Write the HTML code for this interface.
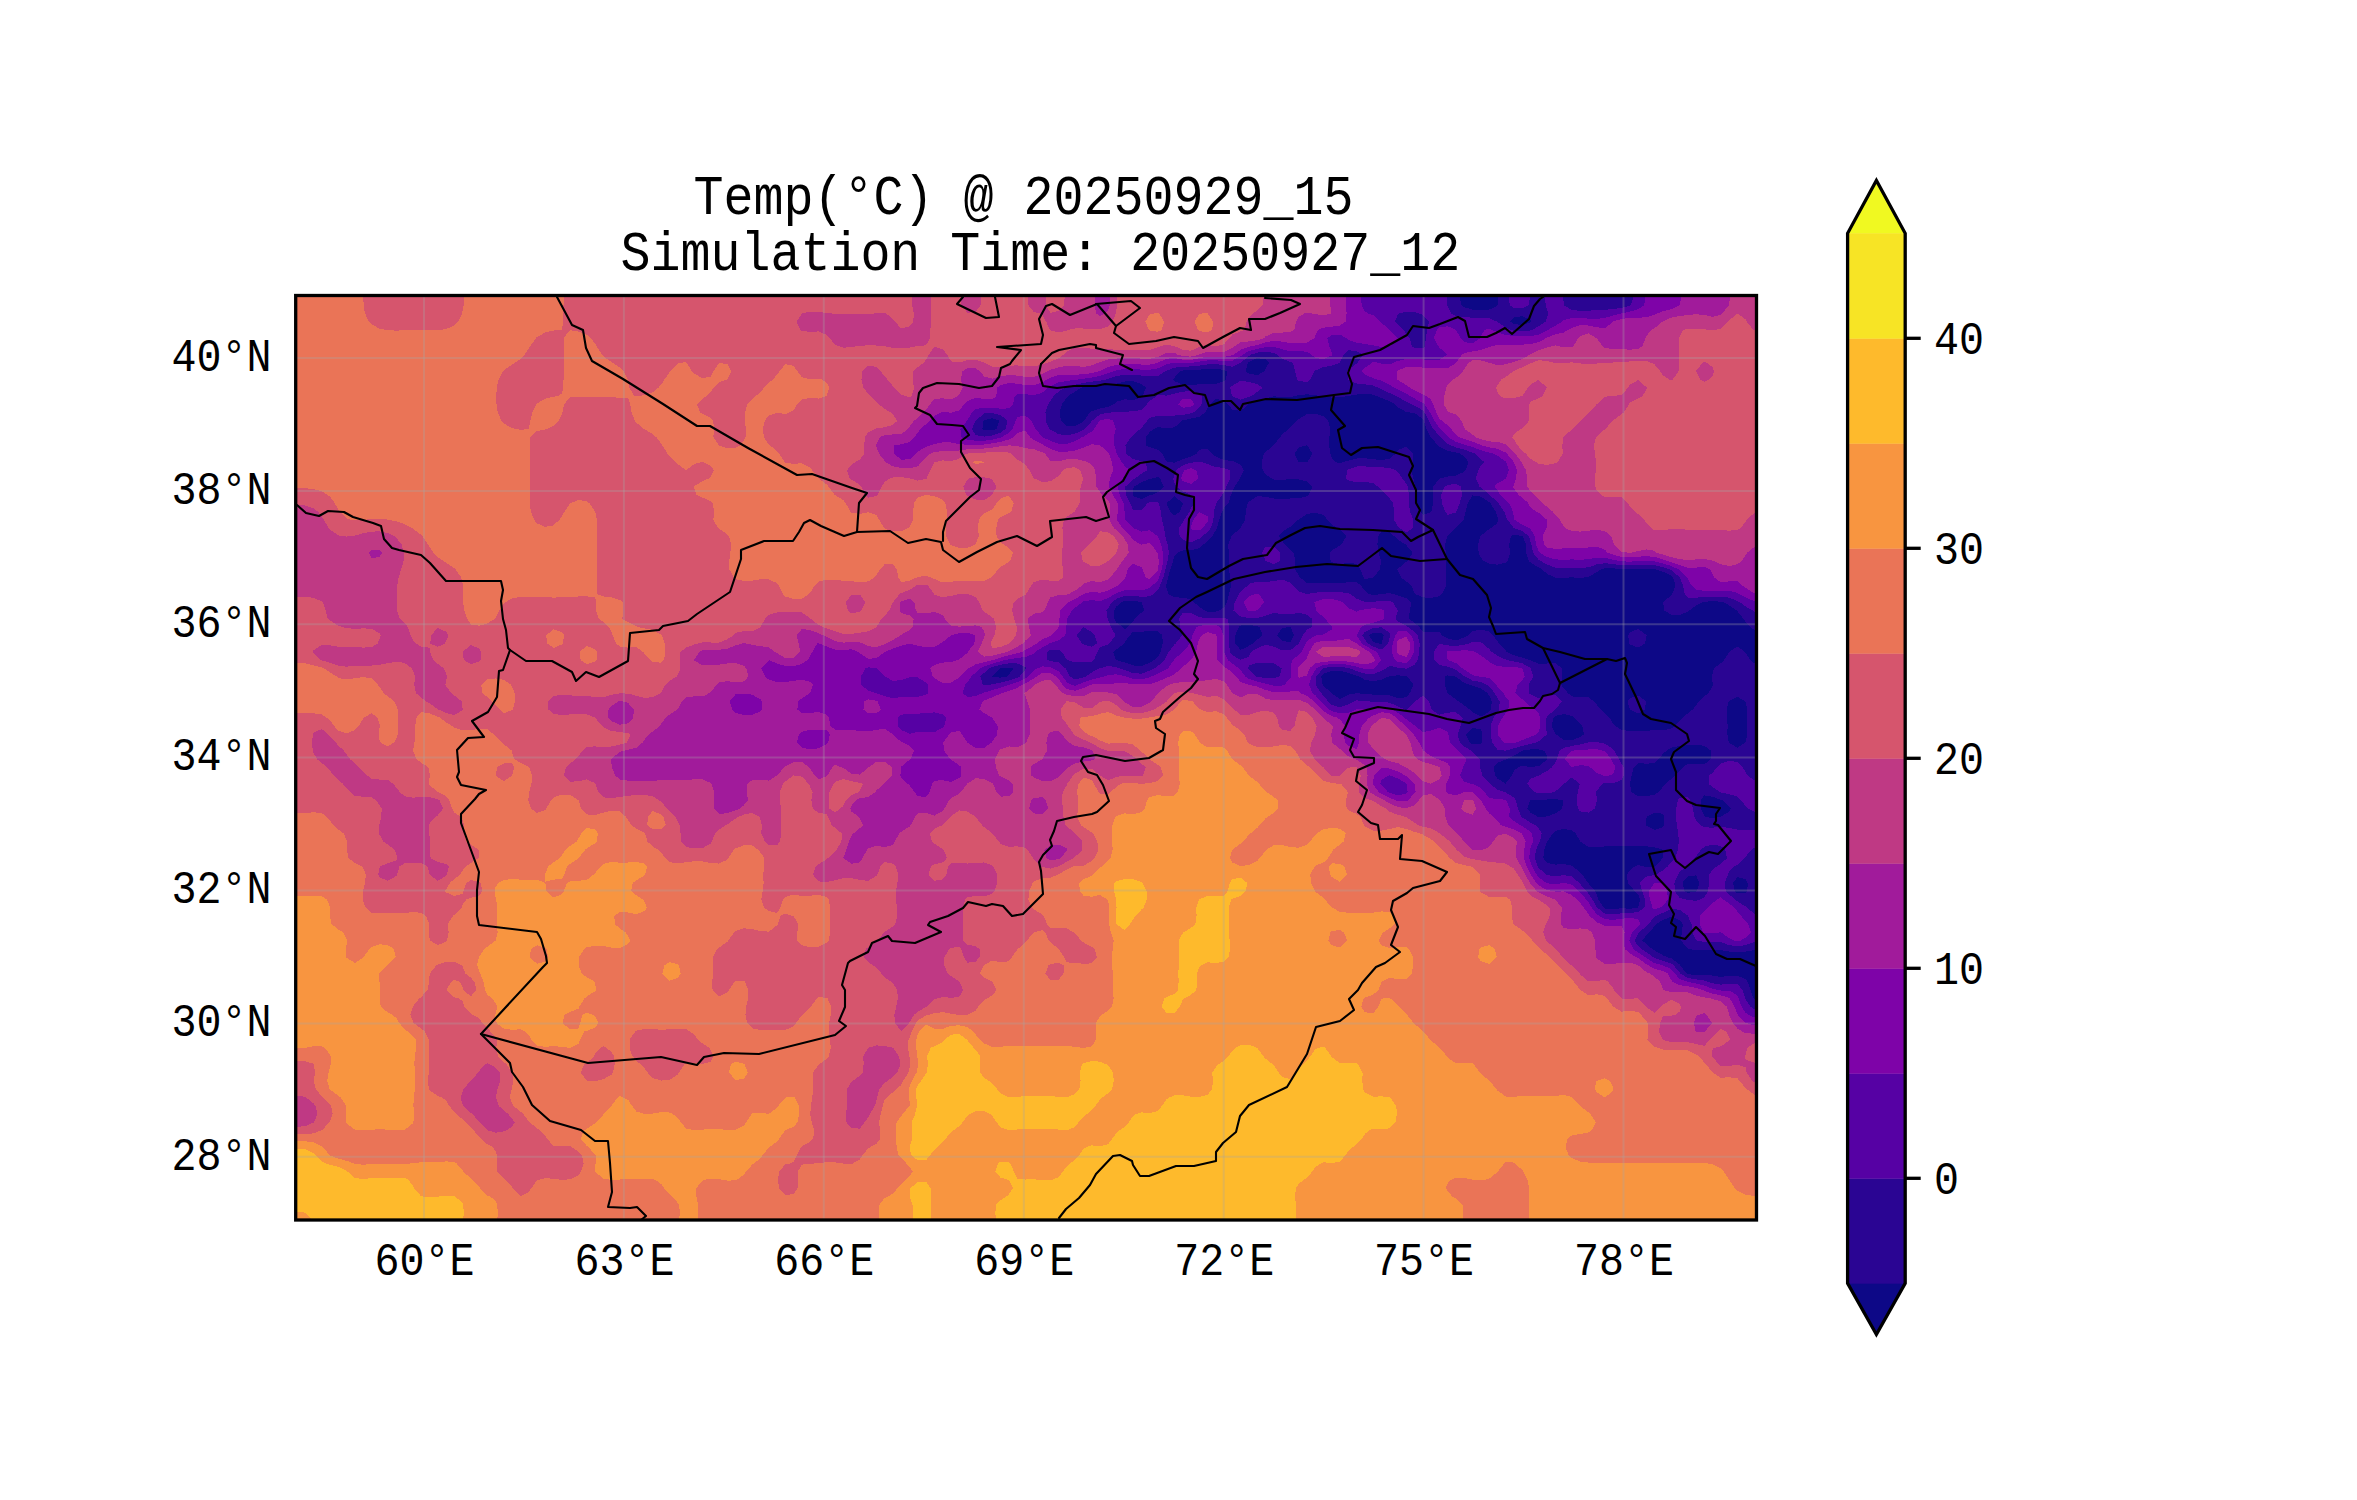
<!DOCTYPE html><html><head><meta charset="utf-8"><style>html,body{margin:0;padding:0;background:#fff;overflow:hidden}svg{display:block}text{font-family:"Liberation Mono",monospace;fill:#000}</style></head><body>
<svg xmlns="http://www.w3.org/2000/svg" width="2357" height="1500" viewBox="0 0 2357 1500">
<rect width="2357" height="1500" fill="#fff"/>
<defs><clipPath id="mc"><rect x="295.7" y="295.5" width="1460.8" height="924.5"/></clipPath></defs>
<g clip-path="url(#mc)" shape-rendering="crispEdges">
<rect x="280" y="280" width="1500" height="960" fill="#0d0887"/>
<path fill="#2a0593" fill-rule="evenodd" d="M288.7 288.7L297.0 288.7L305.2 288.7L313.5 288.7L321.8 288.7L330.1 288.7L338.3 288.7L346.6 288.7L354.9 288.7L363.2 288.7L371.5 288.7L379.7 288.7L388.0 288.7L396.3 288.7L404.6 288.7L412.9 288.7L421.1 288.7L429.4 288.7L437.7 288.7L446.0 288.7L454.2 288.7L462.5 288.7L470.8 288.7L479.1 288.7L487.4 288.7L495.6 288.7L503.9 288.7L512.2 288.7L520.5 288.7L528.8 288.7L537.0 288.7L545.3 288.7L553.6 288.7L561.9 288.7L570.1 288.7L578.4 288.7L586.7 288.7L595.0 288.7L603.3 288.7L611.5 288.7L619.8 288.7L628.1 288.7L636.4 288.7L644.7 288.7L652.9 288.7L661.2 288.7L669.5 288.7L677.8 288.7L686.0 288.7L694.3 288.7L702.6 288.7L710.9 288.7L719.2 288.7L727.4 288.7L735.7 288.7L744.0 288.7L752.3 288.7L760.5 288.7L768.8 288.7L777.1 288.7L785.4 288.7L793.7 288.7L801.9 288.7L810.2 288.7L818.5 288.7L826.8 288.7L835.1 288.7L843.3 288.7L851.6 288.7L859.9 288.7L868.2 288.7L876.4 288.7L884.7 288.7L893.0 288.7L901.3 288.7L909.6 288.7L917.8 288.7L926.1 288.7L934.4 288.7L942.7 288.7L951.0 288.7L959.2 288.7L967.5 288.7L975.8 288.7L984.1 288.7L992.3 288.7L1000.6 288.7L1008.9 288.7L1017.2 288.7L1025.5 288.7L1033.7 288.7L1042.0 288.7L1050.3 288.7L1058.6 288.7L1066.9 288.7L1075.1 288.7L1083.4 288.7L1091.7 288.7L1100.0 288.7L1108.2 288.7L1116.5 288.7L1124.8 288.7L1133.1 288.7L1141.4 288.7L1149.6 288.7L1157.9 288.7L1166.2 288.7L1174.5 288.7L1182.8 288.7L1191.0 288.7L1199.3 288.7L1207.6 288.7L1215.9 288.7L1224.1 288.7L1232.4 288.7L1240.7 288.7L1249.0 288.7L1257.3 288.7L1265.5 288.7L1273.8 288.7L1282.1 288.7L1290.4 288.7L1298.7 288.7L1306.9 288.7L1315.2 288.7L1323.5 288.7L1331.8 288.7L1340.0 288.7L1348.3 288.7L1356.6 288.7L1364.9 288.7L1373.2 288.7L1381.4 288.7L1389.7 288.7L1398.0 288.7L1406.3 288.7L1414.5 288.7L1422.8 288.7L1431.1 288.7L1439.4 288.7L1447.7 288.7L1455.9 288.7L1461.4 288.7L1459.6 296.9L1461.3 305.2L1464.2 307.2L1472.5 309.6L1480.8 310.1L1489.1 309.7L1497.3 305.7L1497.6 305.2L1498.2 296.9L1497.6 288.7L1505.6 288.7L1513.9 288.7L1522.2 288.7L1530.4 288.7L1538.7 288.7L1547.0 288.7L1555.3 288.7L1563.6 288.7L1571.8 288.7L1580.1 288.7L1588.4 288.7L1596.7 288.7L1605.0 288.7L1613.2 288.7L1621.5 288.7L1629.8 288.7L1638.1 288.7L1646.3 288.7L1654.6 288.7L1662.9 288.7L1671.2 288.7L1679.5 288.7L1687.7 288.7L1696.0 288.7L1704.3 288.7L1712.6 288.7L1720.9 288.7L1729.1 288.7L1737.4 288.7L1745.7 288.7L1754.0 288.7L1762.2 288.7L1770.5 288.7L1770.5 296.9L1770.5 305.2L1770.5 313.4L1770.5 321.7L1770.5 329.9L1770.5 338.2L1770.5 346.4L1770.5 354.7L1770.5 362.9L1770.5 371.2L1770.5 379.5L1770.5 387.7L1770.5 396.0L1770.5 404.2L1770.5 412.5L1770.5 420.7L1770.5 429.0L1770.5 437.2L1770.5 445.5L1770.5 453.7L1770.5 462.0L1770.5 470.2L1770.5 478.5L1770.5 486.7L1770.5 495.0L1770.5 503.2L1770.5 511.5L1770.5 519.7L1770.5 528.0L1770.5 536.3L1770.5 544.5L1770.5 552.8L1770.5 561.0L1770.5 569.3L1770.5 577.5L1770.5 585.8L1770.5 594.0L1770.5 602.3L1770.5 610.5L1770.5 618.8L1770.5 627.0L1770.5 629.8L1762.2 630.8L1754.0 629.8L1750.4 627.0L1745.7 621.9L1743.4 618.8L1737.4 611.2L1736.8 610.5L1729.1 605.3L1723.4 602.3L1720.9 601.7L1712.6 601.1L1704.3 601.8L1702.2 602.3L1696.0 605.7L1689.1 610.5L1687.7 611.9L1679.5 614.9L1671.2 614.6L1664.4 610.5L1663.2 602.3L1671.2 595.1L1672.1 594.0L1675.6 585.8L1673.1 577.5L1671.2 575.8L1662.9 571.7L1655.5 569.3L1654.6 569.1L1646.3 568.7L1638.1 569.0L1629.8 569.2L1621.5 569.0L1613.2 568.4L1605.0 568.2L1601.1 569.3L1596.7 572.1L1588.4 577.0L1584.2 577.5L1580.1 578.3L1573.8 577.5L1571.8 577.4L1569.3 577.5L1563.6 578.1L1555.3 577.9L1554.8 577.5L1547.0 573.8L1542.0 569.3L1538.7 567.5L1530.4 562.4L1528.7 561.0L1526.0 552.8L1526.0 544.5L1522.6 536.3L1522.2 535.9L1513.9 534.8L1510.9 536.3L1509.1 544.5L1510.1 552.8L1507.8 561.0L1505.6 562.7L1497.3 564.6L1489.1 563.7L1483.8 561.0L1480.8 557.5L1478.6 552.8L1478.1 544.5L1480.3 536.3L1480.8 535.7L1489.1 529.1L1491.6 528.0L1497.3 523.1L1498.4 519.7L1497.3 516.4L1495.8 511.5L1490.3 503.2L1489.1 502.0L1480.8 496.7L1472.5 495.4L1467.8 503.2L1465.7 511.5L1464.2 517.7L1463.5 519.7L1455.9 527.7L1455.4 528.0L1447.7 535.3L1447.0 536.3L1445.3 544.5L1445.6 552.8L1445.8 561.0L1445.8 569.3L1446.2 577.5L1446.0 585.8L1442.1 594.0L1439.4 596.2L1431.1 597.9L1422.8 597.4L1415.3 594.0L1414.5 593.0L1411.5 585.8L1406.3 581.5L1401.1 577.5L1398.0 570.5L1397.4 569.3L1398.0 568.7L1406.3 561.8L1407.6 561.0L1412.6 552.8L1406.3 545.2L1405.6 544.5L1398.0 539.6L1394.3 536.3L1389.7 531.8L1381.4 531.3L1378.3 536.3L1377.4 544.5L1378.8 552.8L1380.9 561.0L1380.1 569.3L1373.2 577.5L1372.8 577.5L1364.9 579.1L1363.6 577.5L1360.3 569.3L1356.6 563.9L1348.3 562.6L1340.0 564.3L1331.8 562.2L1330.7 561.0L1329.5 552.8L1331.8 550.4L1340.0 545.5L1341.5 544.5L1346.3 536.3L1340.0 530.0L1336.8 528.0L1331.8 524.7L1327.5 519.7L1323.5 515.0L1315.2 512.6L1306.9 514.0L1298.7 519.4L1298.3 519.7L1290.4 526.9L1287.9 528.0L1282.1 531.9L1278.7 536.3L1282.1 540.5L1284.9 544.5L1290.4 550.0L1293.6 552.8L1295.3 561.0L1295.2 569.3L1298.7 575.6L1300.0 577.5L1306.9 582.9L1315.2 583.4L1323.5 582.6L1331.8 583.2L1340.0 583.2L1348.3 582.3L1356.6 581.9L1361.1 585.8L1364.9 590.6L1368.7 594.0L1373.2 595.1L1381.4 594.0L1381.4 594.0L1389.7 593.1L1392.7 594.0L1398.0 595.4L1406.3 598.2L1411.4 602.3L1409.8 610.5L1409.0 618.8L1414.5 622.9L1419.3 627.0L1422.8 631.8L1431.1 632.2L1439.4 632.0L1442.0 635.3L1447.7 638.4L1455.9 640.4L1464.2 637.6L1468.4 635.3L1472.5 631.1L1480.8 629.5L1489.1 631.5L1493.0 635.3L1497.3 641.2L1498.9 643.5L1505.6 650.5L1506.7 651.8L1513.9 655.2L1522.2 657.6L1529.9 660.0L1530.4 660.2L1538.7 663.7L1547.0 663.5L1555.3 663.1L1562.1 668.3L1562.2 676.5L1560.9 684.8L1563.6 687.9L1568.0 693.1L1571.8 696.4L1580.1 697.1L1588.4 697.1L1593.5 701.3L1596.7 704.7L1600.6 709.6L1605.0 713.5L1609.5 717.8L1613.2 723.9L1615.3 726.1L1621.5 729.8L1629.8 731.1L1638.1 731.5L1646.3 730.8L1654.6 730.2L1662.9 730.3L1671.2 728.7L1674.4 726.1L1679.5 720.6L1682.2 717.8L1687.7 713.4L1692.7 709.6L1696.0 705.4L1698.7 701.3L1704.3 696.3L1708.7 693.1L1712.6 685.4L1712.8 684.8L1712.6 682.7L1712.0 676.5L1712.6 673.4L1713.9 668.3L1720.9 663.1L1724.2 660.0L1729.1 652.1L1729.4 651.8L1737.4 646.5L1744.7 651.8L1745.7 653.0L1750.3 660.0L1754.0 663.1L1762.2 664.0L1770.5 663.1L1770.5 668.3L1770.5 676.5L1770.5 684.8L1770.5 693.1L1770.5 701.3L1770.5 709.6L1770.5 717.8L1770.5 726.1L1770.5 734.3L1770.5 742.6L1770.5 750.8L1770.5 759.1L1770.5 767.3L1770.5 775.6L1770.5 783.8L1770.5 792.1L1770.5 800.3L1770.5 808.6L1770.5 816.8L1770.5 825.1L1770.5 833.3L1770.5 841.6L1770.5 849.9L1770.5 858.1L1770.5 866.4L1770.5 874.6L1770.5 882.9L1770.5 891.1L1770.5 899.4L1770.5 907.6L1770.5 915.9L1770.5 924.1L1770.5 932.4L1770.5 940.6L1770.5 948.9L1770.5 950.2L1762.2 949.7L1754.0 950.2L1745.7 951.6L1737.4 952.2L1729.1 951.6L1720.9 950.1L1712.6 949.6L1704.3 950.1L1696.0 950.2L1688.8 948.9L1687.7 948.5L1681.0 940.6L1681.7 932.4L1682.9 924.1L1679.5 920.0L1671.2 916.8L1662.9 919.9L1656.5 924.1L1654.6 926.3L1648.9 932.4L1646.3 935.2L1642.4 940.6L1646.3 944.1L1652.1 948.9L1654.6 950.5L1662.9 955.3L1666.9 957.1L1671.2 958.2L1679.5 964.3L1680.0 965.4L1687.0 973.6L1687.7 974.1L1696.0 975.2L1704.3 974.8L1712.6 975.6L1720.9 976.9L1729.1 976.0L1737.4 975.7L1745.7 979.3L1747.7 981.9L1750.4 990.1L1753.6 998.4L1754.0 998.8L1762.2 1000.7L1770.5 998.8L1770.5 1006.7L1770.5 1014.9L1770.5 1023.2L1770.5 1031.4L1770.5 1039.7L1770.5 1047.9L1770.5 1056.2L1770.5 1064.4L1770.5 1072.7L1770.5 1080.9L1770.5 1089.2L1770.5 1097.4L1770.5 1105.7L1770.5 1113.9L1770.5 1122.2L1770.5 1130.4L1770.5 1138.7L1770.5 1146.9L1770.5 1155.2L1770.5 1163.5L1770.5 1171.7L1770.5 1180.0L1770.5 1188.2L1770.5 1196.5L1770.5 1204.7L1770.5 1213.0L1770.5 1221.2L1770.5 1229.5L1770.5 1237.7L1762.2 1237.7L1754.0 1237.7L1745.7 1237.7L1737.4 1237.7L1729.1 1237.7L1720.9 1237.7L1712.6 1237.7L1704.3 1237.7L1696.0 1237.7L1687.7 1237.7L1679.5 1237.7L1671.2 1237.7L1662.9 1237.7L1654.6 1237.7L1646.3 1237.7L1638.1 1237.7L1629.8 1237.7L1621.5 1237.7L1613.2 1237.7L1605.0 1237.7L1596.7 1237.7L1588.4 1237.7L1580.1 1237.7L1571.8 1237.7L1563.6 1237.7L1555.3 1237.7L1547.0 1237.7L1538.7 1237.7L1530.4 1237.7L1522.2 1237.7L1513.9 1237.7L1505.6 1237.7L1497.3 1237.7L1489.1 1237.7L1480.8 1237.7L1472.5 1237.7L1464.2 1237.7L1455.9 1237.7L1447.7 1237.7L1439.4 1237.7L1431.1 1237.7L1422.8 1237.7L1414.5 1237.7L1406.3 1237.7L1398.0 1237.7L1389.7 1237.7L1381.4 1237.7L1373.2 1237.7L1364.9 1237.7L1356.6 1237.7L1348.3 1237.7L1340.0 1237.7L1331.8 1237.7L1323.5 1237.7L1315.2 1237.7L1306.9 1237.7L1298.7 1237.7L1290.4 1237.7L1282.1 1237.7L1273.8 1237.7L1265.5 1237.7L1257.3 1237.7L1249.0 1237.7L1240.7 1237.7L1232.4 1237.7L1224.1 1237.7L1215.9 1237.7L1207.6 1237.7L1199.3 1237.7L1191.0 1237.7L1182.8 1237.7L1174.5 1237.7L1166.2 1237.7L1157.9 1237.7L1149.6 1237.7L1141.4 1237.7L1133.1 1237.7L1124.8 1237.7L1116.5 1237.7L1108.2 1237.7L1100.0 1237.7L1091.7 1237.7L1083.4 1237.7L1075.1 1237.7L1066.9 1237.7L1058.6 1237.7L1050.3 1237.7L1042.0 1237.7L1033.7 1237.7L1025.5 1237.7L1017.2 1237.7L1008.9 1237.7L1000.6 1237.7L992.3 1237.7L984.1 1237.7L975.8 1237.7L967.5 1237.7L959.2 1237.7L951.0 1237.7L942.7 1237.7L934.4 1237.7L926.1 1237.7L917.8 1237.7L909.6 1237.7L901.3 1237.7L893.0 1237.7L884.7 1237.7L876.4 1237.7L868.2 1237.7L859.9 1237.7L851.6 1237.7L843.3 1237.7L835.1 1237.7L826.8 1237.7L818.5 1237.7L810.2 1237.7L801.9 1237.7L793.7 1237.7L785.4 1237.7L777.1 1237.7L768.8 1237.7L760.5 1237.7L752.3 1237.7L744.0 1237.7L735.7 1237.7L727.4 1237.7L719.2 1237.7L710.9 1237.7L702.6 1237.7L694.3 1237.7L686.0 1237.7L677.8 1237.7L669.5 1237.7L661.2 1237.7L652.9 1237.7L644.7 1237.7L636.4 1237.7L628.1 1237.7L619.8 1237.7L611.5 1237.7L603.3 1237.7L595.0 1237.7L586.7 1237.7L578.4 1237.7L570.1 1237.7L561.9 1237.7L553.6 1237.7L545.3 1237.7L537.0 1237.7L528.8 1237.7L520.5 1237.7L512.2 1237.7L503.9 1237.7L495.6 1237.7L487.4 1237.7L479.1 1237.7L470.8 1237.7L462.5 1237.7L454.2 1237.7L446.0 1237.7L437.7 1237.7L429.4 1237.7L421.1 1237.7L412.9 1237.7L404.6 1237.7L396.3 1237.7L388.0 1237.7L379.7 1237.7L371.5 1237.7L363.2 1237.7L354.9 1237.7L346.6 1237.7L338.3 1237.7L330.1 1237.7L321.8 1237.7L313.5 1237.7L305.2 1237.7L297.0 1237.7L288.7 1237.7L288.7 1229.5L288.7 1221.2L288.7 1213.0L288.7 1204.7L288.7 1196.5L288.7 1188.2L288.7 1180.0L288.7 1171.7L288.7 1163.5L288.7 1155.2L288.7 1146.9L288.7 1138.7L288.7 1130.4L288.7 1122.2L288.7 1113.9L288.7 1105.7L288.7 1097.4L288.7 1089.2L288.7 1080.9L288.7 1072.7L288.7 1064.4L288.7 1056.2L288.7 1047.9L288.7 1039.7L288.7 1031.4L288.7 1023.2L288.7 1014.9L288.7 1006.7L288.7 998.4L288.7 990.1L288.7 981.9L288.7 973.6L288.7 965.4L288.7 957.1L288.7 948.9L288.7 940.6L288.7 932.4L288.7 924.1L288.7 915.9L288.7 907.6L288.7 899.4L288.7 891.1L288.7 882.9L288.7 874.6L288.7 866.4L288.7 858.1L288.7 849.9L288.7 841.6L288.7 833.3L288.7 825.1L288.7 816.8L288.7 808.6L288.7 800.3L288.7 792.1L288.7 783.8L288.7 775.6L288.7 767.3L288.7 759.1L288.7 750.8L288.7 742.6L288.7 734.3L288.7 726.1L288.7 717.8L288.7 709.6L288.7 701.3L288.7 693.1L288.7 684.8L288.7 676.5L288.7 668.3L288.7 660.0L288.7 651.8L288.7 643.5L288.7 635.3L288.7 627.0L288.7 618.8L288.7 610.5L288.7 602.3L288.7 594.0L288.7 585.8L288.7 577.5L288.7 569.3L288.7 561.0L288.7 552.8L288.7 544.5L288.7 536.3L288.7 528.0L288.7 519.7L288.7 511.5L288.7 503.2L288.7 495.0L288.7 486.7L288.7 478.5L288.7 470.2L288.7 462.0L288.7 453.7L288.7 445.5L288.7 437.2L288.7 429.0L288.7 420.7L288.7 412.5L288.7 404.2L288.7 396.0L288.7 387.7L288.7 379.5L288.7 371.2L288.7 362.9L288.7 354.7L288.7 346.4L288.7 338.2L288.7 329.9L288.7 321.7L288.7 313.4L288.7 305.2L288.7 296.9ZM984.1 420.1L983.3 420.7L982.4 429.0L984.1 430.0L992.3 430.5L996.4 429.0L999.4 420.7L992.3 418.3ZM1000.6 668.3L1000.6 668.3L992.3 675.9L991.5 676.5L992.3 677.0L1000.6 677.6L1007.0 676.5L1008.9 674.5L1013.4 668.3L1008.9 667.5ZM1083.4 387.0L1080.8 387.7L1075.1 391.6L1068.1 396.0L1066.9 397.5L1062.0 404.2L1059.6 412.5L1061.1 420.7L1066.9 425.9L1075.1 426.1L1083.4 421.6L1084.2 420.7L1089.8 412.5L1091.7 411.1L1100.0 408.6L1108.2 406.8L1114.1 404.2L1116.5 401.8L1124.8 399.2L1133.1 400.4L1141.4 397.2L1142.5 396.0L1146.1 387.7L1141.4 383.9L1133.1 381.3L1124.8 381.5L1116.5 383.7L1108.2 385.3L1100.0 385.6L1091.7 385.9ZM1182.8 370.5L1179.8 371.2L1174.5 377.6L1172.8 379.5L1174.5 381.1L1182.8 384.9L1191.0 385.2L1199.3 384.3L1207.6 383.8L1215.9 384.1L1224.1 381.0L1225.9 379.5L1227.3 371.2L1224.1 370.0L1215.9 368.7L1207.6 369.1L1199.3 369.6L1191.0 369.8ZM1249.0 362.1L1248.0 362.9L1245.4 371.2L1249.0 373.6L1257.3 375.2L1264.3 371.2L1265.5 368.9L1268.9 362.9L1265.5 359.5L1257.3 358.0ZM1298.7 395.2L1295.3 396.0L1290.4 397.3L1282.1 397.2L1273.8 396.2L1265.5 398.3L1257.3 400.6L1249.0 404.1L1248.8 404.2L1240.7 410.9L1232.4 409.6L1227.7 404.2L1224.1 401.0L1215.9 398.7L1209.8 404.2L1207.6 407.7L1205.1 412.5L1199.3 416.7L1191.0 418.5L1182.8 420.4L1181.8 420.7L1174.5 427.4L1166.2 428.3L1157.9 426.9L1153.6 429.0L1149.6 432.2L1145.9 437.2L1145.6 445.5L1149.6 446.9L1157.9 449.7L1162.3 453.7L1166.2 461.2L1168.5 462.0L1174.5 462.7L1175.8 462.0L1182.8 459.3L1191.0 456.4L1196.4 453.7L1199.3 449.7L1207.6 448.6L1212.2 453.7L1215.9 456.6L1224.1 460.1L1232.4 460.9L1235.7 462.0L1240.7 465.1L1243.8 470.2L1240.7 476.9L1240.2 478.5L1234.5 486.7L1232.4 491.1L1231.0 495.0L1228.3 503.2L1224.1 507.9L1222.0 511.5L1219.2 519.7L1216.9 528.0L1215.9 529.9L1212.3 536.3L1207.6 541.3L1203.5 544.5L1199.3 548.1L1191.0 550.3L1182.8 550.4L1177.8 552.8L1174.5 555.8L1173.0 561.0L1170.4 569.3L1168.0 577.5L1166.2 585.0L1166.0 585.8L1166.2 587.5L1168.5 594.0L1174.5 597.4L1182.8 597.6L1191.0 599.5L1193.8 602.3L1199.3 606.7L1204.6 610.5L1207.6 611.6L1215.9 611.6L1219.5 610.5L1224.1 607.3L1226.9 602.3L1229.1 594.0L1231.1 585.8L1230.1 577.5L1229.1 569.3L1229.1 561.0L1228.7 552.8L1228.3 544.5L1231.5 536.3L1232.4 535.4L1240.3 528.0L1240.7 527.4L1245.4 519.7L1245.6 511.5L1247.7 503.2L1249.0 501.8L1257.3 496.0L1265.5 496.8L1273.8 498.5L1282.1 498.6L1290.4 498.5L1298.7 498.4L1306.9 496.3L1308.5 495.0L1312.4 486.7L1306.9 481.5L1298.7 479.3L1290.4 479.1L1282.1 479.8L1273.8 479.5L1271.8 478.5L1265.5 474.4L1262.7 470.2L1261.5 462.0L1264.0 453.7L1265.5 452.0L1273.4 445.5L1273.8 445.1L1280.0 437.2L1282.1 434.6L1288.5 429.0L1290.4 427.6L1297.3 420.7L1298.7 419.2L1306.9 414.1L1315.2 413.7L1323.5 416.3L1328.3 420.7L1330.2 429.0L1329.4 437.2L1329.1 445.5L1330.3 453.7L1331.8 457.8L1335.7 462.0L1340.0 463.4L1343.7 462.0L1348.3 460.6L1356.6 458.5L1364.9 458.2L1373.2 459.2L1381.4 460.0L1389.7 458.7L1395.6 453.7L1398.0 450.0L1406.3 446.5L1413.3 453.7L1412.7 462.0L1411.1 470.2L1413.4 478.5L1414.5 482.9L1415.8 486.7L1416.1 495.0L1416.5 503.2L1420.3 511.5L1422.8 514.9L1431.1 512.3L1431.5 511.5L1433.1 503.2L1432.7 495.0L1433.0 486.7L1439.4 478.9L1440.3 478.5L1447.7 476.5L1455.9 475.5L1464.2 471.8L1465.5 470.2L1468.7 462.0L1464.2 456.7L1460.3 453.7L1455.9 452.5L1447.7 450.8L1439.4 446.5L1438.2 445.5L1431.1 437.6L1430.8 437.2L1426.3 429.0L1423.7 420.7L1422.8 419.1L1414.5 412.9L1410.4 412.5L1406.3 412.0L1398.0 407.4L1395.2 404.2L1389.7 401.3L1381.4 398.0L1376.7 396.0L1373.2 394.7L1364.9 393.6L1356.6 394.6L1348.7 396.0L1348.3 396.1L1340.0 397.3L1331.8 397.6L1323.5 396.9L1319.1 396.0L1315.2 395.2L1306.9 394.3ZM1513.9 317.6L1510.2 321.7L1513.9 323.8L1522.2 325.2L1530.4 322.2L1531.2 321.7L1530.4 319.7L1522.2 316.1ZM1290.4 627.0L1289.9 627.0L1282.1 628.0L1277.0 635.3L1282.1 641.1L1290.4 642.0L1294.2 635.3L1290.5 627.0ZM1323.5 673.9L1321.3 676.5L1322.7 684.8L1323.5 685.9L1331.5 693.1L1331.8 693.5L1340.0 699.0L1348.3 694.7L1356.6 693.2L1364.9 693.9L1373.2 694.6L1381.4 694.6L1389.7 695.3L1398.0 698.3L1406.3 697.2L1409.8 693.1L1413.7 684.8L1407.5 676.5L1406.3 676.2L1398.0 675.3L1389.7 676.1L1388.5 676.5L1381.4 679.8L1373.2 681.1L1364.9 679.9L1359.5 676.5L1356.6 675.7L1348.3 672.9L1340.0 670.9L1331.8 670.6ZM1373.2 632.7L1368.8 635.3L1373.2 642.0L1378.7 643.5L1381.4 643.9L1381.8 643.5L1383.7 635.3L1381.4 633.2ZM1447.7 675.4L1445.3 676.5L1444.6 684.8L1447.4 693.1L1447.7 693.4L1455.9 699.2L1458.3 701.3L1464.2 705.3L1469.8 709.6L1472.5 712.3L1480.8 716.6L1489.1 712.0L1490.6 709.6L1491.9 701.3L1489.1 695.6L1487.4 693.1L1480.8 688.4L1472.5 685.7L1470.3 684.8L1464.2 682.8L1455.9 676.7L1455.3 676.5ZM1522.2 750.7L1521.7 750.8L1513.9 755.9L1506.3 759.1L1505.6 759.6L1497.3 762.8L1493.6 767.3L1495.1 775.6L1497.3 778.4L1505.6 783.6L1511.8 775.6L1513.9 771.0L1517.9 767.3L1522.2 765.9L1530.4 767.0L1538.7 766.2L1547.0 759.6L1547.4 759.1L1547.0 755.9L1544.7 750.8L1538.7 749.4L1530.4 749.5ZM1555.3 716.0L1553.3 717.8L1551.6 726.1L1555.3 733.4L1556.1 734.3L1563.6 739.9L1571.8 740.5L1580.1 736.8L1584.0 734.3L1582.3 726.1L1580.1 723.6L1574.0 717.8L1571.8 715.9L1563.6 714.0ZM1671.2 747.7L1666.4 750.8L1662.9 753.9L1658.5 759.1L1654.6 763.0L1646.3 763.7L1638.1 763.0L1633.7 767.3L1631.6 775.6L1630.0 783.8L1631.5 792.1L1638.1 796.3L1646.3 796.4L1654.6 794.6L1658.4 792.1L1662.9 787.0L1665.5 783.8L1671.2 779.1L1675.4 775.6L1679.5 771.0L1682.8 767.3L1687.7 763.8L1696.0 764.4L1704.3 764.5L1710.5 759.1L1711.2 750.8L1704.3 745.8L1696.0 744.5L1687.7 745.1L1679.5 746.0ZM1729.1 700.9L1728.8 701.3L1726.7 709.6L1727.3 717.8L1727.6 726.1L1727.3 734.3L1728.8 742.6L1729.1 743.0L1737.4 747.7L1745.3 742.6L1745.7 741.7L1747.4 734.3L1747.1 726.1L1747.1 717.8L1747.4 709.6L1745.7 702.1L1745.3 701.3L1737.4 696.7ZM1124.8 600.7L1121.1 602.3L1116.5 606.5L1114.0 610.5L1114.5 618.8L1116.5 622.5L1122.9 627.0L1124.8 629.6L1127.7 627.0L1133.1 621.4L1134.3 618.8L1141.4 612.7L1144.4 610.5L1141.6 602.3L1141.4 602.2L1133.1 600.6ZM1157.9 476.9L1152.0 478.5L1149.6 478.9L1141.4 482.4L1133.7 486.7L1133.1 490.0L1132.6 495.0L1133.1 496.0L1141.4 499.2L1149.6 495.4L1151.6 495.0L1157.9 492.2L1163.6 486.7L1160.3 478.5ZM1174.5 496.3L1166.4 503.2L1170.0 511.5L1174.5 515.4L1179.9 511.5L1182.8 504.1L1182.9 503.2L1182.8 503.0ZM1240.7 625.5L1238.9 627.0L1235.2 635.3L1235.2 643.5L1240.7 649.9L1249.0 645.8L1252.6 643.5L1257.3 639.5L1262.6 635.3L1259.6 627.0L1257.3 626.3L1249.0 624.8ZM1306.9 445.2L1305.6 445.5L1298.7 447.4L1294.4 453.7L1298.6 462.0L1298.7 462.0L1306.9 462.5L1307.6 462.0L1312.5 453.7L1307.4 445.5ZM1472.5 728.0L1465.8 734.3L1469.7 742.6L1472.5 744.2L1480.8 743.7L1481.7 742.6L1482.5 734.3L1480.8 729.3ZM1530.4 800.2L1530.2 800.3L1527.3 808.6L1530.4 812.5L1537.9 816.8L1538.7 817.2L1542.8 816.8L1547.0 816.4L1555.3 813.5L1562.3 808.6L1562.9 800.3L1555.3 799.1L1547.0 799.5L1538.7 799.9ZM1654.6 812.6L1646.6 816.8L1646.3 819.2L1645.9 825.1L1646.3 825.6L1654.6 829.9L1662.9 827.2L1664.1 825.1L1664.5 816.8L1662.9 813.7ZM1687.7 876.3L1682.4 882.9L1684.6 891.1L1687.7 892.8L1696.0 891.8L1696.9 891.1L1699.5 882.9L1696.0 875.4ZM1704.3 795.3L1700.6 800.3L1700.7 808.6L1704.3 816.1L1706.1 816.8L1712.6 818.2L1720.4 816.8L1720.9 816.7L1729.1 811.6L1731.0 808.6L1729.1 806.4L1722.8 800.3L1720.9 799.7L1712.6 796.8ZM1737.4 876.9L1733.1 882.9L1734.7 891.1L1737.4 893.5L1745.7 892.9L1747.4 891.1L1747.6 882.9L1745.7 879.3ZM1133.1 631.7L1129.8 635.3L1124.8 642.3L1124.2 643.5L1116.5 649.4L1113.2 651.8L1116.0 660.0L1116.5 660.2L1124.8 662.4L1133.1 665.4L1141.4 666.3L1149.6 662.7L1154.1 660.0L1157.9 656.7L1160.7 651.8L1162.7 643.5L1162.4 635.3L1157.9 631.1L1149.6 631.0L1141.4 631.7ZM1555.3 830.8L1552.7 833.3L1547.3 841.6L1547.0 842.2L1544.1 849.9L1543.3 858.1L1547.0 862.8L1555.3 864.6L1563.6 864.0L1571.8 865.7L1572.5 866.4L1580.1 872.2L1582.2 874.6L1588.1 882.9L1588.4 883.3L1595.1 891.1L1596.7 894.6L1598.4 899.4L1603.6 907.6L1605.0 908.6L1613.2 909.2L1621.5 908.2L1629.8 908.8L1637.9 907.6L1638.1 907.5L1640.3 899.4L1638.1 894.1L1634.7 891.1L1629.8 884.9L1627.6 882.9L1627.3 874.6L1629.8 870.1L1634.7 866.4L1638.1 864.8L1643.4 866.4L1646.3 866.9L1654.6 866.6L1655.0 866.4L1662.8 858.1L1662.9 853.8L1663.0 849.9L1662.9 849.7L1654.6 847.3L1646.3 846.3L1638.1 845.6L1629.8 845.8L1621.5 846.5L1613.2 846.4L1605.0 846.4L1596.7 847.3L1588.4 847.1L1580.4 841.6L1580.1 841.2L1575.6 833.3L1571.8 830.3L1563.6 829.0ZM1628.1 635.3L1629.8 632.6L1638.1 628.9L1646.3 634.8L1646.6 635.3L1646.3 637.2L1645.0 643.5L1638.1 647.6L1629.8 644.3L1629.2 643.5ZM1627.5 701.3L1629.8 698.1L1638.1 695.5L1646.3 701.3L1644.6 709.6L1638.1 713.4L1629.8 709.6L1629.8 709.5Z"/>
<path fill="#5601a4" fill-rule="evenodd" d="M288.7 288.7L297.0 288.7L305.2 288.7L313.5 288.7L321.8 288.7L330.1 288.7L338.3 288.7L346.6 288.7L354.9 288.7L363.2 288.7L371.5 288.7L379.7 288.7L388.0 288.7L396.3 288.7L404.6 288.7L412.9 288.7L421.1 288.7L429.4 288.7L437.7 288.7L446.0 288.7L454.2 288.7L462.5 288.7L470.8 288.7L479.1 288.7L487.4 288.7L495.6 288.7L503.9 288.7L512.2 288.7L520.5 288.7L528.8 288.7L537.0 288.7L545.3 288.7L553.6 288.7L561.9 288.7L570.1 288.7L578.4 288.7L586.7 288.7L595.0 288.7L603.3 288.7L611.5 288.7L619.8 288.7L628.1 288.7L636.4 288.7L644.7 288.7L652.9 288.7L661.2 288.7L669.5 288.7L677.8 288.7L686.0 288.7L694.3 288.7L702.6 288.7L710.9 288.7L719.2 288.7L727.4 288.7L735.7 288.7L744.0 288.7L752.3 288.7L760.5 288.7L768.8 288.7L777.1 288.7L785.4 288.7L793.7 288.7L801.9 288.7L810.2 288.7L818.5 288.7L826.8 288.7L835.1 288.7L843.3 288.7L851.6 288.7L859.9 288.7L868.2 288.7L876.4 288.7L884.7 288.7L893.0 288.7L901.3 288.7L909.6 288.7L917.8 288.7L926.1 288.7L934.4 288.7L942.7 288.7L951.0 288.7L959.2 288.7L967.5 288.7L975.8 288.7L984.1 288.7L992.3 288.7L1000.6 288.7L1008.9 288.7L1017.2 288.7L1025.5 288.7L1033.7 288.7L1042.0 288.7L1050.3 288.7L1058.6 288.7L1066.9 288.7L1075.1 288.7L1083.4 288.7L1091.7 288.7L1100.0 288.7L1108.2 288.7L1116.5 288.7L1124.8 288.7L1133.1 288.7L1141.4 288.7L1149.6 288.7L1157.9 288.7L1166.2 288.7L1174.5 288.7L1182.8 288.7L1191.0 288.7L1199.3 288.7L1207.6 288.7L1215.9 288.7L1224.1 288.7L1232.4 288.7L1240.7 288.7L1249.0 288.7L1257.3 288.7L1265.5 288.7L1273.8 288.7L1282.1 288.7L1290.4 288.7L1298.7 288.7L1306.9 288.7L1315.2 288.7L1323.5 288.7L1331.8 288.7L1340.0 288.7L1348.3 288.7L1356.6 288.7L1364.9 288.7L1373.2 288.7L1381.4 288.7L1389.7 288.7L1398.0 288.7L1406.3 288.7L1414.5 288.7L1422.8 288.7L1431.1 288.7L1439.4 288.7L1447.2 288.7L1446.9 296.9L1447.2 305.2L1447.7 306.7L1451.0 313.4L1455.9 315.7L1464.2 317.3L1472.5 317.6L1480.8 317.6L1489.1 318.3L1497.2 321.7L1497.3 321.7L1505.6 327.5L1510.7 329.9L1513.9 330.8L1522.2 331.5L1530.4 330.5L1532.2 329.9L1538.7 326.1L1545.8 321.7L1547.0 317.7L1548.5 313.4L1547.0 309.6L1545.7 305.2L1545.1 296.9L1545.7 288.7L1547.0 288.7L1555.3 288.7L1563.6 288.7L1564.1 288.7L1563.6 292.7L1563.0 296.9L1563.6 301.4L1564.0 305.2L1571.8 310.1L1580.1 310.8L1588.4 310.6L1596.7 310.3L1605.0 309.8L1613.2 309.0L1621.5 307.9L1629.8 305.6L1630.7 305.2L1633.7 296.9L1630.5 288.7L1638.1 288.7L1646.3 288.7L1654.6 288.7L1662.9 288.7L1671.2 288.7L1679.5 288.7L1687.7 288.7L1696.0 288.7L1704.3 288.7L1712.6 288.7L1720.9 288.7L1729.1 288.7L1737.4 288.7L1745.7 288.7L1754.0 288.7L1762.2 288.7L1770.5 288.7L1770.5 296.9L1770.5 305.2L1770.5 313.4L1770.5 321.7L1770.5 329.9L1770.5 338.2L1770.5 346.4L1770.5 354.7L1770.5 362.9L1770.5 371.2L1770.5 379.5L1770.5 387.7L1770.5 396.0L1770.5 404.2L1770.5 412.5L1770.5 420.7L1770.5 429.0L1770.5 437.2L1770.5 445.5L1770.5 453.7L1770.5 462.0L1770.5 470.2L1770.5 478.5L1770.5 486.7L1770.5 495.0L1770.5 503.2L1770.5 511.5L1770.5 519.7L1770.5 528.0L1770.5 536.3L1770.5 544.5L1770.5 552.8L1770.5 561.0L1770.5 569.3L1770.5 577.5L1770.5 585.8L1770.5 594.0L1770.5 602.3L1770.5 610.5L1770.5 611.6L1762.2 613.4L1754.0 611.6L1752.9 610.5L1745.7 606.6L1739.9 602.3L1737.4 600.9L1729.1 597.6L1720.9 596.5L1712.6 596.5L1704.3 597.0L1696.0 597.7L1687.7 597.6L1684.7 594.0L1683.1 585.8L1679.9 577.5L1679.5 577.1L1671.2 570.0L1669.8 569.3L1662.9 567.0L1654.6 565.3L1646.3 564.8L1638.1 565.1L1629.8 565.4L1621.5 565.2L1613.2 564.1L1605.0 563.2L1596.7 564.4L1588.4 567.3L1580.1 568.1L1571.8 567.6L1563.6 568.0L1555.3 567.7L1547.0 564.5L1540.9 561.0L1538.7 559.8L1533.0 552.8L1531.3 544.5L1530.4 541.2L1528.8 536.3L1522.2 530.8L1513.9 528.0L1513.9 528.0L1507.3 519.7L1505.6 515.1L1504.1 511.5L1498.4 503.2L1497.3 502.1L1489.9 495.0L1489.1 494.1L1480.8 487.4L1479.6 486.7L1475.7 478.5L1478.3 470.2L1480.8 465.6L1484.5 462.0L1480.8 459.5L1475.7 453.7L1472.5 452.6L1464.2 449.7L1455.9 447.4L1451.0 445.5L1447.7 443.7L1440.5 437.2L1439.4 436.1L1433.4 429.0L1431.1 425.4L1428.9 420.7L1424.5 412.5L1422.8 410.3L1414.5 405.5L1411.3 404.2L1406.3 401.9L1398.0 397.0L1396.1 396.0L1389.7 393.1L1381.4 389.2L1378.3 387.7L1373.2 385.6L1364.9 384.3L1356.6 383.5L1348.3 379.6L1348.1 379.5L1347.2 371.2L1348.3 369.7L1356.6 363.6L1357.3 362.9L1363.2 354.7L1356.6 351.0L1348.3 350.3L1343.7 354.7L1340.0 362.2L1339.4 362.9L1331.8 365.7L1323.5 367.0L1315.2 370.6L1314.5 371.2L1310.4 379.5L1306.9 382.0L1298.7 380.8L1297.2 379.5L1295.2 371.2L1293.0 362.9L1290.4 361.9L1282.1 358.9L1277.5 354.7L1273.8 353.0L1265.5 351.7L1257.3 352.6L1250.9 354.7L1249.0 355.8L1240.7 362.9L1240.5 362.9L1232.4 366.8L1224.1 365.1L1215.9 364.2L1207.6 364.4L1199.3 365.6L1191.0 366.4L1182.8 366.8L1174.5 367.7L1166.2 370.9L1165.4 371.2L1157.9 375.9L1149.6 376.4L1141.4 375.5L1133.1 374.6L1124.8 374.5L1116.5 376.1L1108.2 378.8L1105.7 379.5L1100.0 380.7L1091.7 381.7L1083.4 382.9L1075.1 384.7L1066.9 387.0L1064.8 387.7L1058.6 391.7L1053.6 396.0L1050.3 401.3L1048.2 404.2L1045.5 412.5L1045.5 420.7L1049.7 429.0L1050.3 429.5L1058.6 434.2L1066.9 435.5L1075.1 433.7L1083.4 429.8L1084.5 429.0L1091.7 421.3L1092.2 420.7L1100.0 414.5L1108.2 412.6L1111.0 412.5L1116.5 412.0L1124.8 411.6L1133.1 411.4L1141.4 409.9L1146.8 404.2L1149.6 401.1L1156.7 396.0L1157.9 395.0L1166.2 395.6L1174.5 393.7L1182.8 391.6L1191.0 391.3L1199.3 393.5L1202.2 396.0L1201.6 404.2L1199.3 407.5L1193.4 412.5L1191.0 413.4L1182.8 414.9L1174.5 415.5L1166.2 415.6L1157.9 415.7L1149.6 417.8L1147.2 420.7L1141.4 427.9L1140.2 429.0L1133.1 435.1L1130.8 437.2L1125.5 445.5L1125.7 453.7L1133.1 459.1L1141.4 461.2L1145.4 462.0L1147.5 470.2L1141.4 473.7L1134.9 478.5L1133.1 479.6L1125.2 486.7L1125.9 495.0L1130.1 503.2L1133.1 509.9L1141.4 510.1L1147.7 503.2L1149.6 502.1L1157.9 502.3L1158.7 503.2L1160.9 511.5L1161.9 519.7L1164.0 528.0L1165.4 536.3L1166.2 539.7L1167.8 544.5L1168.9 552.8L1167.6 561.0L1166.2 565.8L1165.5 569.3L1163.3 577.5L1159.9 585.8L1157.9 590.1L1153.4 594.0L1149.6 596.4L1141.4 596.7L1133.1 596.0L1124.8 595.9L1116.5 598.8L1111.7 602.3L1108.2 608.6L1106.5 610.5L1107.6 618.8L1108.2 620.0L1111.1 627.0L1115.5 635.3L1109.4 643.5L1108.2 644.4L1100.0 647.3L1097.6 651.8L1093.9 660.0L1091.7 661.5L1083.4 662.3L1075.1 662.3L1066.9 660.0L1066.9 660.0L1061.9 651.8L1058.6 649.6L1050.3 650.0L1047.1 651.8L1047.2 660.0L1050.3 661.0L1058.6 662.5L1065.4 668.3L1066.9 670.9L1070.0 676.5L1075.1 679.5L1083.4 677.5L1086.1 676.5L1091.7 672.4L1099.9 668.3L1100.0 668.2L1108.2 666.0L1116.5 667.2L1119.5 668.3L1124.8 670.0L1133.1 673.1L1141.4 673.7L1149.6 670.7L1154.3 668.3L1157.9 666.0L1164.4 660.0L1166.2 656.6L1168.9 651.8L1174.5 644.2L1175.6 643.5L1182.1 635.3L1180.4 627.0L1179.1 618.8L1182.8 612.5L1191.0 613.1L1199.3 617.0L1207.6 618.5L1215.9 618.0L1224.1 617.9L1227.4 618.8L1229.5 627.0L1229.1 635.3L1228.8 643.5L1230.0 651.8L1232.4 655.4L1240.7 659.7L1249.0 656.6L1251.2 651.8L1257.3 648.1L1265.5 644.8L1273.8 646.6L1282.1 650.3L1290.4 650.2L1298.7 643.6L1298.7 643.5L1302.7 635.3L1306.9 629.7L1312.0 627.0L1311.9 618.8L1306.9 614.7L1298.7 612.7L1290.4 614.5L1282.1 614.2L1273.8 612.8L1265.5 615.8L1257.3 618.1L1249.0 618.0L1240.7 616.5L1233.4 610.5L1234.7 602.3L1239.1 594.0L1240.7 591.6L1247.5 585.8L1249.0 583.9L1257.3 581.5L1265.5 581.9L1273.8 581.2L1282.1 579.6L1290.4 582.6L1293.5 585.8L1298.7 591.3L1306.8 594.0L1306.9 594.1L1307.1 594.0L1315.2 592.7L1323.5 591.5L1331.8 591.7L1340.0 592.2L1348.3 593.0L1350.4 594.0L1356.6 598.7L1364.9 602.0L1373.2 601.8L1381.4 600.8L1389.7 601.0L1393.1 602.3L1397.8 610.5L1395.6 618.8L1398.0 621.6L1406.3 625.6L1408.0 627.0L1414.5 631.9L1417.5 635.3L1419.7 643.5L1419.3 651.8L1417.6 660.0L1414.5 664.8L1407.5 668.3L1406.3 668.6L1403.4 668.3L1398.0 667.8L1389.7 665.6L1386.3 668.3L1381.4 670.9L1373.2 674.1L1364.9 673.6L1356.6 671.0L1349.5 668.3L1348.3 668.0L1340.0 666.8L1331.8 666.7L1323.5 668.1L1323.1 668.3L1316.3 676.5L1315.7 684.8L1321.2 693.1L1323.5 695.6L1328.0 701.3L1331.8 704.8L1340.0 707.5L1348.3 704.2L1354.4 701.3L1356.6 700.4L1364.9 700.9L1368.4 701.3L1373.2 701.8L1381.4 701.6L1389.7 702.7L1398.0 706.5L1405.6 709.6L1406.3 709.9L1407.2 709.6L1414.5 702.2L1415.4 701.3L1422.8 695.8L1429.0 701.3L1431.1 707.9L1431.7 709.6L1439.4 714.8L1447.7 712.6L1455.9 712.2L1462.8 717.8L1460.6 726.1L1457.6 734.3L1459.9 742.6L1464.2 746.5L1471.4 750.8L1472.5 752.0L1479.5 759.1L1479.8 767.3L1480.8 770.3L1482.5 775.6L1489.1 782.7L1489.9 783.8L1497.3 789.6L1504.7 792.1L1505.6 792.3L1513.9 797.6L1515.8 800.3L1517.9 808.6L1521.4 816.8L1522.2 817.4L1530.4 822.6L1535.6 825.1L1538.7 828.1L1541.7 833.3L1539.9 841.6L1538.7 843.8L1536.0 849.9L1534.8 858.1L1537.7 866.4L1538.7 868.1L1546.5 874.6L1547.0 875.0L1555.3 876.2L1563.6 875.1L1571.8 876.3L1579.1 882.9L1580.1 883.9L1586.3 891.1L1588.4 893.4L1592.4 899.4L1596.7 907.2L1597.0 907.6L1605.0 913.7L1613.2 914.4L1621.5 913.3L1629.8 912.9L1638.1 912.2L1644.5 907.6L1644.8 899.4L1642.2 891.1L1639.8 882.9L1646.3 876.7L1654.6 875.1L1655.8 874.6L1662.9 870.4L1667.7 866.4L1671.2 862.3L1675.3 858.1L1677.8 849.9L1678.8 841.6L1678.3 833.3L1676.8 825.1L1676.1 816.8L1676.3 808.6L1677.9 800.3L1679.5 797.9L1687.7 797.1L1690.2 800.3L1692.9 808.6L1694.4 816.8L1696.0 820.2L1700.4 825.1L1704.3 827.4L1712.6 827.6L1720.9 826.8L1729.1 827.9L1737.4 829.7L1745.7 830.0L1754.0 829.6L1762.2 829.6L1770.5 829.6L1770.5 833.3L1770.5 841.6L1770.5 847.7L1762.2 846.7L1754.0 847.7L1751.2 849.9L1745.7 856.7L1744.5 858.1L1737.4 864.7L1734.5 866.4L1729.1 871.8L1728.0 874.6L1724.6 882.9L1725.9 891.1L1729.1 894.3L1735.0 899.4L1737.4 901.3L1745.7 906.5L1747.3 907.6L1754.0 913.7L1762.2 915.3L1770.5 913.6L1770.5 915.9L1770.5 924.1L1770.5 932.4L1770.5 940.6L1770.5 942.4L1762.2 941.5L1754.0 942.3L1745.7 945.1L1737.4 946.4L1729.1 945.1L1720.9 942.2L1712.6 941.5L1704.3 942.1L1697.4 940.6L1696.0 940.0L1692.1 932.4L1691.5 924.1L1687.9 915.9L1687.7 915.6L1679.5 909.7L1671.2 909.1L1662.9 912.8L1656.4 915.9L1654.6 917.0L1648.3 924.1L1646.3 926.2L1639.0 932.4L1638.1 933.5L1634.7 940.6L1638.1 946.1L1641.1 948.9L1646.3 952.2L1653.2 957.1L1654.6 958.0L1662.9 960.8L1671.2 963.4L1673.6 965.4L1679.5 972.4L1680.5 973.6L1687.7 978.0L1696.0 979.3L1704.3 980.5L1708.3 981.9L1712.6 983.3L1720.9 984.7L1729.1 983.7L1737.4 983.9L1742.6 990.1L1745.3 998.4L1745.7 999.4L1750.6 1006.7L1754.0 1009.2L1762.2 1010.1L1770.5 1009.1L1770.5 1014.9L1770.5 1023.2L1770.5 1031.4L1770.5 1039.7L1770.5 1047.9L1770.5 1056.2L1770.5 1064.4L1770.5 1072.7L1770.5 1080.9L1770.5 1089.2L1770.5 1097.4L1770.5 1105.7L1770.5 1113.9L1770.5 1122.2L1770.5 1130.4L1770.5 1138.7L1770.5 1146.9L1770.5 1155.2L1770.5 1163.5L1770.5 1171.7L1770.5 1180.0L1770.5 1188.2L1770.5 1196.5L1770.5 1204.7L1770.5 1213.0L1770.5 1221.2L1770.5 1229.5L1770.5 1237.7L1762.2 1237.7L1754.0 1237.7L1745.7 1237.7L1737.4 1237.7L1729.1 1237.7L1720.9 1237.7L1712.6 1237.7L1704.3 1237.7L1696.0 1237.7L1687.7 1237.7L1679.5 1237.7L1671.2 1237.7L1662.9 1237.7L1654.6 1237.7L1646.3 1237.7L1638.1 1237.7L1629.8 1237.7L1621.5 1237.7L1613.2 1237.7L1605.0 1237.7L1596.7 1237.7L1588.4 1237.7L1580.1 1237.7L1571.8 1237.7L1563.6 1237.7L1555.3 1237.7L1547.0 1237.7L1538.7 1237.7L1530.4 1237.7L1522.2 1237.7L1513.9 1237.7L1505.6 1237.7L1497.3 1237.7L1489.1 1237.7L1480.8 1237.7L1472.5 1237.7L1464.2 1237.7L1455.9 1237.7L1447.7 1237.7L1439.4 1237.7L1431.1 1237.7L1422.8 1237.7L1414.5 1237.7L1406.3 1237.7L1398.0 1237.7L1389.7 1237.7L1381.4 1237.7L1373.2 1237.7L1364.9 1237.7L1356.6 1237.7L1348.3 1237.7L1340.0 1237.7L1331.8 1237.7L1323.5 1237.7L1315.2 1237.7L1306.9 1237.7L1298.7 1237.7L1290.4 1237.7L1282.1 1237.7L1273.8 1237.7L1265.5 1237.7L1257.3 1237.7L1249.0 1237.7L1240.7 1237.7L1232.4 1237.7L1224.1 1237.7L1215.9 1237.7L1207.6 1237.7L1199.3 1237.7L1191.0 1237.7L1182.8 1237.7L1174.5 1237.7L1166.2 1237.7L1157.9 1237.7L1149.6 1237.7L1141.4 1237.7L1133.1 1237.7L1124.8 1237.7L1116.5 1237.7L1108.2 1237.7L1100.0 1237.7L1091.7 1237.7L1083.4 1237.7L1075.1 1237.7L1066.9 1237.7L1058.6 1237.7L1050.3 1237.7L1042.0 1237.7L1033.7 1237.7L1025.5 1237.7L1017.2 1237.7L1008.9 1237.7L1000.6 1237.7L992.3 1237.7L984.1 1237.7L975.8 1237.7L967.5 1237.7L959.2 1237.7L951.0 1237.7L942.7 1237.7L934.4 1237.7L926.1 1237.7L917.8 1237.7L909.6 1237.7L901.3 1237.7L893.0 1237.7L884.7 1237.7L876.4 1237.7L868.2 1237.7L859.9 1237.7L851.6 1237.7L843.3 1237.7L835.1 1237.7L826.8 1237.7L818.5 1237.7L810.2 1237.7L801.9 1237.7L793.7 1237.7L785.4 1237.7L777.1 1237.7L768.8 1237.7L760.5 1237.7L752.3 1237.7L744.0 1237.7L735.7 1237.7L727.4 1237.7L719.2 1237.7L710.9 1237.7L702.6 1237.7L694.3 1237.7L686.0 1237.7L677.8 1237.7L669.5 1237.7L661.2 1237.7L652.9 1237.7L644.7 1237.7L636.4 1237.7L628.1 1237.7L619.8 1237.7L611.5 1237.7L603.3 1237.7L595.0 1237.7L586.7 1237.7L578.4 1237.7L570.1 1237.7L561.9 1237.7L553.6 1237.7L545.3 1237.7L537.0 1237.7L528.8 1237.7L520.5 1237.7L512.2 1237.7L503.9 1237.7L495.6 1237.7L487.4 1237.7L479.1 1237.7L470.8 1237.7L462.5 1237.7L454.2 1237.7L446.0 1237.7L437.7 1237.7L429.4 1237.7L421.1 1237.7L412.9 1237.7L404.6 1237.7L396.3 1237.7L388.0 1237.7L379.7 1237.7L371.5 1237.7L363.2 1237.7L354.9 1237.7L346.6 1237.7L338.3 1237.7L330.1 1237.7L321.8 1237.7L313.5 1237.7L305.2 1237.7L297.0 1237.7L288.7 1237.7L288.7 1229.5L288.7 1221.2L288.7 1213.0L288.7 1204.7L288.7 1196.5L288.7 1188.2L288.7 1180.0L288.7 1171.7L288.7 1163.5L288.7 1155.2L288.7 1146.9L288.7 1138.7L288.7 1130.4L288.7 1122.2L288.7 1113.9L288.7 1105.7L288.7 1097.4L288.7 1089.2L288.7 1080.9L288.7 1072.7L288.7 1064.4L288.7 1056.2L288.7 1047.9L288.7 1039.7L288.7 1031.4L288.7 1023.2L288.7 1014.9L288.7 1006.7L288.7 998.4L288.7 990.1L288.7 981.9L288.7 973.6L288.7 965.4L288.7 957.1L288.7 948.9L288.7 940.6L288.7 932.4L288.7 924.1L288.7 915.9L288.7 907.6L288.7 899.4L288.7 891.1L288.7 882.9L288.7 874.6L288.7 866.4L288.7 858.1L288.7 849.9L288.7 841.6L288.7 833.3L288.7 825.1L288.7 816.8L288.7 808.6L288.7 800.3L288.7 792.1L288.7 783.8L288.7 775.6L288.7 767.3L288.7 759.1L288.7 750.8L288.7 742.6L288.7 734.3L288.7 726.1L288.7 717.8L288.7 709.6L288.7 701.3L288.7 693.1L288.7 684.8L288.7 676.5L288.7 668.3L288.7 660.0L288.7 651.8L288.7 643.5L288.7 635.3L288.7 627.0L288.7 618.8L288.7 610.5L288.7 602.3L288.7 594.0L288.7 585.8L288.7 577.5L288.7 569.3L288.7 561.0L288.7 552.8L288.7 544.5L288.7 536.3L288.7 528.0L288.7 519.7L288.7 511.5L288.7 503.2L288.7 495.0L288.7 486.7L288.7 478.5L288.7 470.2L288.7 462.0L288.7 453.7L288.7 445.5L288.7 437.2L288.7 429.0L288.7 420.7L288.7 412.5L288.7 404.2L288.7 396.0L288.7 387.7L288.7 379.5L288.7 371.2L288.7 362.9L288.7 354.7L288.7 346.4L288.7 338.2L288.7 329.9L288.7 321.7L288.7 313.4L288.7 305.2L288.7 296.9ZM975.8 420.5L975.7 420.7L971.9 429.0L975.8 435.1L984.1 436.6L992.3 435.5L1000.6 432.6L1005.4 429.0L1007.7 420.7L1000.6 415.1L992.3 413.0L984.1 413.5ZM1406.3 311.9L1399.3 313.4L1398.0 314.2L1394.7 321.7L1398.0 324.5L1403.3 329.9L1406.3 333.7L1409.5 338.2L1412.1 346.4L1414.5 348.2L1422.8 348.4L1424.8 346.4L1425.8 338.2L1427.3 329.9L1428.9 321.7L1422.8 314.8L1419.0 313.4L1414.5 312.1ZM1083.4 627.2L1076.5 635.3L1082.2 643.5L1083.4 644.4L1091.7 646.8L1097.1 643.5L1094.8 635.3L1091.7 631.9ZM1249.0 665.3L1248.3 668.3L1249.0 669.3L1256.2 676.5L1257.3 676.9L1265.5 677.9L1273.8 678.0L1279.5 676.5L1281.7 668.3L1273.8 663.4L1265.5 662.5L1257.3 662.7ZM1364.9 632.0L1362.2 635.3L1364.9 639.5L1367.8 643.5L1373.2 646.6L1381.4 649.6L1388.3 643.5L1389.7 636.9L1390.0 635.3L1389.7 632.9L1381.4 627.2L1373.2 628.1ZM1704.3 846.8L1700.8 849.9L1696.0 856.5L1694.7 858.1L1687.7 864.9L1685.9 866.4L1679.5 872.3L1678.0 874.6L1674.4 882.9L1674.8 891.1L1679.5 897.8L1686.1 899.4L1687.7 899.9L1696.0 900.9L1700.7 899.4L1704.3 897.5L1707.9 891.1L1709.1 882.9L1709.4 874.6L1712.6 869.7L1716.8 866.4L1720.9 863.8L1727.1 858.1L1725.2 849.9L1720.9 846.0L1712.6 844.7ZM992.3 667.1L989.2 668.3L984.1 672.9L980.3 676.5L982.9 684.8L984.1 685.1L987.6 684.8L992.3 684.4L1000.6 682.5L1008.9 680.5L1017.2 677.8L1019.7 676.5L1025.5 669.3L1026.4 668.3L1025.5 667.1L1017.2 663.4L1008.9 663.3L1000.6 664.7ZM1510.0 288.7L1513.9 288.7L1522.2 288.7L1528.2 288.7L1530.2 296.9L1528.4 305.2L1522.2 308.3L1513.9 307.9L1509.9 305.2L1508.4 296.9ZM1230.1 387.7L1232.4 385.7L1240.7 380.6L1249.0 381.9L1257.3 384.1L1262.6 387.7L1257.3 391.9L1251.5 396.0L1249.0 397.0L1240.7 399.6L1232.4 396.3L1232.1 396.0ZM1197.0 462.0L1199.3 461.5L1201.7 462.0L1207.6 464.2L1215.9 467.0L1224.1 468.0L1230.1 470.2L1230.5 478.5L1226.4 486.7L1224.1 492.2L1222.0 495.0L1216.3 503.2L1215.9 504.2L1213.9 511.5L1213.4 519.7L1210.8 528.0L1207.6 532.1L1202.2 536.3L1199.3 538.7L1191.0 542.4L1182.8 539.7L1179.6 536.3L1178.8 528.0L1182.8 522.8L1184.3 519.7L1189.6 511.5L1191.0 507.8L1194.4 503.2L1191.0 495.3L1190.9 495.0L1182.8 491.2L1176.0 486.7L1174.5 483.0L1173.1 478.5L1174.5 475.3L1176.2 470.2L1182.8 465.3L1191.0 462.7ZM1347.1 470.2L1348.3 469.5L1356.6 466.5L1364.9 466.4L1373.2 467.1L1381.4 467.4L1389.7 467.8L1395.6 470.2L1398.0 472.2L1402.4 478.5L1406.3 483.7L1407.8 486.7L1408.9 495.0L1408.8 503.2L1410.1 511.5L1413.1 519.7L1413.1 528.0L1406.3 532.4L1399.7 528.0L1398.0 526.4L1394.0 519.7L1394.0 511.5L1393.0 503.2L1389.7 498.5L1386.5 495.0L1381.4 490.0L1377.9 486.7L1373.2 483.2L1364.9 481.8L1356.6 482.4L1348.3 480.3L1346.0 478.5ZM1444.6 486.7L1447.7 484.8L1455.9 484.1L1461.1 486.7L1462.0 495.0L1459.7 503.2L1456.5 511.5L1455.9 512.5L1447.7 514.9L1445.0 511.5L1442.0 503.2L1441.0 495.0ZM1262.0 552.8L1265.5 546.5L1273.8 546.7L1280.4 552.8L1280.1 561.0L1273.8 564.0L1265.9 561.0L1265.5 560.7ZM1468.8 643.5L1472.5 642.0L1480.8 642.2L1482.9 643.5L1489.1 649.0L1491.6 651.8L1497.3 655.6L1505.6 659.5L1507.2 660.0L1513.9 661.5L1522.2 663.3L1530.4 668.0L1530.8 668.3L1533.3 676.5L1530.4 681.7L1528.6 684.8L1528.8 693.1L1530.4 694.4L1538.7 698.3L1547.0 695.4L1555.3 695.2L1562.1 701.3L1555.3 709.4L1555.1 709.6L1547.0 716.3L1546.5 717.8L1545.9 726.1L1547.0 734.3L1538.7 741.4L1535.4 742.6L1530.4 743.8L1522.2 745.9L1513.9 748.3L1505.6 750.7L1497.3 749.5L1492.3 742.6L1490.6 734.3L1490.5 726.1L1493.6 717.8L1497.3 712.4L1499.2 709.6L1499.7 701.3L1497.3 697.8L1494.7 693.1L1489.1 686.1L1487.1 684.8L1480.8 682.1L1472.5 680.5L1464.8 676.5L1464.2 676.1L1455.9 669.8L1452.0 668.3L1447.7 666.7L1439.4 665.1L1434.4 660.0L1433.6 651.8L1439.4 643.8L1447.7 645.4L1455.9 646.1L1464.2 644.7ZM1587.4 742.6L1588.4 742.0L1596.7 741.6L1599.6 742.6L1605.0 743.6L1613.2 749.1L1614.3 750.8L1619.0 759.1L1621.5 763.8L1623.7 767.3L1623.8 775.6L1621.5 780.0L1613.2 783.2L1605.0 783.1L1602.3 783.8L1596.7 790.9L1596.2 792.1L1596.7 797.7L1596.9 800.3L1596.7 801.5L1594.6 808.6L1588.4 812.6L1580.1 811.3L1577.8 808.6L1576.7 800.3L1577.8 792.1L1579.8 783.8L1571.8 777.3L1564.1 783.8L1563.6 784.2L1555.3 791.5L1553.7 792.1L1547.0 793.5L1538.7 793.2L1535.1 792.1L1530.4 787.7L1527.2 783.8L1530.4 778.9L1538.2 775.6L1538.7 775.5L1547.0 771.1L1551.8 767.3L1555.3 762.5L1556.8 759.1L1559.4 750.8L1563.6 747.8L1571.8 746.0L1580.1 744.4ZM1717.4 767.3L1720.9 763.7L1729.1 760.6L1737.4 762.3L1742.8 767.3L1745.7 772.3L1747.8 775.6L1754.0 780.3L1762.2 781.0L1770.5 780.3L1770.5 783.8L1770.5 792.1L1770.5 800.3L1770.5 808.6L1770.5 811.6L1762.2 812.2L1754.0 811.6L1748.6 808.6L1745.7 806.2L1741.1 800.3L1737.4 796.7L1729.1 794.1L1720.9 792.5L1719.9 792.1L1712.6 787.2L1708.5 783.8L1709.3 775.6L1712.6 772.5Z"/>
<path fill="#7e03a8" fill-rule="evenodd" d="M288.7 288.7L297.0 288.7L305.2 288.7L313.5 288.7L321.8 288.7L330.1 288.7L338.3 288.7L346.6 288.7L354.9 288.7L363.2 288.7L371.5 288.7L379.7 288.7L388.0 288.7L396.3 288.7L404.6 288.7L412.9 288.7L421.1 288.7L429.4 288.7L437.7 288.7L446.0 288.7L454.2 288.7L462.5 288.7L470.8 288.7L479.1 288.7L487.4 288.7L495.6 288.7L503.9 288.7L512.2 288.7L520.5 288.7L528.8 288.7L537.0 288.7L545.3 288.7L553.6 288.7L561.9 288.7L570.1 288.7L578.4 288.7L586.7 288.7L595.0 288.7L603.3 288.7L611.5 288.7L619.8 288.7L628.1 288.7L636.4 288.7L644.7 288.7L652.9 288.7L661.2 288.7L669.5 288.7L677.8 288.7L686.0 288.7L694.3 288.7L702.6 288.7L710.9 288.7L719.2 288.7L727.4 288.7L735.7 288.7L744.0 288.7L752.3 288.7L760.5 288.7L768.8 288.7L777.1 288.7L785.4 288.7L793.7 288.7L801.9 288.7L810.2 288.7L818.5 288.7L826.8 288.7L835.1 288.7L843.3 288.7L851.6 288.7L859.9 288.7L868.2 288.7L876.4 288.7L884.7 288.7L893.0 288.7L901.3 288.7L909.6 288.7L917.8 288.7L926.1 288.7L934.4 288.7L942.7 288.7L951.0 288.7L959.2 288.7L967.5 288.7L975.8 288.7L984.1 288.7L992.3 288.7L1000.6 288.7L1008.9 288.7L1017.2 288.7L1025.5 288.7L1033.7 288.7L1042.0 288.7L1050.3 288.7L1058.6 288.7L1066.9 288.7L1075.1 288.7L1083.4 288.7L1091.7 288.7L1100.0 288.7L1108.2 288.7L1116.5 288.7L1124.8 288.7L1133.1 288.7L1141.4 288.7L1149.6 288.7L1157.9 288.7L1166.2 288.7L1174.5 288.7L1182.8 288.7L1191.0 288.7L1199.3 288.7L1207.6 288.7L1215.9 288.7L1224.1 288.7L1232.4 288.7L1240.7 288.7L1249.0 288.7L1257.3 288.7L1265.5 288.7L1273.8 288.7L1282.1 288.7L1290.4 288.7L1298.7 288.7L1306.9 288.7L1315.2 288.7L1323.5 288.7L1331.8 288.7L1340.0 288.7L1348.3 288.7L1356.6 288.7L1361.7 288.7L1361.3 296.9L1361.6 305.2L1364.9 311.3L1368.2 313.4L1373.2 315.2L1380.6 321.7L1381.4 322.5L1389.2 329.9L1389.7 330.4L1398.0 338.0L1398.2 338.2L1398.0 338.6L1389.7 346.4L1389.6 346.4L1381.4 347.2L1378.9 346.4L1373.2 345.3L1364.9 343.9L1356.6 342.8L1348.3 339.7L1346.1 338.2L1340.0 334.6L1331.8 335.1L1327.3 338.2L1329.4 346.4L1331.8 352.7L1332.4 354.7L1331.8 355.4L1323.5 359.2L1315.2 357.9L1311.4 354.7L1306.9 351.8L1298.7 350.9L1290.4 351.4L1282.1 349.3L1273.8 346.7L1265.5 347.2L1257.3 348.9L1249.0 351.1L1242.5 354.7L1240.7 356.2L1232.4 360.6L1224.1 360.8L1215.9 360.4L1207.6 360.4L1199.3 361.7L1192.0 362.9L1191.0 363.1L1182.8 363.1L1179.9 362.9L1174.5 362.5L1172.2 362.9L1166.2 364.5L1157.9 368.3L1149.6 369.8L1141.4 369.6L1133.1 369.0L1124.8 369.0L1116.5 370.2L1113.7 371.2L1108.2 373.2L1100.0 375.9L1091.7 377.5L1083.4 378.7L1078.1 379.5L1075.1 379.9L1066.9 380.9L1058.6 382.4L1050.3 386.5L1048.3 387.7L1042.0 392.9L1033.7 395.1L1025.5 394.2L1017.2 394.5L1014.8 396.0L1012.9 404.2L1008.9 408.4L1000.6 408.7L992.3 407.9L984.1 407.5L975.8 409.2L971.9 412.5L967.5 420.1L967.0 420.7L960.3 429.0L961.5 437.2L967.5 439.6L975.8 440.8L984.1 440.7L992.3 439.7L1000.6 437.7L1001.9 437.2L1008.9 432.6L1012.4 429.0L1015.8 420.7L1017.2 416.9L1025.5 415.7L1031.2 420.7L1033.7 424.8L1035.7 429.0L1042.0 436.7L1042.6 437.2L1050.3 440.8L1058.6 443.6L1066.9 443.7L1075.1 441.3L1082.0 437.2L1083.4 436.6L1091.7 431.4L1094.0 429.0L1099.5 420.7L1100.0 420.3L1108.2 418.7L1113.1 420.7L1115.8 429.0L1113.7 437.2L1114.4 445.5L1116.5 452.5L1116.8 453.7L1121.7 462.0L1124.8 466.2L1129.7 470.2L1124.8 475.3L1122.7 478.5L1117.6 486.7L1119.7 495.0L1123.5 503.2L1124.6 511.5L1124.8 516.3L1125.2 519.7L1133.1 527.8L1133.4 528.0L1141.4 531.7L1149.6 530.3L1157.9 536.3L1157.9 536.3L1161.1 544.5L1163.0 552.8L1163.1 561.0L1161.8 569.3L1159.2 577.5L1157.9 580.2L1152.2 585.8L1149.6 588.2L1141.4 590.5L1133.1 590.4L1124.8 590.2L1116.5 592.9L1114.7 594.0L1108.2 598.2L1100.0 601.1L1091.7 600.0L1083.4 601.5L1082.1 602.3L1075.1 607.8L1071.6 610.5L1067.3 618.8L1066.9 621.6L1066.3 627.0L1065.3 635.3L1058.6 640.4L1050.3 643.0L1049.4 643.5L1042.0 647.6L1035.4 651.8L1033.7 653.7L1025.5 657.0L1017.2 658.0L1008.9 659.2L1005.6 660.0L1000.6 661.2L992.3 663.7L984.1 666.5L980.0 668.3L975.8 672.3L971.3 676.5L967.5 682.2L965.0 684.8L962.8 693.1L967.5 697.2L975.8 696.0L982.6 693.1L984.1 692.6L992.3 690.1L1000.6 687.7L1008.5 684.8L1008.9 684.7L1017.2 682.2L1025.5 678.3L1028.0 676.5L1033.7 670.3L1037.9 668.3L1042.0 666.3L1050.3 667.3L1052.7 668.3L1058.6 671.2L1062.7 676.5L1066.9 682.4L1072.0 684.8L1075.1 685.7L1077.3 684.8L1083.4 682.4L1091.7 679.6L1100.0 677.6L1103.8 676.5L1108.2 674.9L1116.5 674.3L1124.8 676.1L1125.9 676.5L1133.1 678.8L1141.4 679.3L1149.6 677.4L1151.5 676.5L1157.9 673.6L1166.2 669.5L1168.0 668.3L1173.9 660.0L1174.5 659.0L1182.8 652.0L1183.0 651.8L1190.1 643.5L1191.0 640.8L1192.4 635.3L1196.7 627.0L1199.3 625.9L1207.6 624.7L1215.9 624.8L1220.2 627.0L1223.6 635.3L1223.6 643.5L1223.8 651.8L1224.1 652.7L1227.8 660.0L1232.4 663.6L1238.9 668.3L1240.7 670.2L1245.5 676.5L1249.0 678.9L1257.3 681.5L1265.5 683.6L1270.7 684.8L1273.8 685.7L1282.1 685.5L1284.4 684.8L1290.4 678.1L1290.8 676.5L1290.8 668.3L1292.0 660.0L1298.7 655.1L1301.5 651.8L1305.6 643.5L1306.9 641.2L1315.2 635.6L1318.8 635.3L1323.5 634.3L1331.8 629.5L1332.6 627.0L1331.8 626.4L1325.1 618.8L1323.5 617.4L1316.3 610.5L1315.2 605.5L1314.3 602.3L1315.2 601.8L1323.5 599.0L1331.8 599.0L1340.0 601.0L1342.5 602.3L1348.3 608.0L1353.9 610.5L1356.6 611.6L1359.2 610.5L1364.9 609.3L1373.2 608.2L1381.4 609.2L1384.0 610.5L1383.8 618.8L1381.4 620.2L1373.2 622.8L1364.9 624.9L1361.0 627.0L1356.6 635.3L1356.6 635.3L1356.6 635.3L1362.0 643.5L1364.9 645.5L1373.2 650.0L1376.9 651.8L1381.3 660.0L1374.5 668.3L1373.2 668.9L1364.9 669.1L1362.3 668.3L1356.6 666.7L1348.3 664.8L1340.0 663.9L1331.8 664.0L1323.5 665.0L1316.6 668.3L1315.2 670.1L1311.5 676.5L1309.0 684.8L1312.6 693.1L1315.2 695.1L1320.9 701.3L1323.5 704.0L1329.5 709.6L1331.8 711.1L1340.0 713.3L1348.3 713.0L1356.2 709.6L1356.6 709.4L1364.9 709.0L1373.2 708.2L1381.4 706.8L1389.7 707.9L1392.7 709.6L1398.0 712.9L1404.7 717.8L1406.3 719.3L1414.5 725.4L1415.4 726.1L1422.8 732.1L1431.1 730.6L1439.4 727.7L1447.7 731.8L1448.4 734.3L1450.1 742.6L1455.9 748.5L1458.6 750.8L1464.2 756.7L1466.5 759.1L1464.2 764.9L1463.1 767.3L1460.1 775.6L1464.2 781.5L1470.9 783.8L1472.5 784.0L1480.8 788.0L1484.8 792.1L1489.1 798.2L1497.3 798.9L1505.6 799.8L1506.3 800.3L1509.8 808.6L1509.3 816.8L1513.9 821.0L1519.9 825.1L1522.2 826.1L1530.4 831.6L1532.2 833.3L1533.0 841.6L1530.4 848.4L1530.0 849.9L1529.2 858.1L1530.4 862.2L1531.9 866.4L1536.7 874.6L1538.7 877.4L1546.2 882.9L1547.0 883.3L1555.3 884.3L1563.6 882.9L1571.8 884.6L1578.5 891.1L1580.1 892.6L1586.3 899.4L1588.4 901.9L1591.6 907.6L1596.7 914.2L1599.1 915.9L1605.0 919.2L1613.2 919.8L1621.5 918.8L1629.8 917.9L1638.1 919.0L1640.8 924.1L1638.1 926.5L1632.2 932.4L1629.8 939.3L1629.4 940.6L1629.8 941.7L1633.2 948.9L1638.1 952.5L1645.0 957.1L1646.3 958.1L1654.6 963.2L1662.9 965.3L1663.2 965.4L1671.2 969.3L1674.9 973.6L1679.5 978.8L1687.7 981.8L1688.3 981.9L1696.0 983.5L1704.3 985.7L1712.6 988.7L1719.1 990.1L1720.9 990.5L1729.1 990.5L1737.4 995.3L1738.7 998.4L1741.6 1006.7L1745.7 1012.8L1748.8 1014.9L1754.0 1017.4L1762.2 1018.0L1770.5 1017.4L1770.5 1023.2L1770.5 1031.4L1770.5 1039.7L1770.5 1047.9L1770.5 1056.2L1770.5 1064.4L1770.5 1072.7L1770.5 1080.9L1770.5 1089.2L1770.5 1097.4L1770.5 1105.7L1770.5 1113.9L1770.5 1122.2L1770.5 1130.4L1770.5 1138.7L1770.5 1146.9L1770.5 1155.2L1770.5 1163.5L1770.5 1171.7L1770.5 1180.0L1770.5 1188.2L1770.5 1196.5L1770.5 1204.7L1770.5 1213.0L1770.5 1221.2L1770.5 1229.5L1770.5 1237.7L1762.2 1237.7L1754.0 1237.7L1745.7 1237.7L1737.4 1237.7L1729.1 1237.7L1720.9 1237.7L1712.6 1237.7L1704.3 1237.7L1696.0 1237.7L1687.7 1237.7L1679.5 1237.7L1671.2 1237.7L1662.9 1237.7L1654.6 1237.7L1646.3 1237.7L1638.1 1237.7L1629.8 1237.7L1621.5 1237.7L1613.2 1237.7L1605.0 1237.7L1596.7 1237.7L1588.4 1237.7L1580.1 1237.7L1571.8 1237.7L1563.6 1237.7L1555.3 1237.7L1547.0 1237.7L1538.7 1237.7L1530.4 1237.7L1522.2 1237.7L1513.9 1237.7L1505.6 1237.7L1497.3 1237.7L1489.1 1237.7L1480.8 1237.7L1472.5 1237.7L1464.2 1237.7L1455.9 1237.7L1447.7 1237.7L1439.4 1237.7L1431.1 1237.7L1422.8 1237.7L1414.5 1237.7L1406.3 1237.7L1398.0 1237.7L1389.7 1237.7L1381.4 1237.7L1373.2 1237.7L1364.9 1237.7L1356.6 1237.7L1348.3 1237.7L1340.0 1237.7L1331.8 1237.7L1323.5 1237.7L1315.2 1237.7L1306.9 1237.7L1298.7 1237.7L1290.4 1237.7L1282.1 1237.7L1273.8 1237.7L1265.5 1237.7L1257.3 1237.7L1249.0 1237.7L1240.7 1237.7L1232.4 1237.7L1224.1 1237.7L1215.9 1237.7L1207.6 1237.7L1199.3 1237.7L1191.0 1237.7L1182.8 1237.7L1174.5 1237.7L1166.2 1237.7L1157.9 1237.7L1149.6 1237.7L1141.4 1237.7L1133.1 1237.7L1124.8 1237.7L1116.5 1237.7L1108.2 1237.7L1100.0 1237.7L1091.7 1237.7L1083.4 1237.7L1075.1 1237.7L1066.9 1237.7L1058.6 1237.7L1050.3 1237.7L1042.0 1237.7L1033.7 1237.7L1025.5 1237.7L1017.2 1237.7L1008.9 1237.7L1000.6 1237.7L992.3 1237.7L984.1 1237.7L975.8 1237.7L967.5 1237.7L959.2 1237.7L951.0 1237.7L942.7 1237.7L934.4 1237.7L926.1 1237.7L917.8 1237.7L909.6 1237.7L901.3 1237.7L893.0 1237.7L884.7 1237.7L876.4 1237.7L868.2 1237.7L859.9 1237.7L851.6 1237.7L843.3 1237.7L835.1 1237.7L826.8 1237.7L818.5 1237.7L810.2 1237.7L801.9 1237.7L793.7 1237.7L785.4 1237.7L777.1 1237.7L768.8 1237.7L760.5 1237.7L752.3 1237.7L744.0 1237.7L735.7 1237.7L727.4 1237.7L719.2 1237.7L710.9 1237.7L702.6 1237.7L694.3 1237.7L686.0 1237.7L677.8 1237.7L669.5 1237.7L661.2 1237.7L652.9 1237.7L644.7 1237.7L636.4 1237.7L628.1 1237.7L619.8 1237.7L611.5 1237.7L603.3 1237.7L595.0 1237.7L586.7 1237.7L578.4 1237.7L570.1 1237.7L561.9 1237.7L553.6 1237.7L545.3 1237.7L537.0 1237.7L528.8 1237.7L520.5 1237.7L512.2 1237.7L503.9 1237.7L495.6 1237.7L487.4 1237.7L479.1 1237.7L470.8 1237.7L462.5 1237.7L454.2 1237.7L446.0 1237.7L437.7 1237.7L429.4 1237.7L421.1 1237.7L412.9 1237.7L404.6 1237.7L396.3 1237.7L388.0 1237.7L379.7 1237.7L371.5 1237.7L363.2 1237.7L354.9 1237.7L346.6 1237.7L338.3 1237.7L330.1 1237.7L321.8 1237.7L313.5 1237.7L305.2 1237.7L297.0 1237.7L288.7 1237.7L288.7 1229.5L288.7 1221.2L288.7 1213.0L288.7 1204.7L288.7 1196.5L288.7 1188.2L288.7 1180.0L288.7 1171.7L288.7 1163.5L288.7 1155.2L288.7 1146.9L288.7 1138.7L288.7 1130.4L288.7 1122.2L288.7 1113.9L288.7 1105.7L288.7 1097.4L288.7 1089.2L288.7 1080.9L288.7 1072.7L288.7 1064.4L288.7 1056.2L288.7 1047.9L288.7 1039.7L288.7 1031.4L288.7 1023.2L288.7 1014.9L288.7 1006.7L288.7 998.4L288.7 990.1L288.7 981.9L288.7 973.6L288.7 965.4L288.7 957.1L288.7 948.9L288.7 940.6L288.7 932.4L288.7 924.1L288.7 915.9L288.7 907.6L288.7 899.4L288.7 891.1L288.7 882.9L288.7 874.6L288.7 866.4L288.7 858.1L288.7 849.9L288.7 841.6L288.7 833.3L288.7 825.1L288.7 816.8L288.7 808.6L288.7 800.3L288.7 792.1L288.7 783.8L288.7 775.6L288.7 767.3L288.7 759.1L288.7 750.8L288.7 742.6L288.7 734.3L288.7 726.1L288.7 717.8L288.7 709.6L288.7 701.3L288.7 693.1L288.7 684.8L288.7 676.5L288.7 668.3L288.7 660.0L288.7 651.8L288.7 643.5L288.7 635.3L288.7 627.0L288.7 618.8L288.7 610.5L288.7 602.3L288.7 594.0L288.7 585.8L288.7 577.5L288.7 569.3L288.7 561.0L288.7 552.8L288.7 544.5L288.7 536.3L288.7 528.0L288.7 519.7L288.7 511.5L288.7 503.2L288.7 495.0L288.7 486.7L288.7 478.5L288.7 470.2L288.7 462.0L288.7 453.7L288.7 445.5L288.7 437.2L288.7 429.0L288.7 420.7L288.7 412.5L288.7 404.2L288.7 396.0L288.7 387.7L288.7 379.5L288.7 371.2L288.7 362.9L288.7 354.7L288.7 346.4L288.7 338.2L288.7 329.9L288.7 321.7L288.7 313.4L288.7 305.2L288.7 296.9ZM868.2 667.4L865.5 668.3L860.8 676.5L861.3 684.8L868.2 690.7L875.4 693.1L876.4 693.3L884.7 696.2L893.0 698.4L901.3 697.0L909.6 696.6L917.8 696.9L926.1 694.8L928.4 693.1L928.2 684.8L926.1 682.8L917.8 677.4L909.6 677.4L901.3 680.0L893.0 681.0L885.0 676.5L884.7 676.3L877.1 668.3L876.4 668.0ZM1389.7 775.3L1388.3 775.6L1381.4 780.2L1380.3 783.8L1381.4 785.3L1388.1 792.1L1389.7 792.9L1398.0 795.4L1406.3 793.5L1407.6 792.1L1406.5 783.8L1406.3 783.6L1398.0 778.5L1390.5 775.6ZM901.3 714.8L897.5 717.8L897.9 726.1L901.3 730.0L909.6 733.8L917.8 731.9L926.1 731.6L934.4 732.3L942.7 727.5L944.1 726.1L946.3 717.8L942.7 714.4L934.4 712.4L926.1 713.1L917.8 713.7L909.6 713.6ZM1644.0 288.7L1646.3 288.7L1654.6 288.7L1662.9 288.7L1671.2 288.7L1679.5 288.7L1687.7 288.7L1696.0 288.7L1704.3 288.7L1712.6 288.7L1720.9 288.7L1729.1 288.7L1737.4 288.7L1745.7 288.7L1754.0 288.7L1762.2 288.7L1770.5 288.7L1770.5 296.9L1770.5 305.2L1770.5 313.4L1770.5 321.7L1770.5 329.9L1770.5 338.2L1770.5 346.4L1770.5 354.7L1770.5 362.9L1770.5 371.2L1770.5 379.5L1770.5 387.7L1770.5 396.0L1770.5 404.2L1770.5 412.5L1770.5 420.7L1770.5 429.0L1770.5 437.2L1770.5 445.5L1770.5 453.7L1770.5 462.0L1770.5 470.2L1770.5 478.5L1770.5 486.7L1770.5 495.0L1770.5 503.2L1770.5 511.5L1770.5 519.7L1770.5 528.0L1770.5 536.3L1770.5 544.5L1770.5 552.8L1770.5 561.0L1770.5 569.3L1770.5 577.5L1770.5 585.8L1770.5 594.0L1770.5 600.9L1762.2 601.5L1754.0 600.9L1745.7 597.6L1739.2 594.0L1737.4 592.8L1729.1 590.8L1720.9 590.8L1712.6 591.1L1704.3 591.0L1696.0 589.5L1691.8 585.8L1687.7 578.6L1687.3 577.5L1679.5 570.2L1678.3 569.3L1671.2 566.0L1662.9 563.5L1654.6 561.5L1648.8 561.0L1646.3 560.8L1641.9 561.0L1638.1 561.2L1629.8 561.6L1621.5 561.4L1619.4 561.0L1613.2 559.7L1605.0 557.7L1596.7 557.5L1588.4 559.2L1580.1 559.8L1571.8 559.4L1563.6 559.8L1555.3 559.4L1547.0 557.0L1539.8 552.8L1538.7 551.7L1536.1 544.5L1534.7 536.3L1530.4 528.6L1529.4 528.0L1522.2 524.9L1514.4 519.7L1513.9 517.6L1512.8 511.5L1509.3 503.2L1505.6 500.6L1500.3 495.0L1497.3 489.9L1494.4 486.7L1497.3 483.4L1505.6 478.8L1505.8 478.5L1509.0 470.2L1506.1 462.0L1505.6 461.4L1497.3 455.6L1493.7 453.7L1489.1 452.5L1480.8 450.2L1472.5 447.1L1467.3 445.5L1464.2 444.5L1455.9 441.9L1448.4 437.2L1447.7 436.5L1440.5 429.0L1439.4 428.0L1434.4 420.7L1431.1 414.5L1430.1 412.5L1424.3 404.2L1422.8 402.9L1414.5 398.5L1409.9 396.0L1406.3 393.7L1398.0 389.4L1394.1 387.7L1389.7 384.9L1381.4 380.5L1377.1 379.5L1373.2 378.0L1364.9 374.9L1361.4 371.2L1364.9 367.8L1371.8 362.9L1373.2 361.7L1378.6 362.9L1381.4 363.6L1389.7 364.4L1393.0 362.9L1398.0 360.9L1406.3 359.1L1414.5 358.8L1422.8 359.4L1431.1 360.2L1439.4 359.7L1447.3 354.7L1439.4 347.6L1438.5 346.4L1433.8 338.2L1436.9 329.9L1439.4 327.1L1447.7 326.3L1455.9 329.8L1456.1 329.9L1460.5 338.2L1464.2 342.2L1472.5 343.3L1480.3 338.2L1480.8 336.2L1484.6 329.9L1489.1 328.7L1492.0 329.9L1497.3 332.1L1505.6 335.1L1513.9 335.9L1522.2 336.2L1530.4 336.3L1538.7 334.5L1547.0 330.4L1548.0 329.9L1555.3 325.8L1561.9 321.7L1563.6 320.3L1571.8 318.0L1580.1 318.0L1588.4 318.6L1596.7 319.0L1605.0 317.9L1613.2 315.4L1621.4 313.4L1621.5 313.4L1629.8 311.7L1638.1 309.1L1644.1 305.2L1645.5 296.9ZM1177.9 404.2L1182.8 399.1L1191.0 398.6L1194.0 404.2L1191.0 406.9L1182.8 407.7ZM1184.7 470.2L1191.0 468.3L1196.3 470.2L1198.3 478.5L1191.0 483.9L1182.8 481.1L1181.0 478.5L1182.8 472.8ZM1193.4 519.7L1199.3 512.2L1207.6 516.2L1208.3 519.7L1207.6 521.8L1202.7 528.0L1199.3 530.5L1191.0 529.3L1190.5 528.0L1191.0 526.5ZM1255.5 594.0L1257.3 593.5L1259.1 594.0L1264.3 602.3L1257.3 610.3L1256.0 610.5L1249.0 611.0L1247.7 610.5L1243.5 602.3L1249.0 596.4ZM1395.2 635.3L1398.0 631.5L1406.3 631.1L1411.3 635.3L1414.5 643.5L1414.6 643.5L1414.5 643.8L1413.9 651.8L1410.1 660.0L1406.3 663.1L1398.0 661.9L1394.8 660.0L1391.6 651.8L1392.8 643.5ZM1446.5 651.8L1447.7 651.4L1455.9 650.9L1464.2 650.3L1472.5 650.8L1474.6 651.8L1480.8 655.3L1487.0 660.0L1489.1 662.0L1497.3 666.2L1505.6 666.8L1513.9 666.6L1522.2 668.3L1522.2 668.3L1524.8 676.5L1522.2 680.2L1517.7 684.8L1515.1 693.1L1522.2 699.1L1524.7 701.3L1530.4 706.3L1535.3 709.6L1538.7 713.1L1540.3 717.8L1540.4 726.1L1538.7 731.4L1536.2 734.3L1530.4 737.0L1522.2 740.1L1515.9 742.6L1513.9 743.1L1505.6 743.5L1503.7 742.6L1497.6 734.3L1497.6 726.1L1502.5 717.8L1505.6 712.8L1508.3 709.6L1509.5 701.3L1505.6 696.8L1503.4 693.1L1497.3 686.5L1496.0 684.8L1489.1 677.9L1480.8 676.9L1478.7 676.5L1472.5 675.1L1464.2 669.6L1462.5 668.3L1455.9 663.0L1447.7 660.1L1447.6 660.0ZM1571.6 750.8L1571.8 750.7L1580.1 749.9L1588.4 749.5L1596.7 749.1L1603.6 750.8L1605.0 751.3L1611.2 759.1L1613.2 763.0L1615.5 767.3L1613.2 774.0L1608.3 775.6L1605.0 775.9L1603.6 775.6L1596.7 772.9L1590.1 767.3L1588.4 765.7L1580.1 765.3L1571.8 766.9L1564.3 759.1ZM1654.6 882.9L1662.9 882.4L1663.4 882.9L1666.9 891.1L1668.1 899.4L1662.9 906.1L1660.0 907.6L1654.6 909.5L1652.5 907.6L1649.9 899.4L1648.7 891.1L1654.6 882.9ZM1717.1 899.4L1720.9 897.0L1723.2 899.4L1729.1 903.6L1734.3 907.6L1737.4 911.5L1741.0 915.9L1745.7 921.4L1748.3 924.1L1751.0 932.4L1745.7 937.6L1740.5 940.6L1737.4 941.3L1734.4 940.6L1729.1 938.0L1720.9 932.4L1712.6 932.8L1704.3 933.1L1703.3 932.4L1699.5 924.1L1699.5 915.9L1704.3 911.1L1708.4 907.6L1712.6 903.1Z"/>
<path fill="#a11b9b" fill-rule="evenodd" d="M288.7 288.7L297.0 288.7L305.2 288.7L313.5 288.7L321.8 288.7L330.1 288.7L338.3 288.7L346.6 288.7L354.9 288.7L363.2 288.7L371.5 288.7L379.7 288.7L388.0 288.7L396.3 288.7L404.6 288.7L412.9 288.7L421.1 288.7L429.4 288.7L437.7 288.7L446.0 288.7L454.2 288.7L462.5 288.7L470.8 288.7L479.1 288.7L487.4 288.7L495.6 288.7L503.9 288.7L512.2 288.7L520.5 288.7L528.8 288.7L537.0 288.7L545.3 288.7L553.6 288.7L561.9 288.7L570.1 288.7L578.4 288.7L586.7 288.7L595.0 288.7L603.3 288.7L611.5 288.7L619.8 288.7L628.1 288.7L636.4 288.7L644.7 288.7L652.9 288.7L661.2 288.7L669.5 288.7L677.8 288.7L686.0 288.7L694.3 288.7L702.6 288.7L710.9 288.7L719.2 288.7L727.4 288.7L735.7 288.7L744.0 288.7L752.3 288.7L760.5 288.7L768.8 288.7L777.1 288.7L785.4 288.7L793.7 288.7L801.9 288.7L810.2 288.7L818.5 288.7L826.8 288.7L835.1 288.7L843.3 288.7L851.6 288.7L859.9 288.7L868.2 288.7L876.4 288.7L884.7 288.7L893.0 288.7L901.3 288.7L909.6 288.7L917.8 288.7L926.1 288.7L934.4 288.7L942.7 288.7L951.0 288.7L959.2 288.7L967.5 288.7L975.8 288.7L984.1 288.7L992.3 288.7L1000.6 288.7L1008.9 288.7L1017.2 288.7L1025.5 288.7L1033.7 288.7L1042.0 288.7L1050.3 288.7L1058.6 288.7L1066.9 288.7L1075.1 288.7L1083.4 288.7L1091.7 288.7L1100.0 288.7L1108.2 288.7L1116.5 288.7L1124.8 288.7L1133.1 288.7L1141.4 288.7L1149.6 288.7L1157.9 288.7L1166.2 288.7L1174.5 288.7L1182.8 288.7L1191.0 288.7L1199.3 288.7L1207.6 288.7L1215.9 288.7L1224.1 288.7L1232.4 288.7L1240.7 288.7L1249.0 288.7L1257.3 288.7L1265.5 288.7L1273.8 288.7L1282.1 288.7L1290.4 288.7L1298.7 288.7L1306.9 288.7L1315.2 288.7L1323.5 288.7L1331.8 288.7L1340.0 288.7L1346.0 288.7L1345.7 296.9L1346.0 305.2L1346.6 313.4L1345.6 321.7L1340.0 325.5L1331.8 326.7L1323.5 327.7L1317.8 329.9L1315.2 335.8L1314.5 338.2L1306.9 342.6L1298.7 343.2L1290.4 343.2L1282.1 341.6L1273.8 340.9L1265.5 342.4L1257.3 344.9L1250.8 346.4L1249.0 346.8L1240.7 349.7L1233.5 354.7L1232.4 355.3L1224.1 356.9L1215.9 356.8L1207.6 356.7L1199.3 358.2L1191.0 359.8L1182.8 359.6L1174.5 358.0L1166.2 358.8L1157.9 362.7L1157.1 362.9L1149.6 364.7L1141.4 364.5L1133.1 363.9L1124.8 364.0L1116.5 364.8L1108.2 366.9L1100.0 370.8L1099.3 371.2L1091.7 373.2L1083.4 374.3L1075.1 374.7L1066.9 374.5L1058.6 374.8L1050.3 377.6L1047.0 379.5L1042.0 382.6L1033.7 385.2L1025.5 385.1L1017.2 383.7L1008.9 382.9L1000.6 385.3L997.2 387.7L996.3 396.0L992.3 399.4L984.1 399.1L975.8 397.7L967.5 401.1L964.4 404.2L959.2 410.3L951.8 412.5L951.0 412.7L949.4 412.5L942.7 411.6L940.7 412.5L934.4 415.9L930.0 420.7L926.1 424.0L920.6 429.0L917.8 432.4L914.3 437.2L909.6 442.2L901.3 444.2L894.1 445.5L893.8 453.7L901.3 459.6L909.6 459.4L916.3 453.7L917.8 451.6L926.1 446.7L930.2 445.5L934.4 444.0L942.7 442.4L951.0 442.5L959.2 444.0L967.5 444.9L975.8 445.0L984.1 444.5L992.3 443.4L1000.6 441.9L1008.9 439.4L1013.4 437.2L1017.2 433.1L1025.5 430.6L1030.0 437.2L1033.7 439.7L1042.0 444.2L1044.4 445.5L1050.3 448.8L1058.6 451.8L1066.9 451.7L1075.1 450.5L1083.4 447.8L1088.7 445.5L1091.7 444.2L1100.0 445.2L1100.2 445.5L1108.2 452.2L1109.0 453.7L1111.8 462.0L1113.3 470.2L1109.7 478.5L1109.0 486.7L1112.9 495.0L1116.5 500.9L1117.6 503.2L1117.8 511.5L1116.8 519.7L1122.5 528.0L1124.8 530.1L1130.6 536.3L1133.1 540.2L1141.2 544.5L1141.4 544.6L1141.8 544.5L1149.6 543.0L1151.3 544.5L1157.4 552.8L1157.9 554.2L1158.8 561.0L1158.2 569.3L1157.9 570.1L1151.4 577.5L1149.6 579.3L1145.7 577.5L1142.6 569.3L1141.4 567.1L1133.1 563.8L1127.7 569.3L1125.5 577.5L1124.8 578.4L1117.9 585.8L1116.5 586.2L1108.2 590.6L1100.0 592.8L1091.7 591.8L1083.7 594.0L1083.4 594.1L1075.1 599.0L1068.1 602.3L1066.9 603.2L1059.8 610.5L1059.5 618.8L1058.7 627.0L1058.6 627.4L1051.8 635.3L1050.3 635.9L1042.0 639.6L1036.8 643.5L1033.7 645.4L1025.5 649.9L1022.0 651.8L1017.2 653.3L1008.9 655.3L1000.6 657.5L993.1 660.0L992.3 660.3L984.1 662.3L975.8 664.3L968.5 668.3L967.5 669.2L960.2 676.5L959.2 677.5L951.0 682.7L942.7 683.2L934.4 678.1L932.8 676.5L930.3 668.3L934.4 664.9L942.7 662.6L951.0 662.1L957.9 660.0L959.2 659.6L967.5 652.7L967.9 651.8L974.3 643.5L975.3 635.3L967.5 632.6L959.2 633.1L951.3 635.3L951.0 635.5L942.7 642.0L940.5 643.5L934.4 646.9L926.1 647.3L917.8 645.8L909.6 643.6L901.3 645.8L893.0 648.6L885.1 651.8L884.7 652.1L876.4 658.2L868.2 658.8L859.9 653.1L858.1 651.8L851.6 649.4L843.3 649.8L835.1 649.6L826.8 646.6L819.5 643.5L818.5 643.2L817.1 643.5L812.4 651.8L810.2 655.5L807.7 660.0L801.9 663.9L793.7 666.2L785.4 666.1L777.1 663.4L768.8 660.2L761.3 668.3L765.0 676.5L768.8 679.7L777.1 682.0L785.4 682.2L793.7 680.8L801.9 679.7L810.2 681.8L813.1 684.8L810.2 692.7L810.1 693.1L801.9 698.4L798.2 701.3L797.3 709.6L801.9 712.9L810.2 713.1L818.5 711.9L826.8 714.6L828.9 717.8L830.4 726.1L835.1 729.7L843.3 729.7L851.6 729.8L859.9 731.0L868.2 731.5L876.4 729.9L884.7 728.7L892.8 734.3L893.0 734.6L901.3 742.0L903.1 742.6L909.6 745.9L913.9 750.8L910.5 759.1L909.6 759.8L901.3 766.5L900.9 767.3L900.4 775.6L901.3 777.4L907.8 783.8L909.6 785.6L914.6 792.1L917.8 796.2L926.1 797.1L929.5 792.1L932.1 783.8L934.4 780.9L942.7 780.1L951.0 782.1L959.2 778.1L961.3 775.6L961.5 767.3L959.2 765.3L951.0 759.5L950.4 759.1L944.0 750.8L943.3 742.6L949.1 734.3L951.0 732.5L959.2 730.7L962.0 734.3L967.5 742.5L967.5 742.6L975.8 748.1L984.1 747.9L991.5 742.6L992.3 741.7L997.4 734.3L997.6 726.1L992.4 717.8L992.3 717.7L984.1 713.1L979.3 709.6L982.9 701.3L984.1 700.6L992.3 697.2L1000.6 693.6L1001.4 693.1L1008.9 691.0L1017.2 687.9L1022.2 684.8L1025.5 683.5L1033.7 678.4L1036.6 676.5L1042.0 673.2L1050.3 673.1L1056.0 676.5L1058.6 678.9L1062.7 684.8L1066.9 689.0L1075.1 690.7L1083.4 688.1L1090.8 684.8L1091.7 684.5L1100.0 684.2L1108.2 684.2L1116.5 683.2L1124.8 683.2L1133.1 684.0L1141.4 684.5L1149.6 684.4L1157.9 681.7L1166.2 677.9L1169.9 676.5L1174.5 674.1L1181.5 668.3L1182.8 666.8L1190.9 660.0L1191.0 659.9L1196.2 651.8L1197.8 643.5L1199.3 638.9L1201.7 635.3L1207.6 632.1L1215.9 634.5L1216.4 635.3L1217.5 643.5L1216.7 651.8L1217.1 660.0L1224.1 666.7L1226.5 668.3L1232.4 672.5L1236.1 676.5L1240.7 682.1L1249.0 684.7L1249.4 684.8L1257.3 686.7L1265.5 689.9L1273.8 692.4L1282.1 692.5L1290.4 691.5L1298.7 691.2L1300.3 693.1L1306.9 695.7L1314.0 701.3L1315.2 702.3L1322.0 709.6L1323.5 711.1L1331.8 716.1L1337.5 717.8L1340.0 719.7L1345.6 726.1L1343.4 734.3L1345.4 742.6L1348.3 745.5L1356.6 749.4L1359.0 742.6L1359.4 734.3L1361.8 726.1L1364.9 722.3L1369.0 717.8L1373.2 715.5L1381.4 712.2L1389.7 713.1L1396.6 717.8L1398.0 719.2L1405.4 726.1L1406.3 726.9L1413.6 734.3L1414.5 736.0L1419.2 742.6L1422.8 749.9L1423.6 750.8L1431.1 756.0L1437.7 759.1L1439.4 759.6L1447.7 763.3L1450.1 767.3L1449.6 775.6L1447.7 781.0L1446.3 783.8L1446.3 792.1L1447.7 793.5L1455.9 795.6L1464.2 792.1L1472.5 792.1L1480.8 799.9L1481.1 800.3L1485.8 808.6L1489.1 813.3L1493.6 816.8L1497.3 821.0L1501.0 825.1L1505.6 826.7L1513.9 829.4L1521.5 833.3L1522.2 834.2L1525.6 841.6L1524.1 849.9L1524.0 858.1L1526.6 866.4L1530.4 874.0L1530.8 874.6L1536.4 882.9L1538.7 885.4L1547.0 890.0L1552.9 891.1L1555.3 891.7L1563.6 891.4L1571.8 895.0L1576.6 899.4L1580.1 902.9L1583.7 907.6L1588.4 913.7L1589.7 915.9L1596.7 922.2L1601.6 924.1L1605.0 926.4L1613.2 926.5L1621.5 926.1L1624.6 932.4L1623.7 940.6L1624.8 948.9L1629.8 953.3L1636.1 957.1L1638.1 958.1L1646.3 964.1L1648.6 965.4L1654.6 968.9L1662.9 971.0L1667.7 973.6L1671.2 979.8L1672.7 981.9L1679.5 985.1L1687.7 986.3L1696.0 987.9L1702.8 990.1L1704.3 990.9L1712.6 993.7L1720.9 995.4L1729.1 997.8L1729.9 998.4L1734.5 1006.7L1737.4 1014.1L1737.8 1014.9L1745.7 1022.7L1747.1 1023.2L1754.0 1025.3L1762.2 1025.6L1770.5 1025.3L1770.5 1031.4L1770.5 1039.7L1770.5 1047.9L1770.5 1056.2L1770.5 1064.4L1770.5 1072.7L1770.5 1080.9L1770.5 1089.2L1770.5 1097.4L1770.5 1105.7L1770.5 1113.9L1770.5 1122.2L1770.5 1130.4L1770.5 1138.7L1770.5 1146.9L1770.5 1155.2L1770.5 1163.5L1770.5 1171.7L1770.5 1180.0L1770.5 1188.2L1770.5 1196.5L1770.5 1204.7L1770.5 1213.0L1770.5 1221.2L1770.5 1229.5L1770.5 1237.7L1762.2 1237.7L1754.0 1237.7L1745.7 1237.7L1737.4 1237.7L1729.1 1237.7L1720.9 1237.7L1712.6 1237.7L1704.3 1237.7L1696.0 1237.7L1687.7 1237.7L1679.5 1237.7L1671.2 1237.7L1662.9 1237.7L1654.6 1237.7L1646.3 1237.7L1638.1 1237.7L1629.8 1237.7L1621.5 1237.7L1613.2 1237.7L1605.0 1237.7L1596.7 1237.7L1588.4 1237.7L1580.1 1237.7L1571.8 1237.7L1563.6 1237.7L1555.3 1237.7L1547.0 1237.7L1538.7 1237.7L1530.4 1237.7L1522.2 1237.7L1513.9 1237.7L1505.6 1237.7L1497.3 1237.7L1489.1 1237.7L1480.8 1237.7L1472.5 1237.7L1464.2 1237.7L1455.9 1237.7L1447.7 1237.7L1439.4 1237.7L1431.1 1237.7L1422.8 1237.7L1414.5 1237.7L1406.3 1237.7L1398.0 1237.7L1389.7 1237.7L1381.4 1237.7L1373.2 1237.7L1364.9 1237.7L1356.6 1237.7L1348.3 1237.7L1340.0 1237.7L1331.8 1237.7L1323.5 1237.7L1315.2 1237.7L1306.9 1237.7L1298.7 1237.7L1290.4 1237.7L1282.1 1237.7L1273.8 1237.7L1265.5 1237.7L1257.3 1237.7L1249.0 1237.7L1240.7 1237.7L1232.4 1237.7L1224.1 1237.7L1215.9 1237.7L1207.6 1237.7L1199.3 1237.7L1191.0 1237.7L1182.8 1237.7L1174.5 1237.7L1166.2 1237.7L1157.9 1237.7L1149.6 1237.7L1141.4 1237.7L1133.1 1237.7L1124.8 1237.7L1116.5 1237.7L1108.2 1237.7L1100.0 1237.7L1091.7 1237.7L1083.4 1237.7L1075.1 1237.7L1066.9 1237.7L1058.6 1237.7L1050.3 1237.7L1042.0 1237.7L1033.7 1237.7L1025.5 1237.7L1017.2 1237.7L1008.9 1237.7L1000.6 1237.7L992.3 1237.7L984.1 1237.7L975.8 1237.7L967.5 1237.7L959.2 1237.7L951.0 1237.7L942.7 1237.7L934.4 1237.7L926.1 1237.7L917.8 1237.7L909.6 1237.7L901.3 1237.7L893.0 1237.7L884.7 1237.7L876.4 1237.7L868.2 1237.7L859.9 1237.7L851.6 1237.7L843.3 1237.7L835.1 1237.7L826.8 1237.7L818.5 1237.7L810.2 1237.7L801.9 1237.7L793.7 1237.7L785.4 1237.7L777.1 1237.7L768.8 1237.7L760.5 1237.7L752.3 1237.7L744.0 1237.7L735.7 1237.7L727.4 1237.7L719.2 1237.7L710.9 1237.7L702.6 1237.7L694.3 1237.7L686.0 1237.7L677.8 1237.7L669.5 1237.7L661.2 1237.7L652.9 1237.7L644.7 1237.7L636.4 1237.7L628.1 1237.7L619.8 1237.7L611.5 1237.7L603.3 1237.7L595.0 1237.7L586.7 1237.7L578.4 1237.7L570.1 1237.7L561.9 1237.7L553.6 1237.7L545.3 1237.7L537.0 1237.7L528.8 1237.7L520.5 1237.7L512.2 1237.7L503.9 1237.7L495.6 1237.7L487.4 1237.7L479.1 1237.7L470.8 1237.7L462.5 1237.7L454.2 1237.7L446.0 1237.7L437.7 1237.7L429.4 1237.7L421.1 1237.7L412.9 1237.7L404.6 1237.7L396.3 1237.7L388.0 1237.7L379.7 1237.7L371.5 1237.7L363.2 1237.7L354.9 1237.7L346.6 1237.7L338.3 1237.7L330.1 1237.7L321.8 1237.7L313.5 1237.7L305.2 1237.7L297.0 1237.7L288.7 1237.7L288.7 1229.5L288.7 1221.2L288.7 1213.0L288.7 1204.7L288.7 1196.5L288.7 1188.2L288.7 1180.0L288.7 1171.7L288.7 1163.5L288.7 1155.2L288.7 1146.9L288.7 1138.7L288.7 1130.4L288.7 1122.2L288.7 1113.9L288.7 1105.7L288.7 1097.4L288.7 1089.2L288.7 1080.9L288.7 1072.7L288.7 1064.4L288.7 1056.2L288.7 1047.9L288.7 1039.7L288.7 1031.4L288.7 1023.2L288.7 1014.9L288.7 1006.7L288.7 998.4L288.7 990.1L288.7 981.9L288.7 973.6L288.7 965.4L288.7 957.1L288.7 948.9L288.7 940.6L288.7 932.4L288.7 924.1L288.7 915.9L288.7 907.6L288.7 899.4L288.7 891.1L288.7 882.9L288.7 874.6L288.7 866.4L288.7 858.1L288.7 849.9L288.7 841.6L288.7 833.3L288.7 825.1L288.7 816.8L288.7 808.6L288.7 800.3L288.7 792.1L288.7 783.8L288.7 775.6L288.7 767.3L288.7 759.1L288.7 750.8L288.7 742.6L288.7 734.3L288.7 726.1L288.7 717.8L288.7 709.6L288.7 701.3L288.7 693.1L288.7 684.8L288.7 676.5L288.7 668.3L288.7 660.0L288.7 651.8L288.7 643.5L288.7 635.3L288.7 627.0L288.7 618.8L288.7 610.5L288.7 602.3L288.7 594.0L288.7 585.8L288.7 577.5L288.7 569.3L288.7 561.0L288.7 552.8L288.7 544.5L288.7 536.3L288.7 528.0L288.7 519.7L288.7 511.5L288.7 503.2L288.7 495.0L288.7 486.7L288.7 478.5L288.7 470.2L288.7 462.0L288.7 453.7L288.7 445.5L288.7 437.2L288.7 429.0L288.7 420.7L288.7 412.5L288.7 404.2L288.7 396.0L288.7 387.7L288.7 379.5L288.7 371.2L288.7 362.9L288.7 354.7L288.7 346.4L288.7 338.2L288.7 329.9L288.7 321.7L288.7 313.4L288.7 305.2L288.7 296.9ZM735.7 694.2L729.5 701.3L732.3 709.6L735.7 712.8L744.0 715.1L752.3 714.9L760.5 711.3L762.2 709.6L762.1 701.3L760.5 699.4L752.3 694.7L744.0 693.7ZM801.9 731.7L798.9 734.3L796.8 742.6L801.9 747.8L810.2 749.2L818.5 748.3L826.8 744.3L828.2 742.6L829.9 734.3L826.8 730.2L818.5 729.7L810.2 729.7ZM1381.4 767.6L1374.0 775.6L1373.2 781.4L1372.9 783.8L1373.2 784.3L1378.7 792.1L1381.4 793.7L1389.7 797.9L1395.7 800.3L1398.0 801.4L1406.3 801.4L1407.9 800.3L1414.5 793.3L1415.6 792.1L1414.6 783.8L1414.5 783.8L1406.3 776.3L1405.1 775.6L1398.0 771.4L1389.7 768.6ZM1679.3 288.7L1679.5 288.7L1687.7 288.7L1696.0 288.7L1704.3 288.7L1712.6 288.7L1720.9 288.7L1729.1 288.7L1737.4 288.7L1745.7 288.7L1754.0 288.7L1762.2 288.7L1770.5 288.7L1770.5 296.9L1770.5 305.2L1770.5 313.4L1770.5 321.7L1770.5 329.9L1770.5 338.2L1770.5 346.4L1770.5 354.7L1770.5 362.9L1770.5 371.2L1770.5 379.5L1770.5 387.7L1770.5 396.0L1770.5 404.2L1770.5 412.5L1770.5 420.7L1770.5 429.0L1770.5 437.2L1770.5 445.5L1770.5 453.7L1770.5 462.0L1770.5 470.2L1770.5 478.5L1770.5 486.7L1770.5 495.0L1770.5 503.2L1770.5 511.5L1770.5 519.7L1770.5 528.0L1770.5 536.3L1770.5 544.5L1770.5 552.8L1770.5 561.0L1770.5 569.3L1770.5 577.5L1770.5 585.8L1770.5 593.1L1763.6 594.0L1762.2 594.1L1760.8 594.0L1754.0 593.2L1745.7 587.8L1742.4 585.8L1737.4 580.9L1729.1 581.3L1720.9 582.5L1714.2 577.5L1712.6 574.4L1710.2 569.3L1704.3 567.0L1696.0 567.6L1687.7 567.9L1679.5 564.9L1671.2 562.3L1666.9 561.0L1662.9 559.4L1654.6 556.9L1646.3 556.2L1638.1 556.7L1629.8 557.3L1621.5 556.9L1613.2 554.7L1607.5 552.8L1605.0 549.9L1596.7 546.5L1588.4 547.5L1580.1 547.8L1571.8 547.6L1563.6 548.4L1555.3 549.0L1547.0 547.5L1544.1 544.5L1542.6 536.3L1546.6 528.0L1546.9 519.7L1538.7 512.7L1536.0 511.5L1530.4 507.3L1528.3 503.2L1522.2 497.4L1518.7 495.0L1513.9 488.3L1513.1 486.7L1513.9 485.2L1516.0 478.5L1517.0 470.2L1513.9 462.2L1513.8 462.0L1507.0 453.7L1505.6 452.5L1497.3 448.7L1489.1 447.3L1482.3 445.5L1480.8 445.0L1472.5 441.6L1464.2 439.0L1458.8 437.2L1455.9 434.5L1451.1 429.0L1447.7 425.4L1441.8 420.7L1439.4 418.7L1436.4 412.5L1433.1 404.2L1431.1 399.6L1426.5 396.0L1422.8 394.4L1414.5 390.4L1410.0 387.7L1406.3 385.1L1398.0 380.1L1397.1 379.5L1396.6 371.2L1398.0 370.4L1406.3 367.1L1414.5 366.8L1422.8 367.6L1431.1 368.0L1439.4 368.2L1447.7 368.0L1455.9 363.2L1456.1 362.9L1461.8 354.7L1464.2 353.2L1472.5 351.4L1480.8 350.0L1489.1 347.0L1491.3 346.4L1497.3 345.0L1505.6 345.1L1513.9 345.1L1522.2 344.7L1530.4 344.0L1538.7 342.1L1546.0 338.2L1547.0 337.7L1555.3 334.4L1563.6 332.6L1568.1 329.9L1571.8 327.9L1580.1 325.3L1588.4 325.5L1596.7 327.2L1605.0 328.4L1612.8 321.7L1613.2 321.5L1621.5 318.9L1629.8 317.9L1638.1 317.7L1646.3 317.3L1654.6 314.8L1657.5 313.4L1662.9 311.3L1671.2 309.3L1679.4 305.2L1679.5 305.1L1681.4 296.9L1679.5 289.2ZM1314.1 643.5L1315.2 642.6L1323.5 640.6L1331.8 640.8L1340.0 640.3L1348.3 638.8L1356.6 643.5L1356.6 643.6L1364.9 649.3L1369.7 651.8L1373.2 656.7L1375.2 660.0L1373.2 662.3L1364.9 664.5L1356.6 663.0L1348.3 661.6L1340.0 661.0L1331.8 661.2L1323.5 661.9L1315.2 663.3L1309.6 668.3L1306.9 675.6L1303.4 676.5L1298.7 677.9L1298.2 676.5L1297.6 668.3L1298.7 666.3L1305.4 660.0L1306.9 658.1L1309.2 651.8ZM1396.7 643.5L1398.0 640.1L1406.3 636.4L1410.1 643.5L1409.4 651.8L1406.3 656.9L1398.0 654.1L1396.6 651.8ZM863.8 701.3L868.2 699.3L876.4 700.7L877.6 701.3L880.8 709.6L876.4 713.4L868.2 713.4L863.5 709.6Z"/>
<path fill="#bf3984" fill-rule="evenodd" d="M288.7 288.7L297.0 288.7L305.2 288.7L313.5 288.7L321.8 288.7L330.1 288.7L338.3 288.7L346.6 288.7L354.9 288.7L363.2 288.7L371.5 288.7L379.7 288.7L388.0 288.7L396.3 288.7L404.6 288.7L412.9 288.7L421.1 288.7L429.4 288.7L437.7 288.7L446.0 288.7L454.2 288.7L462.5 288.7L470.8 288.7L479.1 288.7L487.4 288.7L495.6 288.7L503.9 288.7L512.2 288.7L520.5 288.7L528.8 288.7L537.0 288.7L545.3 288.7L553.6 288.7L561.9 288.7L570.1 288.7L578.4 288.7L586.7 288.7L595.0 288.7L603.3 288.7L611.5 288.7L619.8 288.7L628.1 288.7L636.4 288.7L644.7 288.7L652.9 288.7L661.2 288.7L669.5 288.7L677.8 288.7L686.0 288.7L694.3 288.7L702.6 288.7L710.9 288.7L719.2 288.7L727.4 288.7L735.7 288.7L744.0 288.7L752.3 288.7L760.5 288.7L768.8 288.7L777.1 288.7L785.4 288.7L793.7 288.7L801.9 288.7L810.2 288.7L818.5 288.7L826.8 288.7L835.1 288.7L843.3 288.7L851.6 288.7L859.9 288.7L868.2 288.7L876.4 288.7L884.7 288.7L893.0 288.7L901.3 288.7L909.6 288.7L917.8 288.7L926.1 288.7L934.4 288.7L942.7 288.7L951.0 288.7L959.2 288.7L967.5 288.7L975.8 288.7L984.1 288.7L992.3 288.7L1000.6 288.7L1008.9 288.7L1017.2 288.7L1025.5 288.7L1033.7 288.7L1042.0 288.7L1050.3 288.7L1058.6 288.7L1066.9 288.7L1075.1 288.7L1083.4 288.7L1091.7 288.7L1094.6 288.7L1094.6 296.9L1094.6 305.2L1096.2 313.4L1100.0 316.1L1104.6 313.4L1108.2 310.4L1109.9 305.2L1110.2 296.9L1109.8 288.7L1116.5 288.7L1124.8 288.7L1133.1 288.7L1141.4 288.7L1149.6 288.7L1157.9 288.7L1166.2 288.7L1174.5 288.7L1182.8 288.7L1191.0 288.7L1199.3 288.7L1207.6 288.7L1215.9 288.7L1224.1 288.7L1232.4 288.7L1240.7 288.7L1249.0 288.7L1257.3 288.7L1265.5 288.7L1273.8 288.7L1282.1 288.7L1290.4 288.7L1298.7 288.7L1306.9 288.7L1315.2 288.7L1323.5 288.7L1330.2 288.7L1330.0 296.9L1330.2 305.2L1331.5 313.4L1323.5 315.5L1315.2 314.0L1311.9 313.4L1306.9 312.6L1304.3 313.4L1298.7 316.9L1296.0 321.7L1294.3 329.9L1290.4 332.0L1282.1 332.6L1273.8 332.9L1265.5 336.5L1263.9 338.2L1257.3 340.2L1249.0 341.4L1240.7 342.3L1234.4 346.4L1232.4 347.7L1224.1 352.0L1215.9 352.4L1207.6 351.8L1199.3 354.5L1198.9 354.7L1191.0 356.6L1182.8 356.1L1177.8 354.7L1174.5 352.9L1166.2 352.7L1162.6 354.7L1157.9 356.8L1149.6 359.0L1141.4 358.6L1133.1 358.0L1124.8 358.1L1116.5 358.5L1108.2 359.4L1100.0 362.0L1098.0 362.9L1091.7 365.4L1083.4 367.0L1075.1 365.8L1066.9 365.8L1058.6 367.3L1050.3 369.8L1047.6 371.2L1042.0 374.2L1033.7 377.0L1025.5 376.8L1017.2 375.6L1008.9 375.1L1000.6 376.3L992.3 378.7L984.1 376.6L980.0 371.2L975.8 368.5L967.5 368.3L962.5 371.2L960.9 379.5L962.7 387.7L959.2 394.2L957.5 396.0L951.0 399.3L942.7 398.3L934.4 399.0L930.1 404.2L926.1 409.6L923.5 412.5L917.8 417.6L914.1 420.7L909.6 426.4L908.0 429.0L901.3 433.8L893.0 434.4L884.7 435.2L879.8 437.2L876.4 444.0L876.0 445.5L876.4 447.2L879.0 453.7L884.7 461.0L885.6 462.0L893.0 466.4L901.3 467.9L909.6 468.2L917.8 466.3L921.7 462.0L926.1 457.0L930.4 453.7L934.4 452.0L942.7 451.1L951.0 451.5L959.2 450.5L967.5 449.2L975.8 448.8L984.1 448.5L992.3 447.6L1000.6 446.2L1008.0 445.5L1008.9 445.4L1011.0 445.5L1017.2 446.1L1025.5 448.2L1033.7 449.2L1042.0 452.1L1044.9 453.7L1050.3 460.9L1058.6 461.4L1066.9 459.3L1075.1 458.9L1083.4 460.9L1087.3 462.0L1091.7 464.8L1095.4 470.2L1095.7 478.5L1096.3 486.7L1100.0 492.0L1101.9 495.0L1108.2 500.6L1109.8 503.2L1110.2 511.5L1109.2 519.7L1113.8 528.0L1116.5 530.1L1123.0 536.3L1124.8 539.5L1127.7 544.5L1128.8 552.8L1124.8 557.8L1122.4 561.0L1116.7 569.3L1116.5 569.7L1110.2 577.5L1108.2 579.3L1100.0 582.1L1091.7 581.0L1083.4 583.6L1082.0 585.8L1075.1 590.5L1068.7 594.0L1066.9 594.7L1058.6 595.1L1050.3 597.5L1048.0 602.3L1044.4 610.5L1042.0 612.4L1033.7 613.7L1027.6 618.8L1029.0 627.0L1030.9 635.3L1025.5 640.5L1023.0 643.5L1017.2 646.8L1008.9 651.1L1007.6 651.8L1000.6 653.7L992.3 655.8L984.1 656.6L977.7 651.8L981.7 643.5L984.1 637.0L984.9 635.3L984.1 630.8L981.2 627.0L975.8 625.4L967.5 625.9L959.2 626.7L951.0 625.5L944.8 618.8L942.7 615.0L934.4 612.0L926.1 613.3L917.8 613.2L915.8 610.5L914.3 602.3L909.6 598.7L901.3 601.4L900.5 602.3L899.6 610.5L901.3 612.9L909.6 615.5L913.6 618.8L912.5 627.0L909.6 629.9L901.3 634.7L900.6 635.3L893.0 639.8L886.4 643.5L884.7 644.2L876.4 647.0L868.2 646.3L863.2 643.5L859.9 642.5L851.6 642.0L843.3 642.6L835.1 641.1L826.8 636.9L823.3 635.3L818.5 633.2L810.2 630.2L801.9 628.9L796.6 635.3L798.7 643.5L800.2 651.8L793.7 657.9L785.4 658.1L777.1 653.1L774.7 651.8L768.8 647.3L760.5 646.1L752.3 644.9L746.4 643.5L744.0 643.2L742.3 643.5L735.7 645.3L727.4 648.7L719.2 649.7L710.9 649.5L702.6 650.4L699.5 651.8L694.3 659.7L694.1 660.0L694.3 660.4L702.6 665.4L710.9 665.5L719.2 664.7L727.4 663.5L735.7 663.2L744.0 665.8L746.2 668.3L748.4 676.5L744.0 681.4L735.7 682.4L727.4 681.2L719.2 682.5L716.5 684.8L710.9 691.8L709.3 693.1L702.6 696.5L694.3 696.4L686.0 697.1L682.0 701.3L677.8 708.8L677.2 709.6L669.5 714.7L665.6 717.8L661.2 723.8L659.7 726.1L652.9 731.4L649.0 734.3L644.7 739.3L642.5 742.6L636.4 747.7L628.1 749.8L623.5 750.8L619.8 752.0L611.5 758.6L611.0 759.1L611.5 763.7L611.9 767.3L615.3 775.6L619.8 779.4L628.1 780.7L636.4 780.8L644.7 780.9L652.9 780.8L661.2 780.2L669.5 779.6L677.8 779.6L686.0 779.9L694.3 779.4L702.6 779.4L710.9 783.0L711.6 783.8L714.1 792.1L713.6 800.3L714.4 808.6L719.2 814.1L727.4 813.1L735.7 810.3L739.8 808.6L744.0 805.1L748.0 800.3L746.6 792.1L747.3 783.8L752.3 780.0L760.5 780.0L768.8 780.6L776.8 775.6L777.1 775.3L784.4 767.3L785.4 766.3L793.7 762.4L801.9 761.9L809.0 767.3L810.2 768.7L814.7 775.6L818.5 779.3L826.8 776.1L827.2 775.6L832.5 767.3L835.1 764.9L841.1 767.3L843.3 767.9L851.6 773.9L859.9 774.6L868.2 767.7L868.5 767.3L876.4 761.8L884.7 761.5L891.7 767.3L891.7 775.6L884.7 783.1L883.6 783.8L876.4 790.5L875.1 792.1L868.2 797.1L859.9 798.3L855.7 800.3L851.6 805.4L850.1 808.6L851.6 811.8L858.9 816.8L859.9 818.2L863.0 825.1L859.9 828.1L853.6 833.3L851.6 835.4L849.0 841.6L846.2 849.9L843.3 858.0L843.3 858.1L843.3 858.2L851.6 863.7L859.9 862.3L862.4 858.1L867.1 849.9L868.2 848.6L876.4 845.6L884.7 847.4L893.0 844.7L894.8 841.6L899.4 833.3L901.3 831.7L909.6 826.5L910.8 825.1L915.1 816.8L917.8 813.3L926.1 812.7L934.4 815.6L942.7 811.0L944.4 808.6L948.8 800.3L951.0 798.1L959.2 793.7L960.8 792.1L967.2 783.8L967.5 783.4L975.8 778.2L984.1 779.1L992.3 783.2L992.8 783.8L996.7 792.1L1000.6 796.6L1008.9 796.2L1013.0 792.1L1012.7 783.8L1008.9 780.6L1000.6 776.5L999.4 775.6L995.8 767.3L995.0 759.1L999.2 750.8L1000.6 749.4L1008.9 746.4L1017.2 747.3L1025.5 743.4L1026.1 742.6L1029.6 734.3L1029.8 726.1L1029.9 717.8L1030.1 709.6L1027.3 701.3L1025.5 695.6L1024.3 693.1L1025.5 692.5L1033.7 686.0L1035.0 684.8L1042.0 680.7L1050.3 679.8L1055.7 684.8L1058.6 688.7L1062.9 693.1L1066.9 695.0L1075.1 696.1L1083.4 696.1L1089.4 693.1L1091.7 692.4L1100.0 691.8L1108.2 692.5L1111.1 693.1L1116.5 694.4L1123.8 701.3L1124.8 702.2L1133.1 707.2L1141.4 707.1L1149.6 702.5L1151.6 701.3L1157.9 693.5L1158.3 693.1L1166.2 686.2L1169.2 684.8L1174.5 683.1L1182.8 682.0L1191.0 681.6L1199.3 681.3L1207.6 680.1L1215.9 678.9L1224.1 681.3L1226.8 684.8L1232.4 692.9L1232.7 693.1L1240.7 697.4L1249.0 693.7L1257.3 693.8L1265.5 698.7L1273.8 700.3L1282.1 700.2L1290.4 699.5L1298.7 699.7L1302.9 701.3L1306.9 702.9L1315.1 709.6L1315.2 709.7L1323.1 717.8L1323.5 718.4L1331.8 725.0L1333.1 726.1L1331.8 732.4L1331.2 734.3L1331.8 739.3L1332.1 742.6L1340.0 748.9L1341.9 750.8L1348.3 756.2L1354.7 759.1L1356.6 759.7L1364.9 765.2L1366.5 767.3L1367.6 775.6L1366.7 783.8L1369.8 792.1L1373.2 794.3L1381.4 798.8L1384.5 800.3L1389.7 803.6L1398.0 807.0L1406.3 808.2L1414.5 805.2L1418.7 800.3L1422.8 795.4L1431.1 794.0L1439.4 799.6L1440.1 800.3L1445.0 808.6L1445.4 816.8L1447.7 823.8L1448.2 825.1L1455.9 832.5L1456.9 833.3L1464.2 841.5L1464.3 841.6L1472.5 849.8L1472.8 849.9L1480.8 850.3L1482.4 849.9L1489.1 847.0L1493.1 841.6L1497.3 835.7L1505.6 833.7L1513.9 838.0L1516.8 841.6L1516.0 849.9L1516.5 858.1L1521.1 866.4L1522.2 867.9L1525.2 874.6L1529.9 882.9L1530.4 883.8L1536.9 891.1L1538.7 892.5L1547.0 896.4L1554.8 899.4L1555.3 899.8L1561.9 907.6L1561.2 915.9L1561.1 924.1L1563.6 927.9L1571.8 929.4L1580.1 928.3L1588.4 929.6L1591.7 932.4L1595.1 940.6L1595.4 948.9L1596.1 957.1L1596.7 958.3L1605.0 964.1L1613.2 964.0L1621.5 962.6L1629.8 962.5L1638.1 965.3L1638.3 965.4L1646.3 972.1L1650.0 973.6L1654.6 976.8L1660.1 981.9L1662.9 988.9L1663.9 990.1L1671.2 992.1L1679.5 991.9L1687.7 992.3L1696.0 995.6L1704.3 997.4L1710.7 998.4L1712.6 998.9L1720.9 1001.6L1726.9 1006.7L1729.1 1014.5L1729.2 1014.9L1732.9 1023.2L1737.4 1028.5L1742.2 1031.4L1745.7 1033.3L1754.0 1033.6L1762.2 1033.5L1770.5 1033.6L1770.5 1039.7L1770.5 1047.9L1770.5 1056.2L1770.5 1064.4L1770.5 1072.7L1770.5 1080.9L1770.5 1089.2L1770.5 1097.4L1770.5 1105.7L1770.5 1113.9L1770.5 1122.2L1770.5 1130.4L1770.5 1138.7L1770.5 1146.9L1770.5 1155.2L1770.5 1163.5L1770.5 1171.7L1770.5 1180.0L1770.5 1188.2L1770.5 1196.5L1770.5 1204.7L1770.5 1213.0L1770.5 1221.2L1770.5 1229.5L1770.5 1237.7L1762.2 1237.7L1754.0 1237.7L1745.7 1237.7L1737.4 1237.7L1729.1 1237.7L1720.9 1237.7L1712.6 1237.7L1704.3 1237.7L1696.0 1237.7L1687.7 1237.7L1679.5 1237.7L1671.2 1237.7L1662.9 1237.7L1654.6 1237.7L1646.3 1237.7L1638.1 1237.7L1629.8 1237.7L1621.5 1237.7L1613.2 1237.7L1605.0 1237.7L1596.7 1237.7L1588.4 1237.7L1580.1 1237.7L1571.8 1237.7L1563.6 1237.7L1555.3 1237.7L1547.0 1237.7L1538.7 1237.7L1530.4 1237.7L1522.2 1237.7L1513.9 1237.7L1505.6 1237.7L1497.3 1237.7L1489.1 1237.7L1480.8 1237.7L1472.5 1237.7L1464.2 1237.7L1455.9 1237.7L1447.7 1237.7L1439.4 1237.7L1431.1 1237.7L1422.8 1237.7L1414.5 1237.7L1406.3 1237.7L1398.0 1237.7L1389.7 1237.7L1381.4 1237.7L1373.2 1237.7L1364.9 1237.7L1356.6 1237.7L1348.3 1237.7L1340.0 1237.7L1331.8 1237.7L1323.5 1237.7L1315.2 1237.7L1306.9 1237.7L1298.7 1237.7L1290.4 1237.7L1282.1 1237.7L1273.8 1237.7L1265.5 1237.7L1257.3 1237.7L1249.0 1237.7L1240.7 1237.7L1232.4 1237.7L1224.1 1237.7L1215.9 1237.7L1207.6 1237.7L1199.3 1237.7L1191.0 1237.7L1182.8 1237.7L1174.5 1237.7L1166.2 1237.7L1157.9 1237.7L1149.6 1237.7L1141.4 1237.7L1133.1 1237.7L1124.8 1237.7L1116.5 1237.7L1108.2 1237.7L1100.0 1237.7L1091.7 1237.7L1083.4 1237.7L1075.1 1237.7L1066.9 1237.7L1058.6 1237.7L1050.3 1237.7L1042.0 1237.7L1033.7 1237.7L1025.5 1237.7L1017.2 1237.7L1008.9 1237.7L1000.6 1237.7L992.3 1237.7L984.1 1237.7L975.8 1237.7L967.5 1237.7L959.2 1237.7L951.0 1237.7L942.7 1237.7L934.4 1237.7L926.1 1237.7L917.8 1237.7L909.6 1237.7L901.3 1237.7L893.0 1237.7L884.7 1237.7L876.4 1237.7L868.2 1237.7L859.9 1237.7L851.6 1237.7L843.3 1237.7L835.1 1237.7L826.8 1237.7L818.5 1237.7L810.2 1237.7L801.9 1237.7L793.7 1237.7L785.4 1237.7L777.1 1237.7L768.8 1237.7L760.5 1237.7L752.3 1237.7L744.0 1237.7L735.7 1237.7L727.4 1237.7L719.2 1237.7L710.9 1237.7L702.6 1237.7L694.3 1237.7L686.0 1237.7L677.8 1237.7L669.5 1237.7L661.2 1237.7L652.9 1237.7L644.7 1237.7L636.4 1237.7L628.1 1237.7L619.8 1237.7L611.5 1237.7L603.3 1237.7L595.0 1237.7L586.7 1237.7L578.4 1237.7L570.1 1237.7L561.9 1237.7L553.6 1237.7L545.3 1237.7L537.0 1237.7L528.8 1237.7L520.5 1237.7L512.2 1237.7L503.9 1237.7L495.6 1237.7L487.4 1237.7L479.1 1237.7L470.8 1237.7L462.5 1237.7L454.2 1237.7L446.0 1237.7L437.7 1237.7L429.4 1237.7L421.1 1237.7L412.9 1237.7L404.6 1237.7L396.3 1237.7L388.0 1237.7L379.7 1237.7L371.5 1237.7L363.2 1237.7L354.9 1237.7L346.6 1237.7L338.3 1237.7L330.1 1237.7L321.8 1237.7L313.5 1237.7L305.2 1237.7L297.0 1237.7L288.7 1237.7L288.7 1229.5L288.7 1221.2L288.7 1213.0L288.7 1204.7L288.7 1196.5L288.7 1188.2L288.7 1180.0L288.7 1171.7L288.7 1163.5L288.7 1155.2L288.7 1146.9L288.7 1138.7L288.7 1130.4L288.7 1122.2L288.7 1113.9L288.7 1105.7L288.7 1097.4L288.7 1089.2L288.7 1080.9L288.7 1072.7L288.7 1064.4L288.7 1056.2L288.7 1047.9L288.7 1039.7L288.7 1031.4L288.7 1023.2L288.7 1014.9L288.7 1006.7L288.7 998.4L288.7 990.1L288.7 981.9L288.7 973.6L288.7 965.4L288.7 957.1L288.7 948.9L288.7 940.6L288.7 932.4L288.7 924.1L288.7 915.9L288.7 907.6L288.7 899.4L288.7 891.1L288.7 882.9L288.7 874.6L288.7 866.4L288.7 858.1L288.7 849.9L288.7 841.6L288.7 833.3L288.7 825.1L288.7 816.8L288.7 808.6L288.7 800.3L288.7 792.1L288.7 783.8L288.7 775.6L288.7 767.3L288.7 759.1L288.7 750.8L288.7 742.6L288.7 734.3L288.7 726.1L288.7 717.8L288.7 709.6L288.7 701.3L288.7 693.1L288.7 684.8L288.7 676.5L288.7 668.3L288.7 660.0L288.7 651.8L288.7 643.5L288.7 635.3L288.7 627.0L288.7 618.8L288.7 610.5L288.7 602.3L288.7 594.0L288.7 585.8L288.7 577.5L288.7 569.3L288.7 561.0L288.7 552.8L288.7 544.5L288.7 536.3L288.7 528.0L288.7 519.7L288.7 511.5L288.7 503.2L288.7 495.0L288.7 486.7L288.7 478.5L288.7 470.2L288.7 462.0L288.7 453.7L288.7 445.5L288.7 437.2L288.7 429.0L288.7 420.7L288.7 412.5L288.7 404.2L288.7 396.0L288.7 387.7L288.7 379.5L288.7 371.2L288.7 362.9L288.7 354.7L288.7 346.4L288.7 338.2L288.7 329.9L288.7 321.7L288.7 313.4L288.7 305.2L288.7 296.9ZM371.5 550.0L368.7 552.8L371.5 558.0L379.7 557.0L381.9 552.8L379.7 549.9ZM619.8 700.9L618.7 701.3L611.5 706.2L608.5 709.6L608.4 717.8L611.5 721.1L619.8 724.8L628.1 723.3L633.4 717.8L633.7 709.6L628.1 702.8L622.5 701.3ZM1050.3 731.7L1048.0 734.3L1046.4 742.6L1047.0 750.8L1042.4 759.1L1042.0 759.4L1033.7 764.3L1030.5 767.3L1031.4 775.6L1033.7 777.4L1042.0 780.8L1050.3 781.2L1058.6 777.4L1060.4 775.6L1066.9 769.0L1068.7 767.3L1075.1 763.2L1083.4 761.6L1091.7 760.4L1095.7 759.1L1092.6 750.8L1091.7 750.2L1083.4 747.2L1075.1 746.2L1069.2 742.6L1066.9 740.4L1061.8 734.3L1058.6 731.0ZM1704.3 1013.3L1698.0 1014.9L1696.0 1016.5L1693.9 1023.2L1695.6 1031.4L1696.0 1031.6L1704.3 1032.0L1704.9 1031.4L1712.2 1023.2L1706.6 1014.9ZM1033.7 798.2L1031.0 800.3L1029.2 808.6L1033.7 813.3L1042.0 814.5L1048.2 808.6L1045.9 800.3L1042.0 797.0ZM1050.3 845.5L1044.3 849.9L1046.6 858.1L1050.3 860.2L1058.6 859.2L1060.6 858.1L1066.9 850.5L1067.5 849.9L1066.9 848.4L1058.6 844.5ZM1728.7 288.7L1729.1 288.7L1737.4 288.7L1745.7 288.7L1754.0 288.7L1762.2 288.7L1770.5 288.7L1770.5 296.9L1770.5 305.2L1770.5 313.4L1770.5 321.7L1770.5 329.9L1770.5 338.2L1770.5 346.4L1770.5 354.7L1770.5 362.9L1770.5 371.2L1770.5 379.5L1770.5 387.7L1770.5 396.0L1770.5 404.2L1770.5 412.5L1770.5 420.7L1770.5 429.0L1770.5 437.2L1770.5 445.5L1770.5 453.7L1770.5 462.0L1770.5 470.2L1770.5 478.5L1770.5 486.7L1770.5 495.0L1770.5 503.2L1770.5 511.5L1770.5 519.7L1770.5 528.0L1770.5 536.3L1770.5 544.5L1770.5 547.3L1762.2 546.7L1754.0 547.3L1747.0 552.8L1745.7 554.7L1741.6 561.0L1737.4 564.3L1729.1 566.1L1720.9 564.2L1713.6 561.0L1712.6 560.6L1704.3 559.0L1696.0 559.4L1687.7 560.1L1679.5 559.1L1671.2 557.1L1662.9 554.5L1656.8 552.8L1654.6 550.7L1646.3 549.4L1638.1 551.0L1630.6 552.8L1629.8 552.8L1628.7 552.8L1621.5 551.5L1614.1 544.5L1613.2 541.9L1611.1 536.3L1605.0 531.1L1596.7 529.8L1588.4 530.7L1580.1 531.6L1571.8 531.1L1565.3 528.0L1563.6 526.5L1559.9 519.7L1555.3 514.5L1552.6 511.5L1547.0 506.8L1542.6 503.2L1538.7 499.5L1534.0 495.0L1530.4 490.8L1527.2 486.7L1526.9 478.5L1526.2 470.2L1522.2 464.0L1521.4 462.0L1515.4 453.7L1513.9 452.1L1506.6 445.5L1505.6 444.4L1497.3 441.8L1489.1 441.4L1480.8 439.2L1475.6 437.2L1472.5 434.5L1464.8 429.0L1464.2 427.7L1461.6 420.7L1455.9 414.5L1450.2 412.5L1447.7 411.2L1443.6 404.2L1444.2 396.0L1446.3 387.7L1447.7 384.8L1452.8 379.5L1455.9 378.1L1463.0 371.2L1464.2 369.2L1468.6 362.9L1472.5 360.4L1480.8 360.4L1489.1 362.8L1489.6 362.9L1497.3 365.2L1505.6 364.3L1510.1 362.9L1513.9 362.0L1522.2 358.9L1529.9 354.7L1530.4 354.3L1538.7 350.4L1547.0 347.6L1551.5 346.4L1555.3 345.4L1559.9 346.4L1563.6 347.4L1571.8 347.3L1573.1 346.4L1578.2 338.2L1580.1 336.2L1588.4 333.4L1596.6 338.2L1596.7 338.2L1602.6 346.4L1605.0 348.0L1613.2 349.0L1621.5 349.1L1629.8 349.7L1638.1 349.0L1642.3 346.4L1645.4 338.2L1646.3 336.2L1651.2 329.9L1654.6 328.2L1662.4 321.7L1662.9 321.4L1671.2 317.6L1679.5 316.1L1687.7 315.0L1696.0 314.2L1704.3 315.0L1712.6 316.8L1720.9 314.8L1722.2 313.4L1728.8 305.2L1729.1 303.5L1730.4 296.9L1729.1 290.7ZM1316.0 651.8L1323.5 646.8L1331.8 647.0L1340.0 647.5L1348.3 646.9L1356.6 649.5L1361.0 651.8L1356.6 657.3L1348.3 656.2L1340.0 655.7L1331.8 656.4L1323.5 657.0ZM1371.7 726.1L1373.2 724.5L1381.4 717.9L1389.7 719.0L1396.7 726.1L1398.0 727.6L1405.8 734.3L1406.3 734.8L1410.4 742.6L1412.3 750.8L1414.5 755.8L1417.4 759.1L1422.8 761.9L1431.1 764.1L1439.4 767.0L1439.8 767.3L1441.6 775.6L1439.4 779.0L1431.1 783.7L1422.8 781.2L1416.8 775.6L1414.5 772.8L1406.3 767.6L1405.8 767.3L1398.0 763.2L1389.7 761.1L1384.5 759.1L1381.4 756.5L1375.3 750.8L1373.2 749.1L1368.4 742.6L1367.5 734.3ZM1464.1 800.3L1464.2 800.3L1472.5 799.6L1473.3 800.3L1476.2 808.6L1472.5 814.8L1464.2 811.9L1461.2 808.6Z"/>
<path fill="#d6556d" fill-rule="evenodd" d="M288.7 288.7L297.0 288.7L305.2 288.7L313.5 288.7L321.8 288.7L330.1 288.7L338.3 288.7L346.6 288.7L354.9 288.7L363.2 288.7L371.5 288.7L379.7 288.7L388.0 288.7L396.3 288.7L404.6 288.7L412.9 288.7L421.1 288.7L429.4 288.7L437.7 288.7L446.0 288.7L454.2 288.7L462.5 288.7L470.8 288.7L479.1 288.7L487.4 288.7L495.6 288.7L503.9 288.7L512.2 288.7L520.5 288.7L528.8 288.7L537.0 288.7L545.3 288.7L553.6 288.7L561.9 288.7L570.1 288.7L578.4 288.7L586.7 288.7L595.0 288.7L603.3 288.7L611.5 288.7L619.8 288.7L628.1 288.7L636.4 288.7L644.7 288.7L652.9 288.7L661.2 288.7L669.5 288.7L677.8 288.7L686.0 288.7L694.3 288.7L702.6 288.7L710.9 288.7L719.2 288.7L727.4 288.7L735.7 288.7L744.0 288.7L752.3 288.7L760.5 288.7L768.8 288.7L777.1 288.7L785.4 288.7L793.7 288.7L801.9 288.7L810.2 288.7L818.5 288.7L826.8 288.7L835.1 288.7L843.3 288.7L851.6 288.7L859.9 288.7L868.2 288.7L876.4 288.7L884.7 288.7L893.0 288.7L901.3 288.7L909.6 288.7L912.2 288.7L911.6 296.9L912.1 305.2L913.8 313.4L913.3 321.7L909.6 326.3L901.3 328.5L894.9 321.7L893.0 318.9L885.8 313.4L884.7 312.8L876.4 313.2L875.1 313.4L868.2 314.5L859.9 314.4L851.6 314.0L843.3 314.1L835.1 313.9L830.7 313.4L826.8 313.0L818.5 311.9L810.2 311.5L802.0 313.4L801.9 313.5L796.6 321.7L800.7 329.9L801.9 330.8L810.2 331.9L818.5 331.4L826.8 334.9L829.6 338.2L835.1 344.8L839.4 346.4L843.3 347.7L851.6 347.1L855.9 346.4L859.9 345.8L868.2 345.3L876.4 345.5L884.7 346.4L885.1 346.4L893.0 347.8L901.3 348.5L909.6 347.5L915.2 346.4L917.8 346.0L926.1 345.3L929.8 338.2L930.4 329.9L931.0 321.7L931.3 313.4L931.1 305.2L931.1 296.9L931.1 288.7L934.4 288.7L942.7 288.7L951.0 288.7L959.2 288.7L961.6 288.7L960.9 296.9L961.5 305.2L967.5 312.8L975.8 311.9L980.6 305.2L981.2 296.9L980.5 288.7L984.1 288.7L992.3 288.7L1000.6 288.7L1008.9 288.7L1017.2 288.7L1025.5 288.7L1028.4 288.7L1027.7 296.9L1028.3 305.2L1033.7 311.9L1039.4 313.4L1042.0 314.5L1046.2 321.7L1050.0 329.9L1050.3 330.2L1058.6 332.4L1066.9 330.5L1068.8 329.9L1075.1 328.4L1083.4 328.5L1091.7 329.2L1100.0 329.1L1108.2 326.4L1112.6 321.7L1115.8 313.4L1116.5 308.8L1117.2 305.2L1117.4 296.9L1117.2 288.7L1124.8 288.7L1133.1 288.7L1141.4 288.7L1149.6 288.7L1157.9 288.7L1166.2 288.7L1174.5 288.7L1182.8 288.7L1191.0 288.7L1199.3 288.7L1207.6 288.7L1215.9 288.7L1224.1 288.7L1232.4 288.7L1240.7 288.7L1249.0 288.7L1257.3 288.7L1262.6 288.7L1263.6 296.9L1262.6 305.2L1257.3 310.5L1252.9 313.4L1249.0 317.7L1246.5 321.7L1244.8 329.9L1240.7 331.3L1232.4 334.5L1229.3 338.2L1224.1 344.0L1216.5 346.4L1215.9 346.5L1215.3 346.4L1207.6 344.7L1201.0 346.4L1199.3 346.8L1191.0 350.7L1182.8 349.8L1175.0 346.4L1174.5 346.1L1166.2 344.5L1160.1 346.4L1157.9 347.1L1149.6 350.2L1141.4 350.0L1133.1 349.5L1124.8 349.6L1116.5 349.6L1108.2 349.4L1100.0 349.1L1091.7 348.7L1083.4 347.7L1075.1 347.6L1066.9 351.3L1063.5 354.7L1058.6 358.2L1050.3 361.8L1046.9 362.9L1042.0 364.5L1033.7 366.5L1025.5 366.1L1017.2 365.4L1008.9 365.7L1000.6 366.6L992.3 366.6L984.7 362.9L984.1 362.6L975.8 359.5L967.5 360.0L959.2 362.6L951.0 361.3L947.1 354.7L942.7 349.2L934.4 346.6L928.9 354.7L926.1 359.6L923.7 362.9L917.8 367.2L913.2 371.2L912.6 379.5L914.1 387.7L911.6 396.0L909.6 397.3L905.4 396.0L901.3 394.9L894.3 387.7L893.0 386.2L887.4 379.5L884.7 376.3L880.6 371.2L876.4 366.8L868.2 365.7L862.5 371.2L861.4 379.5L863.4 387.7L868.2 393.8L870.2 396.0L876.4 401.6L878.9 404.2L884.7 409.0L890.6 412.5L893.0 414.8L897.4 420.7L893.0 424.8L884.7 427.3L876.4 428.5L874.8 429.0L868.2 432.3L864.7 437.2L864.4 445.5L864.3 453.7L859.9 459.4L855.5 462.0L851.6 464.4L847.1 470.2L849.6 478.5L851.6 479.6L859.9 484.9L861.5 486.7L865.1 495.0L868.2 497.8L876.4 495.9L877.3 495.0L881.7 486.7L884.7 481.8L889.9 478.5L893.0 477.5L901.3 477.0L909.6 478.3L910.4 478.5L917.8 480.6L926.1 478.9L926.6 478.5L930.3 470.2L934.4 462.4L935.2 462.0L942.7 460.4L951.0 461.3L959.2 458.7L966.6 453.7L967.5 453.5L975.8 452.5L984.1 452.6L992.3 452.2L1000.6 451.5L1008.9 452.7L1010.9 453.7L1017.2 459.7L1021.7 462.0L1025.5 464.9L1029.4 470.2L1033.7 478.0L1034.3 478.5L1042.0 481.8L1050.3 481.4L1055.1 478.5L1058.6 475.8L1063.3 470.2L1066.9 467.9L1075.1 467.3L1080.1 470.2L1083.1 478.5L1080.7 486.7L1079.7 495.0L1079.5 503.2L1075.1 511.0L1074.5 511.5L1066.9 516.6L1063.9 519.7L1062.4 528.0L1063.1 536.3L1062.9 544.5L1061.9 552.8L1062.1 561.0L1062.8 569.3L1062.9 577.5L1058.6 581.1L1050.3 580.7L1042.0 579.5L1033.7 582.2L1031.0 585.8L1026.1 594.0L1025.5 594.6L1017.2 599.1L1013.7 602.3L1012.1 610.5L1014.2 618.8L1016.9 627.0L1016.2 635.3L1009.4 643.5L1008.9 643.8L1000.6 646.9L992.3 648.4L990.7 643.5L992.3 639.3L994.4 635.3L996.1 627.0L993.9 618.8L992.3 617.4L984.1 611.5L982.7 610.5L979.2 602.3L975.8 597.2L967.9 594.0L967.5 593.9L959.2 593.9L958.8 594.0L951.0 595.9L942.7 597.2L934.4 594.6L934.0 594.0L928.3 585.8L926.1 584.5L917.8 584.6L915.9 585.8L909.6 589.7L901.3 593.1L899.5 594.0L893.1 602.3L893.0 602.4L889.1 610.5L884.7 615.8L881.4 618.8L876.6 627.0L876.4 627.3L868.2 631.4L859.9 632.7L851.6 633.8L843.3 633.9L835.1 631.1L826.8 628.5L822.8 627.0L818.5 624.8L810.6 618.8L810.2 618.2L801.9 612.5L793.7 612.0L785.4 612.3L777.1 612.5L768.8 614.8L764.9 618.8L760.7 627.0L760.5 627.2L752.3 631.4L744.0 631.0L735.7 632.8L733.5 635.3L727.4 639.2L719.2 642.5L710.9 642.5L702.6 642.4L698.3 643.5L694.3 644.5L686.0 647.7L680.5 651.8L679.6 660.0L680.4 668.3L677.8 675.1L676.7 676.5L669.5 680.9L665.3 684.8L661.2 692.7L660.9 693.1L652.9 697.1L644.7 698.0L636.4 695.8L628.1 693.6L619.8 693.3L611.5 694.8L603.3 697.5L595.0 697.1L586.7 695.9L578.4 695.8L570.1 695.4L561.9 694.7L553.6 696.1L548.1 701.3L548.5 709.6L553.6 713.8L561.9 715.0L570.1 714.4L578.4 713.9L586.7 714.4L595.0 717.6L595.2 717.8L602.2 726.1L603.3 727.1L611.5 731.0L619.8 732.0L628.1 733.2L630.5 734.3L628.1 739.9L626.8 742.6L619.8 744.6L611.5 746.4L603.3 747.5L595.0 746.3L586.7 747.1L582.8 750.8L578.4 756.0L575.7 759.1L570.1 763.6L566.0 767.3L563.8 775.6L570.1 781.8L578.4 781.2L586.7 779.4L595.0 783.1L595.4 783.8L598.1 792.1L603.3 797.3L611.5 798.1L619.8 797.1L628.1 795.7L636.4 795.1L644.7 795.1L652.9 796.2L659.0 800.3L661.2 801.7L667.0 808.6L669.5 811.2L675.2 816.8L677.8 822.1L679.5 825.1L680.5 833.3L681.1 841.6L686.0 847.0L694.3 848.4L702.6 848.1L710.9 843.4L711.8 841.6L715.1 833.3L719.2 829.7L725.9 825.1L727.4 824.3L735.7 818.4L738.1 816.8L744.0 814.6L752.3 812.9L759.5 816.8L760.5 819.5L761.9 825.1L761.2 833.3L764.9 841.6L768.8 845.2L777.1 845.3L779.9 841.6L781.5 833.3L781.1 825.1L780.8 816.8L780.9 808.6L780.0 800.3L779.5 792.1L783.2 783.8L785.4 781.4L793.3 775.6L793.7 775.4L795.1 775.6L801.9 776.7L808.7 783.8L810.2 786.9L812.6 792.1L811.3 800.3L812.8 808.6L818.5 812.7L826.8 814.3L828.2 816.8L831.7 825.1L835.1 827.9L841.6 833.3L841.5 841.6L836.4 849.9L835.1 851.8L827.9 858.1L826.8 859.2L818.5 864.1L815.7 866.4L812.9 874.6L818.5 881.4L826.8 882.1L835.1 880.2L843.3 878.2L851.6 878.1L859.9 880.0L868.2 880.8L876.4 875.8L877.4 874.6L880.5 866.4L884.7 862.1L893.0 863.6L895.8 866.4L898.2 874.6L897.4 882.9L896.1 891.1L895.9 899.4L896.9 907.6L897.4 915.9L895.1 924.1L893.0 926.2L884.7 931.9L884.2 932.4L877.6 940.6L876.4 941.8L868.2 947.0L865.7 948.9L863.6 957.1L868.2 961.9L873.2 965.4L876.4 967.8L881.5 973.6L884.7 977.2L891.2 981.9L893.0 983.6L897.2 990.1L897.9 998.4L896.2 1006.7L894.3 1014.9L895.0 1023.2L901.3 1031.4L908.9 1023.2L909.6 1022.4L914.0 1014.9L917.8 1011.5L926.1 1007.1L926.9 1006.7L934.4 999.4L937.4 998.4L942.7 996.9L951.0 997.8L959.2 996.9L963.0 990.1L959.6 981.9L959.2 981.6L951.0 976.1L947.9 973.6L944.1 965.4L944.4 957.1L949.3 948.9L951.0 947.8L959.2 946.9L961.1 948.9L963.9 957.1L967.5 962.8L975.8 961.5L979.5 957.1L979.5 948.9L975.8 946.5L967.5 944.5L963.4 940.6L962.9 932.4L963.0 924.1L962.7 915.9L962.6 907.6L965.2 899.4L967.5 897.2L975.8 895.8L984.1 896.4L992.3 893.6L994.5 891.1L997.3 882.9L997.2 874.6L993.2 866.4L992.3 865.4L984.1 862.4L975.8 863.0L967.5 863.5L959.2 863.1L951.0 863.4L948.0 866.4L946.4 874.6L942.7 879.4L934.4 880.7L928.5 874.6L931.0 866.4L934.4 864.2L942.7 862.4L946.9 858.1L943.8 849.9L942.7 848.9L934.4 843.6L932.0 841.6L929.8 833.3L934.4 828.8L942.4 825.1L942.7 825.0L950.5 816.8L951.0 816.3L959.2 810.3L967.5 811.6L975.6 816.8L975.8 817.1L982.0 825.1L984.1 827.2L992.3 833.3L992.3 833.4L998.8 841.6L1000.6 843.9L1008.9 846.9L1017.2 846.3L1025.5 847.8L1027.6 849.9L1033.0 858.1L1033.7 859.2L1041.0 866.4L1042.0 866.8L1050.3 868.6L1058.4 866.4L1058.6 866.3L1066.9 861.6L1073.8 858.1L1075.1 856.8L1082.4 849.9L1082.5 841.6L1075.2 833.3L1075.1 833.3L1066.9 826.5L1065.5 825.1L1063.5 816.8L1062.9 808.6L1062.0 800.3L1062.7 792.1L1066.9 785.1L1067.3 783.8L1072.8 775.6L1075.1 773.4L1083.4 768.9L1091.7 768.8L1100.0 775.3L1100.4 775.6L1108.2 780.5L1116.5 776.9L1124.8 775.6L1133.1 776.4L1141.4 776.1L1143.0 775.6L1145.6 767.3L1141.4 763.6L1136.4 759.1L1133.1 756.2L1124.8 751.2L1121.3 750.8L1116.5 750.5L1110.6 750.8L1108.2 751.0L1107.8 750.8L1100.0 748.2L1091.7 743.1L1090.4 742.6L1083.4 739.6L1075.1 735.6L1073.8 734.3L1068.2 726.1L1066.9 724.1L1061.8 717.8L1060.6 709.6L1066.5 701.3L1066.9 701.2L1067.8 701.3L1075.1 702.4L1083.4 707.7L1091.7 708.3L1100.0 702.0L1102.9 701.3L1108.2 700.4L1110.1 701.3L1116.5 705.3L1121.5 709.6L1124.8 711.3L1133.1 713.4L1141.4 713.3L1149.6 711.2L1154.0 709.6L1157.9 707.2L1166.2 701.9L1166.7 701.3L1174.1 693.1L1174.5 692.8L1182.8 691.7L1191.0 692.7L1192.8 693.1L1199.3 694.9L1207.6 697.0L1215.9 695.6L1224.1 699.3L1226.0 701.3L1232.4 708.0L1234.4 709.6L1240.7 715.2L1249.0 714.8L1257.3 711.9L1265.5 710.5L1273.8 712.8L1277.2 717.8L1278.9 726.1L1282.1 730.2L1290.4 730.7L1294.6 726.1L1296.2 717.8L1298.7 710.3L1306.9 711.9L1312.2 717.8L1315.2 723.5L1316.6 726.1L1315.2 734.3L1315.2 734.4L1311.3 742.6L1309.8 750.8L1314.6 759.1L1315.2 759.6L1323.3 767.3L1323.5 767.5L1331.5 775.6L1331.8 775.7L1340.0 775.8L1340.4 775.6L1348.3 767.6L1352.9 767.3L1356.6 767.2L1356.7 767.3L1360.7 775.6L1359.6 783.8L1358.9 792.1L1364.9 798.3L1371.1 800.3L1373.2 801.0L1381.4 806.2L1386.2 808.6L1389.7 811.8L1398.0 814.8L1405.2 816.8L1406.3 817.2L1414.5 822.7L1418.2 825.1L1422.8 826.8L1431.1 828.3L1439.4 833.1L1439.6 833.3L1447.7 839.7L1449.9 841.6L1455.9 848.8L1456.7 849.9L1464.2 856.4L1468.7 858.1L1472.5 859.1L1480.8 860.4L1489.1 861.8L1497.3 862.6L1505.6 863.6L1510.3 866.4L1513.9 868.7L1517.7 874.6L1522.2 880.9L1523.1 882.9L1527.2 891.1L1530.4 895.4L1537.6 899.4L1538.7 899.9L1547.0 905.4L1549.5 907.6L1549.7 915.9L1547.0 922.6L1546.0 924.1L1543.1 932.4L1546.3 940.6L1547.0 941.3L1555.3 948.8L1555.4 948.9L1562.8 957.1L1563.6 957.9L1571.4 965.4L1571.8 965.8L1579.6 973.6L1580.1 974.3L1588.4 981.4L1596.7 980.9L1605.0 979.8L1608.1 981.9L1613.2 988.2L1614.1 990.1L1621.4 998.4L1621.5 998.5L1629.8 998.6L1638.1 998.4L1646.0 1006.7L1646.3 1007.0L1654.6 1012.8L1661.2 1006.7L1662.9 1004.8L1671.2 999.6L1679.5 1003.9L1681.1 1006.7L1679.5 1011.6L1675.2 1014.9L1671.2 1015.8L1662.9 1016.1L1660.1 1023.2L1659.0 1031.4L1662.7 1039.7L1662.9 1039.8L1671.2 1042.2L1679.5 1042.3L1687.7 1042.3L1696.0 1044.0L1704.3 1045.9L1709.9 1039.7L1712.6 1037.0L1717.8 1031.4L1720.9 1028.7L1726.1 1031.4L1729.1 1037.2L1730.0 1039.7L1729.1 1040.6L1720.9 1046.4L1713.7 1047.9L1712.6 1049.7L1711.8 1056.2L1712.6 1057.2L1719.0 1064.4L1720.9 1065.8L1729.1 1066.1L1737.4 1064.6L1745.7 1067.5L1746.6 1072.7L1752.5 1080.9L1754.0 1082.3L1762.2 1083.6L1770.5 1082.2L1770.5 1089.2L1770.5 1097.4L1770.5 1105.7L1770.5 1113.9L1770.5 1122.2L1770.5 1130.4L1770.5 1138.7L1770.5 1146.9L1770.5 1155.2L1770.5 1163.5L1770.5 1171.7L1770.5 1180.0L1770.5 1188.2L1770.5 1196.5L1770.5 1204.7L1770.5 1213.0L1770.5 1221.2L1770.5 1229.5L1770.5 1237.7L1762.2 1237.7L1754.0 1237.7L1745.7 1237.7L1737.4 1237.7L1729.1 1237.7L1720.9 1237.7L1712.6 1237.7L1704.3 1237.7L1696.0 1237.7L1687.7 1237.7L1679.5 1237.7L1671.2 1237.7L1662.9 1237.7L1654.6 1237.7L1646.3 1237.7L1638.1 1237.7L1629.8 1237.7L1621.5 1237.7L1613.2 1237.7L1605.0 1237.7L1596.7 1237.7L1588.4 1237.7L1580.1 1237.7L1571.8 1237.7L1563.6 1237.7L1555.3 1237.7L1547.0 1237.7L1538.7 1237.7L1530.4 1237.7L1522.2 1237.7L1513.9 1237.7L1505.6 1237.7L1497.3 1237.7L1489.1 1237.7L1480.8 1237.7L1472.5 1237.7L1464.2 1237.7L1455.9 1237.7L1447.7 1237.7L1439.4 1237.7L1431.1 1237.7L1422.8 1237.7L1414.5 1237.7L1406.3 1237.7L1398.0 1237.7L1389.7 1237.7L1381.4 1237.7L1373.2 1237.7L1364.9 1237.7L1356.6 1237.7L1348.3 1237.7L1340.0 1237.7L1331.8 1237.7L1323.5 1237.7L1315.2 1237.7L1306.9 1237.7L1298.7 1237.7L1290.4 1237.7L1282.1 1237.7L1273.8 1237.7L1265.5 1237.7L1257.3 1237.7L1249.0 1237.7L1240.7 1237.7L1232.4 1237.7L1224.1 1237.7L1215.9 1237.7L1207.6 1237.7L1199.3 1237.7L1191.0 1237.7L1182.8 1237.7L1174.5 1237.7L1166.2 1237.7L1157.9 1237.7L1149.6 1237.7L1141.4 1237.7L1133.1 1237.7L1124.8 1237.7L1116.5 1237.7L1108.2 1237.7L1100.0 1237.7L1091.7 1237.7L1083.4 1237.7L1075.1 1237.7L1066.9 1237.7L1058.6 1237.7L1050.3 1237.7L1042.0 1237.7L1033.7 1237.7L1025.5 1237.7L1017.2 1237.7L1008.9 1237.7L1000.6 1237.7L992.3 1237.7L984.1 1237.7L975.8 1237.7L967.5 1237.7L959.2 1237.7L951.0 1237.7L942.7 1237.7L934.4 1237.7L926.1 1237.7L917.8 1237.7L909.6 1237.7L901.3 1237.7L893.0 1237.7L884.7 1237.7L876.4 1237.7L868.2 1237.7L859.9 1237.7L851.6 1237.7L843.3 1237.7L835.1 1237.7L826.8 1237.7L818.5 1237.7L810.2 1237.7L801.9 1237.7L793.7 1237.7L785.4 1237.7L777.1 1237.7L768.8 1237.7L760.5 1237.7L752.3 1237.7L744.0 1237.7L735.7 1237.7L727.4 1237.7L719.2 1237.7L710.9 1237.7L702.6 1237.7L694.3 1237.7L686.0 1237.7L677.8 1237.7L669.5 1237.7L661.2 1237.7L652.9 1237.7L644.7 1237.7L636.4 1237.7L628.1 1237.7L619.8 1237.7L611.5 1237.7L603.3 1237.7L595.0 1237.7L586.7 1237.7L578.4 1237.7L570.1 1237.7L561.9 1237.7L553.6 1237.7L545.3 1237.7L537.0 1237.7L528.8 1237.7L520.5 1237.7L512.2 1237.7L503.9 1237.7L495.6 1237.7L487.4 1237.7L479.1 1237.7L470.8 1237.7L462.5 1237.7L454.2 1237.7L446.0 1237.7L437.7 1237.7L429.4 1237.7L421.1 1237.7L412.9 1237.7L404.6 1237.7L396.3 1237.7L388.0 1237.7L379.7 1237.7L371.5 1237.7L363.2 1237.7L354.9 1237.7L346.6 1237.7L338.3 1237.7L330.1 1237.7L321.8 1237.7L313.5 1237.7L305.2 1237.7L297.0 1237.7L288.7 1237.7L288.7 1229.5L288.7 1221.2L288.7 1213.0L288.7 1204.7L288.7 1196.5L288.7 1188.2L288.7 1180.0L288.7 1171.7L288.7 1163.5L288.7 1155.2L288.7 1146.9L288.7 1138.7L288.7 1130.4L288.7 1126.2L297.0 1126.8L305.2 1126.2L313.5 1122.5L313.9 1122.2L317.6 1113.9L315.5 1105.7L313.5 1103.4L305.9 1097.4L305.2 1096.9L297.0 1095.7L288.7 1097.0L288.7 1089.2L288.7 1080.9L288.7 1072.7L288.7 1064.4L288.7 1056.2L288.7 1047.9L288.7 1039.7L288.7 1031.4L288.7 1023.2L288.7 1014.9L288.7 1006.7L288.7 998.4L288.7 990.1L288.7 981.9L288.7 973.6L288.7 965.4L288.7 957.1L288.7 948.9L288.7 940.6L288.7 932.4L288.7 924.1L288.7 915.9L288.7 907.6L288.7 899.4L288.7 891.1L288.7 882.9L288.7 874.6L288.7 866.4L288.7 858.1L288.7 849.9L288.7 841.6L288.7 833.3L288.7 825.1L288.7 816.8L288.7 808.6L288.7 800.3L288.7 792.1L288.7 783.8L288.7 775.6L288.7 767.3L288.7 759.1L288.7 750.8L288.7 742.6L288.7 734.3L288.7 726.1L288.7 717.8L288.7 709.6L288.7 701.3L288.7 693.1L288.7 684.8L288.7 676.5L288.7 668.3L288.7 660.0L288.7 651.8L288.7 643.5L288.7 635.3L288.7 627.0L288.7 618.8L288.7 610.5L288.7 602.3L288.7 596.7L297.0 596.5L305.2 596.7L313.5 597.9L321.8 601.4L322.9 602.3L325.7 610.5L327.7 618.8L330.1 620.6L338.3 625.7L342.2 627.0L346.6 628.2L354.9 628.8L363.2 628.4L371.5 628.7L379.7 633.6L380.8 635.3L379.7 638.5L377.6 643.5L371.5 647.2L363.2 647.6L354.9 647.0L346.6 647.1L338.3 646.8L330.1 645.3L321.8 645.0L313.5 650.4L312.6 651.8L313.5 652.7L320.9 660.0L321.8 660.4L330.1 662.7L338.3 665.6L346.6 666.7L354.9 665.7L363.2 665.6L371.5 665.6L379.7 664.8L388.0 663.1L396.3 661.8L404.6 662.9L411.7 668.3L412.9 670.6L414.9 676.5L414.3 684.8L415.9 693.1L421.1 697.4L425.9 701.3L429.4 703.2L437.7 709.1L438.4 709.6L446.0 712.8L454.2 715.3L462.5 710.1L462.8 709.6L462.5 708.0L461.5 701.3L454.2 695.3L451.0 693.1L446.0 685.9L445.4 684.8L446.0 681.6L446.9 676.5L446.0 673.5L443.9 668.3L437.7 663.9L433.2 660.0L430.0 651.8L429.4 647.7L421.1 646.8L416.0 643.5L412.9 639.8L410.5 635.3L407.7 627.0L404.6 622.7L399.7 618.8L397.0 610.5L397.0 602.3L396.9 594.0L397.2 585.8L398.6 577.5L401.2 569.3L403.5 561.0L403.9 552.8L401.7 544.5L396.3 537.8L394.5 536.3L388.0 533.1L379.7 531.4L371.5 531.6L363.2 533.3L354.9 535.5L348.7 536.3L346.6 536.6L344.2 536.3L338.3 535.4L330.1 529.7L328.7 528.0L323.7 519.7L321.8 516.5L317.8 511.5L313.5 508.2L305.2 505.5L297.0 505.1L288.7 505.5L288.7 503.2L288.7 495.0L288.7 486.7L288.7 478.5L288.7 470.2L288.7 462.0L288.7 453.7L288.7 445.5L288.7 437.2L288.7 429.0L288.7 420.7L288.7 412.5L288.7 404.2L288.7 396.0L288.7 387.7L288.7 379.5L288.7 371.2L288.7 362.9L288.7 354.7L288.7 346.4L288.7 338.2L288.7 329.9L288.7 321.7L288.7 313.4L288.7 305.2L288.7 296.9ZM437.7 628.1L430.9 635.3L430.3 643.5L437.7 646.9L444.6 643.5L446.0 641.8L448.3 635.3L446.0 631.6ZM462.5 651.7L462.5 651.8L462.5 652.4L463.8 660.0L470.8 664.1L479.1 661.7L480.5 660.0L481.1 651.8L479.1 648.2L470.8 645.2ZM487.4 1063.1L485.3 1064.4L479.1 1071.0L478.2 1072.7L470.8 1080.6L470.4 1080.9L463.4 1089.2L462.5 1091.8L460.7 1097.4L462.5 1104.3L463.0 1105.7L470.8 1112.9L472.0 1113.9L479.1 1121.2L479.9 1122.2L487.4 1130.1L488.1 1130.4L495.6 1132.8L503.9 1131.3L506.3 1130.4L512.2 1126.5L514.8 1122.2L512.2 1118.9L508.0 1113.9L503.9 1110.5L498.6 1105.7L496.0 1097.4L497.3 1089.2L500.2 1080.9L499.7 1072.7L495.6 1067.6L489.7 1064.4ZM851.6 594.9L845.6 602.3L848.0 610.5L851.6 613.5L859.9 611.8L861.3 610.5L865.4 602.3L859.9 594.6ZM975.8 477.0L969.3 478.5L967.5 479.5L963.4 486.7L966.4 495.0L967.5 495.9L975.8 499.5L984.1 500.4L991.8 495.0L992.3 494.0L996.6 486.7L992.3 479.6L990.0 478.5L984.1 477.4ZM868.2 1047.8L868.0 1047.9L863.4 1056.2L863.6 1064.4L862.7 1072.7L859.9 1075.7L852.6 1080.9L851.6 1081.8L846.8 1089.2L846.9 1097.4L847.2 1105.7L845.8 1113.9L846.3 1122.2L851.6 1128.0L859.9 1128.7L864.6 1122.2L868.2 1117.2L870.0 1113.9L874.9 1105.7L876.4 1100.5L877.2 1097.4L879.3 1089.2L884.7 1082.9L887.5 1080.9L893.0 1076.9L897.1 1072.7L900.5 1064.4L898.9 1056.2L893.1 1047.9L893.0 1047.8L884.7 1045.9L876.4 1045.4ZM313.5 732.8L312.8 734.3L312.1 742.6L312.7 750.8L313.5 752.7L316.9 759.1L321.8 762.9L326.8 767.3L330.1 771.0L334.1 775.6L338.3 779.5L342.9 783.8L346.6 788.2L350.3 792.1L354.9 796.0L363.2 796.7L371.5 797.4L376.0 800.3L379.7 805.1L381.7 808.6L381.3 816.8L379.7 823.0L379.2 825.1L378.9 833.3L379.7 835.0L383.5 841.6L388.0 844.8L395.0 849.9L396.3 854.6L397.5 858.1L396.3 860.5L388.0 863.0L380.4 866.4L379.7 867.6L378.1 874.6L379.7 877.8L388.0 880.7L396.3 876.0L397.2 874.6L399.5 866.4L404.6 863.2L412.9 862.8L421.1 863.0L427.3 866.4L429.4 873.2L429.7 874.6L437.7 881.0L446.0 875.6L447.0 874.6L448.9 866.4L446.0 864.1L437.7 861.9L430.6 858.1L430.0 849.9L430.3 841.6L429.4 835.8L429.0 833.3L428.5 825.1L429.4 823.7L435.5 816.8L437.7 815.5L443.1 808.6L439.5 800.3L437.7 799.1L429.4 797.1L421.1 796.8L412.9 797.7L404.6 796.2L399.8 792.1L396.3 787.6L393.1 783.8L388.0 780.0L379.7 779.6L371.5 778.6L367.5 775.6L363.2 771.3L359.3 767.3L354.9 763.5L350.0 759.1L346.6 754.4L343.9 750.8L338.3 745.4L335.8 742.6L330.1 736.4L327.7 734.3L321.8 728.9ZM1046.2 288.7L1050.3 288.7L1058.6 288.7L1063.7 288.7L1064.8 296.9L1063.8 305.2L1058.6 310.8L1050.3 312.8L1046.1 305.2L1046.1 296.9ZM1727.8 321.7L1729.1 320.3L1737.4 313.6L1745.7 319.4L1746.8 321.7L1753.3 329.9L1754.0 330.4L1762.2 331.4L1770.5 330.4L1770.5 338.2L1770.5 346.4L1770.5 354.7L1770.5 362.9L1770.5 371.2L1770.5 379.5L1770.5 387.7L1770.5 396.0L1770.5 404.2L1770.5 412.5L1770.5 420.7L1770.5 429.0L1770.5 437.2L1770.5 445.5L1770.5 453.7L1770.5 462.0L1770.5 470.2L1770.5 478.5L1770.5 486.7L1770.5 495.0L1770.5 503.2L1770.5 511.5L1770.5 513.3L1762.2 512.5L1754.0 513.2L1746.7 519.7L1745.7 521.6L1740.5 528.0L1737.4 529.9L1729.1 530.7L1720.9 530.0L1712.6 529.5L1704.3 529.5L1696.0 529.8L1687.7 529.7L1679.5 529.0L1671.2 529.0L1662.9 530.4L1654.6 530.3L1651.1 528.0L1646.3 523.0L1644.1 519.7L1638.1 514.1L1634.6 511.5L1629.8 506.2L1627.6 503.2L1621.5 497.2L1613.2 496.6L1605.0 496.8L1601.3 495.0L1596.7 490.1L1595.2 486.7L1594.9 478.5L1595.8 470.2L1596.0 462.0L1595.0 453.7L1593.9 445.5L1596.0 437.2L1596.7 436.5L1605.0 429.1L1605.2 429.0L1613.0 420.7L1613.2 420.5L1621.5 414.2L1623.7 412.5L1629.1 404.2L1629.8 402.7L1638.1 398.2L1642.7 396.0L1646.3 389.2L1646.8 387.7L1646.3 387.1L1638.1 380.1L1629.8 384.7L1628.0 387.7L1621.5 395.1L1613.2 395.8L1611.7 396.0L1605.0 396.7L1596.8 404.2L1596.7 404.3L1588.9 412.5L1588.4 412.9L1580.4 420.7L1580.1 421.1L1572.5 429.0L1571.8 429.5L1563.6 436.9L1563.3 437.2L1562.4 445.5L1562.7 453.7L1557.6 462.0L1555.3 463.3L1547.0 464.9L1538.7 463.8L1535.7 462.0L1530.4 458.6L1525.8 453.7L1522.2 450.5L1517.6 445.5L1513.9 439.3L1512.1 437.2L1513.9 434.3L1520.6 429.0L1522.2 428.3L1529.2 420.7L1529.1 412.5L1529.2 404.2L1530.4 402.0L1538.7 398.0L1542.5 396.0L1546.8 387.7L1538.7 379.8L1530.4 384.6L1528.0 387.7L1522.3 396.0L1522.2 396.0L1513.9 398.1L1505.6 398.4L1500.0 396.0L1497.3 391.5L1496.1 387.7L1497.3 385.4L1501.3 379.5L1505.6 377.0L1513.4 371.2L1513.9 370.9L1522.2 367.3L1530.4 363.5L1531.6 362.9L1538.7 360.3L1547.0 360.9L1554.7 362.9L1555.3 363.1L1560.9 362.9L1563.6 362.9L1571.8 362.4L1577.0 362.9L1580.1 363.4L1588.4 364.2L1596.7 363.5L1601.5 362.9L1605.0 362.6L1613.2 362.5L1621.5 362.2L1629.8 361.4L1638.1 360.8L1646.3 361.0L1651.4 362.9L1654.6 364.5L1660.1 371.2L1662.9 375.2L1669.5 379.5L1671.2 380.4L1672.8 379.5L1678.6 371.2L1679.2 362.9L1678.9 354.7L1679.0 346.4L1679.3 338.2L1679.5 337.0L1682.8 329.9L1687.7 328.8L1696.0 328.6L1704.3 329.4L1709.8 329.9L1712.6 330.3L1714.1 329.9L1720.9 328.8ZM1704.3 361.9L1702.4 362.9L1696.0 371.0L1695.9 371.2L1696.0 371.5L1700.2 379.5L1704.3 381.6L1709.3 379.5L1712.6 375.4L1714.0 371.2L1712.6 367.4L1707.3 362.9ZM1096.8 536.3L1100.0 531.3L1108.2 532.4L1113.7 536.3L1116.5 539.8L1118.8 544.5L1116.5 552.2L1116.2 552.8L1108.2 561.0L1108.2 561.0L1100.0 565.7L1091.7 566.2L1083.4 561.7L1082.7 561.0L1081.2 552.8L1083.4 550.1L1089.2 544.5L1091.7 542.2ZM833.7 783.8L835.1 781.9L843.3 778.9L851.6 781.3L859.9 782.8L863.2 783.8L859.9 789.7L858.9 792.1L851.6 795.1L846.1 800.3L843.3 805.9L840.0 808.6L835.1 812.5L829.5 808.6L828.7 800.3L829.5 792.1ZM1747.4 1047.9L1754.0 1043.4L1762.2 1042.6L1770.5 1043.4L1770.5 1047.9L1770.5 1056.2L1770.5 1062.5L1762.2 1062.5L1754.0 1062.5L1745.7 1059.9L1745.2 1056.2L1745.7 1054.2Z"/>
<path fill="#ea7457" fill-rule="evenodd" d="M288.7 288.7L297.0 288.7L305.2 288.7L313.5 288.7L321.8 288.7L330.1 288.7L338.3 288.7L346.6 288.7L354.9 288.7L363.2 288.7L363.6 288.7L363.4 296.9L363.6 305.2L365.0 313.4L368.9 321.7L371.5 324.4L379.7 328.7L386.1 329.9L388.0 330.3L396.3 330.6L404.6 330.3L412.9 330.2L421.1 330.3L429.4 330.5L437.7 330.4L440.7 329.9L446.0 329.1L454.2 325.4L458.1 321.7L462.1 313.4L462.5 311.4L463.6 305.2L463.8 296.9L463.5 288.7L470.8 288.7L479.1 288.7L487.4 288.7L495.6 288.7L503.9 288.7L512.2 288.7L520.5 288.7L528.8 288.7L537.0 288.7L545.3 288.7L553.6 288.7L561.9 288.7L563.5 288.7L563.5 296.9L563.5 305.2L563.4 313.4L563.4 321.7L561.9 329.8L561.6 329.9L553.6 330.5L545.3 332.5L537.0 336.9L535.8 338.2L530.2 346.4L528.8 348.6L524.7 354.7L520.5 359.0L514.5 362.9L512.2 364.4L503.9 370.1L502.9 371.2L498.6 379.5L496.8 387.7L496.2 396.0L496.5 404.2L497.8 412.5L501.3 420.7L503.9 423.6L512.2 428.2L516.5 429.0L520.5 430.0L528.1 429.0L528.8 428.6L530.4 420.7L532.2 412.5L536.3 404.2L537.0 403.4L545.3 398.7L553.6 396.7L558.1 396.0L561.9 393.6L563.3 387.7L563.5 379.5L563.5 371.2L563.5 362.9L563.5 354.7L563.5 346.4L563.5 338.2L570.1 330.1L578.4 331.6L586.7 334.8L590.7 338.2L595.0 343.5L596.7 346.4L601.9 354.7L603.3 356.2L611.5 362.2L612.9 362.9L619.8 367.4L623.6 371.2L627.6 379.5L628.1 382.3L629.4 387.7L634.4 396.0L636.4 396.3L637.6 396.0L644.7 395.1L652.9 392.3L658.4 387.7L661.2 384.5L664.5 379.5L669.5 372.1L670.1 371.2L677.8 363.3L680.0 362.9L686.0 362.1L686.8 362.9L691.9 371.2L694.3 373.7L702.6 378.3L710.9 376.6L713.5 371.2L719.2 363.1L727.4 364.1L731.2 371.2L727.4 379.0L726.7 379.5L719.2 382.3L713.7 387.7L710.9 391.4L706.3 396.0L702.6 398.6L696.9 404.2L700.1 412.5L702.6 414.0L710.9 418.1L713.3 420.7L713.8 429.0L713.4 437.2L719.1 445.5L719.2 445.5L727.4 448.4L735.7 447.8L740.1 445.5L744.0 440.5L745.5 437.2L745.8 429.0L745.1 420.7L745.2 412.5L747.1 404.2L752.3 398.7L755.9 396.0L760.5 392.0L764.0 387.7L768.8 382.7L772.8 379.5L777.1 374.7L779.4 371.2L785.4 364.2L793.7 365.9L797.3 371.2L801.9 377.3L810.2 379.2L818.5 378.5L821.6 379.5L826.8 382.8L829.5 387.7L826.8 395.2L826.1 396.0L818.5 398.5L810.2 398.0L801.9 399.2L797.3 404.2L793.7 409.8L789.4 412.5L785.4 413.9L777.1 413.0L768.8 415.4L764.8 420.7L762.9 429.0L763.9 437.2L768.8 444.4L770.2 445.5L777.1 451.2L779.1 453.7L784.8 462.0L785.4 462.5L793.7 463.9L801.9 463.2L810.2 467.5L812.0 470.2L818.5 478.3L818.8 478.5L826.8 484.5L828.4 486.7L834.9 495.0L835.1 495.1L843.3 500.0L845.7 503.2L850.3 511.5L851.6 512.8L859.9 513.9L868.2 512.2L876.4 514.9L879.2 519.7L884.1 528.0L884.7 528.6L893.0 531.5L901.3 531.0L908.6 528.0L909.6 527.2L913.4 519.7L913.3 511.5L913.8 503.2L917.8 497.6L926.1 495.0L934.4 496.0L942.7 499.8L945.3 503.2L947.0 511.5L946.7 519.7L945.9 528.0L946.3 536.3L950.3 544.5L951.0 545.0L959.2 548.1L967.5 547.9L975.1 544.5L975.8 543.7L978.6 536.3L978.4 528.0L978.6 519.7L984.1 513.4L987.9 511.5L992.3 509.4L996.6 503.2L1000.6 498.4L1008.9 495.6L1013.9 503.2L1011.2 511.5L1008.9 513.1L1000.6 517.0L998.1 519.7L996.2 528.0L996.6 536.3L1000.6 542.2L1003.9 544.5L1008.9 548.1L1012.9 552.8L1010.0 561.0L1008.9 561.9L1000.6 567.0L998.3 569.3L992.3 576.5L991.0 577.5L984.1 581.0L975.8 581.5L967.5 580.9L959.2 580.7L951.0 581.8L942.7 582.5L934.4 579.0L930.8 577.5L926.1 575.8L917.8 576.9L916.6 577.5L909.6 580.7L901.3 582.3L898.4 577.5L896.8 569.3L893.0 564.4L884.7 564.2L880.3 569.3L876.4 574.8L874.0 577.5L868.2 581.4L859.9 582.0L851.6 581.3L843.3 580.7L835.1 579.9L826.8 579.5L818.5 581.6L814.5 585.8L810.2 592.6L809.1 594.0L801.9 598.6L793.7 599.0L785.4 596.5L782.8 594.0L779.0 585.8L777.1 583.2L768.8 579.3L760.5 579.3L752.3 580.6L744.0 581.1L735.7 579.1L733.6 577.5L729.4 569.3L729.2 561.0L730.4 552.8L731.0 544.5L729.0 536.3L727.4 534.5L719.2 528.8L718.0 528.0L713.4 519.7L714.1 511.5L712.9 503.2L710.9 501.3L702.6 497.6L696.4 495.0L694.3 488.5L693.9 486.7L694.3 486.0L702.6 481.1L708.8 478.5L710.9 476.6L713.8 470.2L710.9 465.8L703.0 462.0L702.6 461.8L701.7 462.0L694.3 464.1L686.0 470.0L677.8 464.3L675.7 462.0L669.5 455.8L667.6 453.7L662.4 445.5L661.2 443.6L656.3 437.2L652.9 434.3L644.7 429.4L643.9 429.0L636.4 422.7L634.8 420.7L631.7 412.5L630.2 404.2L628.1 398.2L619.8 397.6L611.5 397.4L603.3 397.2L595.0 397.1L586.7 397.0L578.4 397.0L570.1 397.3L564.1 404.2L562.4 412.5L561.9 413.8L558.7 420.7L553.6 425.7L546.5 429.0L545.3 429.4L537.0 431.0L530.2 437.2L530.1 445.5L530.1 453.7L530.2 462.0L530.1 470.2L530.2 478.5L530.1 486.7L529.8 495.0L529.8 503.2L530.8 511.5L534.0 519.7L537.0 523.4L545.3 526.9L553.6 525.3L559.4 519.7L561.9 516.2L564.6 511.5L570.1 503.6L570.7 503.2L578.4 499.9L586.7 501.3L589.3 503.2L595.0 511.2L595.1 511.5L596.8 519.7L597.2 528.0L596.9 536.3L596.7 544.5L596.7 552.8L596.8 561.0L596.7 569.3L596.8 577.5L596.9 585.8L596.9 594.0L603.3 596.4L611.5 597.4L619.8 599.9L623.2 602.3L623.4 610.5L622.2 618.8L628.1 622.2L636.4 626.4L638.2 627.0L644.7 628.5L652.9 629.8L661.2 634.7L661.7 635.3L664.9 643.5L665.5 651.8L663.8 660.0L661.2 662.7L652.9 662.0L650.6 660.0L644.7 653.7L642.9 651.8L636.4 647.2L628.1 647.6L619.8 646.6L616.4 643.5L612.5 635.3L611.5 631.6L609.0 627.0L603.3 621.9L598.9 618.8L595.9 610.5L596.4 602.3L595.0 597.1L586.7 596.4L578.4 596.5L570.1 596.8L561.9 597.3L553.6 597.6L545.3 597.2L537.0 596.7L528.8 596.5L520.5 596.9L512.2 598.4L505.2 602.3L503.9 603.3L499.3 610.5L495.6 617.5L494.7 618.8L487.4 623.5L479.1 625.7L470.8 624.4L467.3 618.8L464.4 610.5L463.0 602.3L463.3 594.0L463.2 585.8L462.5 582.7L461.2 577.5L455.7 569.3L454.2 568.0L446.0 562.6L443.2 561.0L437.7 557.0L433.4 552.8L429.4 546.8L428.2 544.5L422.6 536.3L421.1 534.8L412.9 528.6L412.0 528.0L404.6 524.1L396.3 521.3L388.4 519.7L388.0 519.7L379.7 518.6L371.5 518.8L365.6 519.7L363.2 520.0L354.9 520.5L350.8 519.7L346.6 518.3L339.5 511.5L338.3 509.8L334.8 503.2L330.1 496.9L327.8 495.0L321.8 491.2L313.5 489.0L305.2 488.2L297.0 488.1L288.7 488.2L288.7 486.7L288.7 478.5L288.7 470.2L288.7 462.0L288.7 453.7L288.7 445.5L288.7 437.2L288.7 429.0L288.7 420.7L288.7 412.5L288.7 404.2L288.7 396.0L288.7 387.7L288.7 379.5L288.7 371.2L288.7 362.9L288.7 354.7L288.7 346.4L288.7 338.2L288.7 329.9L288.7 321.7L288.7 313.4L288.7 305.2L288.7 296.9ZM1154.1 313.4L1157.9 312.8L1158.9 313.4L1164.2 321.7L1161.8 329.9L1157.9 331.8L1149.6 330.5L1148.9 329.9L1145.4 321.7L1149.6 314.5ZM1205.9 313.4L1207.6 313.4L1207.6 313.4L1213.3 321.7L1212.2 329.9L1207.6 332.5L1199.3 330.9L1198.1 329.9L1194.6 321.7L1199.3 313.6ZM972.2 462.0L975.8 460.8L984.1 461.8L985.6 462.0L984.1 462.4L975.8 464.1ZM546.3 635.3L553.6 629.3L561.9 632.0L564.2 635.3L562.8 643.5L561.9 644.4L553.6 647.9L547.0 643.5ZM579.7 651.8L586.7 646.0L595.0 649.1L597.1 651.8L596.5 660.0L595.0 661.8L586.7 664.0L580.7 660.0ZM288.7 668.3L288.7 663.3L297.0 662.5L305.2 663.3L313.5 665.3L321.8 667.3L324.2 668.3L330.1 672.4L336.7 676.5L338.3 678.0L346.6 679.5L354.9 678.2L363.2 677.1L371.5 678.3L378.0 684.8L379.7 687.3L383.7 693.1L388.0 696.5L394.4 701.3L396.3 705.6L397.6 709.6L397.6 717.8L397.8 726.1L397.9 734.3L396.3 738.6L393.9 742.6L388.0 746.4L380.7 742.6L379.7 740.5L378.5 734.3L379.7 727.4L380.1 726.1L379.7 724.7L377.7 717.8L371.5 713.0L363.9 717.8L363.2 718.5L358.7 726.1L354.9 730.0L346.6 733.4L338.3 730.8L334.3 726.1L330.1 720.3L326.9 717.8L321.8 714.5L313.5 713.3L305.2 713.4L297.0 713.4L288.7 713.4L288.7 709.6L288.7 701.3L288.7 693.1L288.7 684.8L288.7 676.5ZM481.3 684.8L487.4 679.4L495.6 678.4L503.9 679.8L511.0 684.8L512.2 686.9L514.6 693.1L515.1 701.3L512.7 709.6L512.2 710.2L503.9 713.1L500.1 709.6L495.6 705.2L492.0 701.3L487.4 697.2L482.3 693.1ZM1181.0 701.3L1182.8 700.3L1191.0 700.6L1192.4 701.3L1199.3 708.5L1201.4 709.6L1207.6 712.3L1215.9 711.1L1224.1 714.4L1226.9 717.8L1232.4 724.9L1234.1 726.1L1240.7 730.7L1244.1 734.3L1247.9 742.6L1249.0 743.9L1257.3 747.0L1265.5 747.4L1273.8 746.4L1282.1 745.1L1290.4 745.8L1295.3 750.8L1298.7 756.3L1300.0 759.1L1306.9 765.1L1309.6 767.3L1315.2 772.6L1317.9 775.6L1323.5 780.6L1331.8 783.2L1340.0 783.8L1341.0 783.8L1347.9 792.1L1346.1 800.3L1346.6 808.6L1348.3 810.1L1356.6 814.0L1360.4 816.8L1364.1 825.1L1364.9 826.5L1373.2 830.7L1381.4 830.6L1389.7 829.0L1398.0 827.1L1406.3 829.0L1414.5 831.9L1419.6 833.3L1422.8 834.6L1431.1 839.3L1434.1 841.6L1439.4 846.7L1442.9 849.9L1447.7 855.6L1449.8 858.1L1455.9 863.1L1464.2 865.1L1470.5 866.4L1472.5 867.0L1480.1 874.6L1479.6 882.9L1480.0 891.1L1480.8 892.2L1489.1 896.9L1497.3 896.8L1505.6 896.8L1510.0 899.4L1512.1 907.6L1511.5 915.9L1513.4 924.1L1513.9 924.6L1522.2 930.3L1525.3 932.4L1530.4 937.7L1532.2 940.6L1538.7 947.3L1540.4 948.9L1547.0 954.8L1549.4 957.1L1555.3 962.9L1557.7 965.4L1563.6 971.3L1566.0 973.6L1571.8 979.5L1574.0 981.9L1580.1 989.9L1580.5 990.1L1588.4 995.2L1596.7 994.3L1605.0 996.0L1607.0 998.4L1613.2 1006.5L1613.4 1006.7L1621.5 1011.7L1629.8 1010.6L1638.1 1012.1L1641.1 1014.9L1646.3 1021.0L1647.9 1023.2L1647.7 1031.4L1647.5 1039.7L1654.6 1046.8L1657.6 1047.9L1662.9 1049.5L1671.2 1050.2L1679.5 1049.9L1687.7 1050.5L1696.0 1054.2L1698.5 1056.2L1704.3 1062.4L1705.9 1064.4L1712.6 1072.1L1713.3 1072.7L1720.9 1077.9L1729.1 1077.2L1737.4 1078.3L1739.7 1080.9L1745.7 1088.2L1746.8 1089.2L1754.0 1094.6L1762.2 1095.3L1770.5 1094.6L1770.5 1097.4L1770.5 1105.7L1770.5 1113.9L1770.5 1122.2L1770.5 1130.4L1770.5 1138.7L1770.5 1146.9L1770.5 1155.2L1770.5 1163.5L1770.5 1171.7L1770.5 1180.0L1770.5 1188.2L1770.5 1196.5L1770.5 1204.7L1770.5 1213.0L1770.5 1221.2L1770.5 1229.5L1770.5 1237.7L1762.2 1237.7L1754.0 1237.7L1745.7 1237.7L1737.4 1237.7L1729.1 1237.7L1720.9 1237.7L1712.6 1237.7L1704.3 1237.7L1696.0 1237.7L1687.7 1237.7L1679.5 1237.7L1671.2 1237.7L1662.9 1237.7L1654.6 1237.7L1646.3 1237.7L1638.1 1237.7L1629.8 1237.7L1621.5 1237.7L1613.2 1237.7L1605.0 1237.7L1596.7 1237.7L1588.4 1237.7L1580.1 1237.7L1571.8 1237.7L1563.6 1237.7L1555.3 1237.7L1547.0 1237.7L1538.7 1237.7L1530.4 1237.7L1522.2 1237.7L1513.9 1237.7L1505.6 1237.7L1497.3 1237.7L1489.1 1237.7L1480.8 1237.7L1472.5 1237.7L1464.2 1237.7L1455.9 1237.7L1447.7 1237.7L1439.4 1237.7L1431.1 1237.7L1422.8 1237.7L1414.5 1237.7L1406.3 1237.7L1398.0 1237.7L1389.7 1237.7L1381.4 1237.7L1373.2 1237.7L1364.9 1237.7L1356.6 1237.7L1348.3 1237.7L1340.0 1237.7L1331.8 1237.7L1323.5 1237.7L1315.2 1237.7L1306.9 1237.7L1298.7 1237.7L1290.4 1237.7L1282.1 1237.7L1273.8 1237.7L1265.5 1237.7L1257.3 1237.7L1249.0 1237.7L1240.7 1237.7L1232.4 1237.7L1224.1 1237.7L1215.9 1237.7L1207.6 1237.7L1199.3 1237.7L1191.0 1237.7L1182.8 1237.7L1174.5 1237.7L1166.2 1237.7L1157.9 1237.7L1149.6 1237.7L1141.4 1237.7L1133.1 1237.7L1124.8 1237.7L1116.5 1237.7L1108.2 1237.7L1100.0 1237.7L1091.7 1237.7L1083.4 1237.7L1075.1 1237.7L1066.9 1237.7L1058.6 1237.7L1050.3 1237.7L1042.0 1237.7L1033.7 1237.7L1025.5 1237.7L1017.2 1237.7L1008.9 1237.7L1000.6 1237.7L992.3 1237.7L984.1 1237.7L975.8 1237.7L967.5 1237.7L959.2 1237.7L951.0 1237.7L942.7 1237.7L934.4 1237.7L926.1 1237.7L917.8 1237.7L909.6 1237.7L901.3 1237.7L893.0 1237.7L884.7 1237.7L876.4 1237.7L868.2 1237.7L859.9 1237.7L851.6 1237.7L843.3 1237.7L835.1 1237.7L826.8 1237.7L818.5 1237.7L810.2 1237.7L801.9 1237.7L793.7 1237.7L785.4 1237.7L777.1 1237.7L768.8 1237.7L760.5 1237.7L752.3 1237.7L744.0 1237.7L735.7 1237.7L727.4 1237.7L719.2 1237.7L710.9 1237.7L702.6 1237.7L694.3 1237.7L686.0 1237.7L677.8 1237.7L669.5 1237.7L661.2 1237.7L652.9 1237.7L644.7 1237.7L636.4 1237.7L628.1 1237.7L619.8 1237.7L611.5 1237.7L603.3 1237.7L595.0 1237.7L586.7 1237.7L578.4 1237.7L570.1 1237.7L561.9 1237.7L553.6 1237.7L545.3 1237.7L537.0 1237.7L528.8 1237.7L520.5 1237.7L512.2 1237.7L503.9 1237.7L495.6 1237.7L487.4 1237.7L479.1 1237.7L470.8 1237.7L462.5 1237.7L454.2 1237.7L446.0 1237.7L437.7 1237.7L429.4 1237.7L421.1 1237.7L412.9 1237.7L404.6 1237.7L396.3 1237.7L388.0 1237.7L379.7 1237.7L371.5 1237.7L363.2 1237.7L354.9 1237.7L346.6 1237.7L338.3 1237.7L330.1 1237.7L321.8 1237.7L313.5 1237.7L305.2 1237.7L297.0 1237.7L288.7 1237.7L288.7 1229.5L288.7 1221.2L288.7 1213.0L288.7 1204.7L288.7 1196.5L288.7 1188.2L288.7 1180.0L288.7 1171.7L288.7 1163.5L288.7 1155.2L288.7 1146.9L288.7 1138.7L288.7 1134.3L297.0 1134.4L305.2 1134.3L313.5 1133.3L321.6 1130.4L321.8 1130.3L329.7 1122.2L330.1 1121.3L332.6 1113.9L331.1 1105.7L330.1 1104.7L323.1 1097.4L321.8 1096.1L315.7 1089.2L313.9 1080.9L314.9 1072.7L314.1 1064.4L313.5 1063.7L305.2 1061.4L297.0 1061.2L288.7 1061.4L288.7 1056.2L288.7 1047.9L288.7 1039.7L288.7 1031.4L288.7 1023.2L288.7 1014.9L288.7 1006.7L288.7 998.4L288.7 990.1L288.7 981.9L288.7 973.6L288.7 965.4L288.7 957.1L288.7 948.9L288.7 940.6L288.7 932.4L288.7 924.1L288.7 915.9L288.7 907.6L288.7 899.4L288.7 891.1L288.7 882.9L288.7 874.6L288.7 866.4L288.7 858.1L288.7 849.9L288.7 841.6L288.7 833.3L288.7 825.1L288.7 816.8L288.7 813.1L297.0 813.4L305.2 813.1L313.5 812.3L321.8 813.0L326.8 816.8L330.1 820.9L333.2 825.1L338.3 829.5L343.5 833.3L346.6 840.0L347.2 841.6L346.8 849.9L348.6 858.1L354.9 862.9L361.5 866.4L363.2 868.2L365.8 874.6L365.1 882.9L363.2 890.3L362.9 891.1L362.7 899.4L363.2 900.8L365.6 907.6L371.5 912.5L379.7 913.5L388.0 913.0L396.3 912.9L404.6 912.9L412.9 912.2L421.1 912.7L426.1 915.9L429.1 924.1L428.5 932.4L429.4 937.9L430.2 940.6L437.7 945.2L446.0 941.6L446.9 940.6L448.6 932.4L447.8 924.1L452.9 915.9L454.2 914.9L461.8 907.6L462.5 904.8L466.4 899.4L470.8 897.9L479.1 895.8L482.4 891.1L480.5 882.9L479.1 881.6L470.8 880.0L466.4 882.9L463.3 891.1L462.5 893.9L454.2 896.1L446.0 892.3L445.0 891.1L446.0 889.7L449.9 882.9L454.2 879.0L460.1 874.6L462.5 870.8L465.9 866.4L470.8 863.2L478.6 858.1L478.9 849.9L470.8 844.5L466.4 841.6L463.5 833.3L464.4 825.1L462.5 820.1L460.5 816.8L454.2 812.3L452.2 808.6L449.2 800.3L446.0 796.2L437.7 792.1L437.5 792.1L429.4 784.8L428.5 783.8L429.4 778.9L429.9 775.6L429.4 771.8L428.4 767.3L421.1 762.6L416.3 759.1L413.1 750.8L414.4 742.6L415.4 734.3L415.2 726.1L416.4 717.8L421.1 712.1L429.4 713.3L437.7 716.6L440.2 717.8L446.0 722.3L452.3 726.1L454.2 727.8L462.5 730.2L470.8 730.1L479.1 728.8L487.4 729.1L493.6 734.3L495.6 736.5L501.6 742.6L503.9 744.2L511.9 750.8L512.2 752.5L514.2 759.1L520.5 762.9L528.8 766.8L529.3 767.3L532.1 775.6L531.4 783.8L529.1 792.1L528.8 795.1L528.2 800.3L528.8 802.4L531.0 808.6L537.0 813.0L545.3 809.9L546.2 808.6L551.0 800.3L553.6 797.5L561.9 794.5L570.1 794.7L578.4 800.1L578.5 800.3L581.1 808.6L586.7 814.4L595.0 815.1L603.3 812.6L611.5 810.7L619.8 811.5L625.9 816.8L628.1 820.2L631.5 825.1L636.4 828.8L644.7 832.9L644.9 833.3L647.5 841.6L652.9 846.6L658.2 849.9L661.2 852.5L665.5 858.1L669.5 862.2L677.8 863.3L686.0 862.3L694.3 861.2L702.6 861.5L710.9 863.1L719.2 863.6L727.4 859.6L728.5 858.1L733.6 849.9L735.7 848.2L744.0 845.3L752.3 845.4L758.2 849.9L760.5 852.6L764.4 858.1L764.2 866.4L763.2 874.6L763.6 882.9L762.7 891.1L761.3 899.4L764.1 907.6L768.8 911.0L777.1 913.1L780.2 907.6L783.2 899.4L785.4 896.9L793.7 894.6L801.9 895.9L810.2 895.8L818.5 894.7L826.8 897.0L828.9 899.4L830.0 907.6L829.6 915.9L829.6 924.1L830.3 932.4L828.5 940.6L826.8 942.7L818.5 947.0L810.2 947.4L801.9 945.1L797.5 940.6L797.4 932.4L798.4 924.1L793.7 916.3L792.5 915.9L785.4 913.5L780.7 915.9L777.9 924.1L777.1 925.3L768.8 931.6L760.5 931.2L752.3 929.0L744.0 928.3L735.7 930.8L734.0 932.4L728.3 940.6L727.4 941.7L719.2 947.6L717.3 948.9L712.9 957.1L713.4 965.4L713.5 973.6L712.0 981.9L712.6 990.1L719.2 996.3L727.4 992.1L728.9 990.1L734.4 981.9L735.7 980.6L744.0 981.0L744.9 981.9L748.3 990.1L748.0 998.4L746.2 1006.7L745.4 1014.9L747.4 1023.2L752.3 1028.3L760.5 1030.2L768.8 1029.6L777.1 1029.8L785.4 1030.0L793.7 1026.1L795.8 1023.2L801.9 1015.4L802.4 1014.9L810.2 1007.2L810.7 1006.7L817.0 998.4L818.5 997.1L826.8 997.8L827.5 998.4L831.2 1006.7L830.7 1014.9L829.2 1023.2L829.1 1031.4L830.1 1039.7L830.7 1047.9L828.9 1056.2L826.8 1058.6L819.0 1064.4L818.5 1064.8L812.9 1072.7L812.5 1080.9L813.0 1089.2L812.3 1097.4L811.0 1105.7L810.2 1113.9L811.8 1122.2L814.2 1130.4L813.1 1138.7L810.2 1141.6L801.9 1146.3L801.0 1146.9L796.8 1155.2L793.7 1161.9L789.7 1163.5L785.4 1164.3L779.0 1171.7L778.0 1180.0L779.0 1188.2L785.4 1195.2L793.7 1193.9L797.6 1188.2L798.0 1180.0L797.7 1171.7L801.9 1164.7L810.2 1163.7L813.7 1163.5L818.5 1163.0L826.8 1162.3L835.1 1162.4L842.8 1163.5L843.3 1163.5L851.6 1163.9L852.7 1163.5L859.9 1159.3L862.6 1155.2L868.2 1148.3L870.8 1146.9L876.4 1143.8L880.4 1138.7L880.4 1130.4L878.9 1122.2L880.8 1113.9L882.8 1105.7L884.7 1099.6L886.7 1097.4L893.0 1092.3L896.6 1089.2L901.3 1084.8L903.1 1080.9L908.4 1072.7L909.6 1068.0L910.3 1064.4L909.6 1057.3L909.4 1056.2L907.9 1047.9L908.5 1039.7L909.6 1037.8L911.8 1031.4L915.9 1023.2L917.8 1020.6L926.1 1015.3L928.3 1014.9L934.4 1013.2L942.7 1012.2L951.0 1013.6L957.7 1014.9L959.2 1015.1L967.5 1015.0L967.7 1014.9L975.8 1010.4L978.3 1006.7L984.1 1000.2L987.2 998.4L992.3 995.1L996.6 990.1L992.4 981.9L992.3 981.9L984.1 977.7L979.7 973.6L983.7 965.4L984.1 965.0L992.3 960.5L1000.6 962.3L1008.9 961.3L1011.9 957.1L1017.2 949.7L1018.0 948.9L1025.5 942.5L1026.9 940.6L1033.7 932.5L1034.3 932.4L1042.0 930.1L1045.0 932.4L1049.0 940.6L1050.3 942.1L1058.5 948.9L1058.6 949.0L1064.1 957.1L1066.9 962.4L1075.1 962.9L1083.4 963.8L1091.7 963.4L1097.0 957.1L1094.4 948.9L1091.7 946.9L1083.4 942.4L1081.3 940.6L1075.1 933.5L1073.9 932.4L1066.9 928.5L1058.6 928.2L1050.3 928.1L1047.1 924.1L1043.6 915.9L1042.0 914.3L1033.7 909.3L1031.6 907.6L1028.4 899.4L1029.1 891.1L1032.7 882.9L1033.7 881.7L1042.0 878.1L1050.3 877.8L1057.7 874.6L1058.6 874.4L1066.9 869.5L1073.7 866.4L1075.1 865.8L1083.4 865.7L1091.7 861.1L1094.4 858.1L1098.3 849.9L1097.4 841.6L1092.9 833.3L1091.7 832.4L1083.4 827.1L1081.0 825.1L1076.8 816.8L1078.2 808.6L1078.4 800.3L1077.0 792.1L1078.6 783.8L1083.4 777.6L1091.7 779.9L1094.0 783.8L1098.6 792.1L1100.0 793.6L1108.2 794.6L1110.6 792.1L1116.5 786.7L1120.6 783.8L1124.8 782.5L1133.1 783.1L1141.4 783.8L1149.6 783.1L1157.9 781.1L1163.2 775.6L1160.7 767.3L1157.9 764.9L1149.6 759.2L1149.5 759.1L1141.4 751.5L1140.6 750.8L1133.1 744.5L1124.8 742.8L1116.5 743.2L1108.2 743.6L1105.2 742.6L1100.0 740.3L1091.7 736.0L1087.6 734.3L1083.4 730.9L1079.3 726.1L1080.1 717.8L1083.4 717.0L1091.7 716.2L1100.0 713.8L1108.2 712.0L1116.5 715.7L1124.8 717.6L1126.4 717.8L1133.1 718.7L1141.4 718.6L1146.4 717.8L1149.6 717.4L1157.9 716.1L1166.2 714.6L1174.3 709.6L1174.5 709.4ZM437.7 964.5L436.2 965.4L429.7 973.6L429.4 977.1L429.0 981.9L427.5 990.1L421.1 997.1L419.4 998.4L412.9 1006.5L412.8 1006.7L410.4 1014.9L412.9 1021.4L413.8 1023.2L421.1 1028.6L424.9 1031.4L429.1 1039.7L429.3 1047.9L428.7 1056.2L428.9 1064.4L428.7 1072.7L428.0 1080.9L428.8 1089.2L429.4 1090.4L437.7 1095.8L441.4 1097.4L446.0 1100.5L449.0 1105.7L454.2 1111.9L456.2 1113.9L462.5 1119.3L465.6 1122.2L470.8 1127.4L473.6 1130.4L479.1 1136.7L481.1 1138.7L487.4 1144.3L492.5 1146.9L495.6 1151.5L497.0 1155.2L497.0 1163.5L497.4 1171.7L503.9 1178.5L505.8 1180.0L512.2 1187.1L512.9 1188.2L520.5 1196.0L528.8 1192.2L531.3 1188.2L537.0 1180.3L538.2 1180.0L545.3 1178.1L553.6 1178.8L561.9 1179.8L570.1 1179.3L578.4 1175.5L581.0 1171.7L583.6 1163.5L581.8 1155.2L578.4 1151.8L571.5 1146.9L570.1 1145.8L561.9 1146.2L553.6 1146.0L547.0 1138.7L545.3 1136.2L539.9 1130.4L537.0 1128.4L529.5 1122.2L528.8 1121.3L523.3 1113.9L520.5 1111.6L513.2 1105.7L512.2 1103.6L509.8 1097.4L511.7 1089.2L512.2 1086.5L513.5 1080.9L512.2 1073.2L512.1 1072.7L506.7 1064.4L503.9 1062.0L498.0 1056.2L496.3 1047.9L497.2 1039.7L495.6 1037.8L490.4 1031.4L487.4 1028.4L482.6 1023.2L479.1 1018.3L473.2 1014.9L470.8 1013.8L464.2 1006.7L462.5 1001.1L458.8 998.4L454.2 997.4L446.2 990.1L451.2 981.9L454.2 979.7L459.9 981.9L462.5 987.2L463.3 990.1L470.8 996.3L476.5 990.1L474.4 981.9L470.8 977.5L465.4 973.6L462.5 966.2L462.1 965.4L454.2 961.5L446.0 961.9ZM503.9 763.4L497.1 767.3L495.7 775.6L503.9 781.2L512.0 775.6L512.2 774.9L514.2 767.3L512.2 762.9ZM603.3 1046.2L600.1 1047.9L595.0 1053.9L594.1 1056.2L586.7 1063.1L584.4 1064.4L580.5 1072.7L586.7 1080.5L591.2 1080.9L595.0 1081.2L596.2 1080.9L603.3 1079.3L611.5 1074.6L612.8 1072.7L614.7 1064.4L614.1 1056.2L611.5 1051.8L606.2 1047.9ZM636.4 1030.7L635.3 1031.4L629.6 1039.7L629.6 1047.9L632.4 1056.2L636.4 1060.8L640.8 1064.4L644.7 1068.5L647.7 1072.7L652.9 1078.1L661.2 1080.6L669.5 1079.8L677.8 1074.5L679.0 1072.7L684.5 1064.4L686.0 1063.2L694.3 1062.5L702.6 1063.9L710.9 1061.8L713.5 1056.2L710.9 1050.7L709.2 1047.9L702.6 1043.5L698.2 1039.7L694.3 1034.8L690.0 1031.4L686.0 1029.1L677.8 1028.7L669.5 1029.4L661.2 1029.7L652.9 1029.2L644.7 1028.9ZM1050.3 964.2L1048.4 965.4L1045.4 973.6L1050.3 979.9L1058.6 980.0L1063.5 973.6L1063.9 965.4L1058.6 962.6ZM647.7 816.8L652.9 810.9L661.2 814.6L663.3 816.8L665.8 825.1L661.2 829.1L652.9 829.4L647.4 825.1Z"/>
<path fill="#f89540" fill-rule="evenodd" d="M1179.8 734.3L1182.8 731.5L1191.0 731.2L1194.6 734.3L1199.3 741.6L1200.0 742.6L1207.6 747.5L1215.9 747.0L1224.1 747.6L1227.2 750.8L1232.1 759.1L1232.4 759.4L1240.7 765.4L1242.9 767.3L1248.9 775.6L1249.0 775.7L1257.3 782.1L1259.0 783.8L1265.5 791.3L1266.4 792.1L1273.8 797.0L1277.8 800.3L1278.4 808.6L1273.8 812.8L1267.7 816.8L1265.5 818.5L1259.8 825.1L1257.3 827.8L1250.7 833.3L1249.0 834.9L1242.8 841.6L1240.7 843.5L1232.4 849.7L1232.3 849.9L1229.7 858.1L1232.4 862.5L1240.7 866.3L1249.0 864.9L1257.3 860.8L1259.8 858.1L1265.5 850.6L1266.3 849.9L1273.8 845.1L1282.1 845.1L1290.4 847.0L1298.7 847.8L1306.9 844.8L1310.1 841.6L1315.2 835.0L1316.9 833.3L1323.5 829.0L1331.8 828.0L1340.0 828.7L1345.8 833.3L1343.6 841.6L1340.0 844.5L1333.0 849.9L1331.8 852.1L1328.0 858.1L1323.5 862.5L1315.2 865.8L1314.6 866.4L1310.4 874.6L1310.8 882.9L1314.8 891.1L1315.2 891.5L1323.5 898.0L1324.8 899.4L1331.8 907.5L1332.0 907.6L1340.0 911.9L1348.3 912.8L1356.6 913.1L1364.9 913.4L1373.2 912.6L1381.4 911.4L1389.7 912.2L1394.6 915.9L1394.6 924.1L1389.7 928.3L1383.2 932.4L1381.4 934.9L1378.6 940.6L1381.4 945.1L1389.7 948.2L1398.0 946.9L1406.3 947.1L1408.7 948.9L1413.1 957.1L1413.4 965.4L1411.5 973.6L1406.3 979.1L1398.0 979.0L1389.7 977.9L1381.7 981.9L1381.4 982.5L1378.4 990.1L1373.2 994.5L1364.9 997.6L1363.8 998.4L1361.2 1006.7L1364.9 1012.2L1373.2 1013.4L1378.4 1006.7L1381.4 998.8L1383.7 998.4L1389.7 998.0L1390.3 998.4L1398.0 1005.4L1399.0 1006.7L1406.3 1014.2L1407.1 1014.9L1413.8 1023.2L1414.5 1024.0L1422.8 1030.9L1423.4 1031.4L1430.3 1039.7L1431.1 1040.6L1439.4 1047.5L1440.0 1047.9L1446.7 1056.2L1447.7 1057.7L1455.9 1063.1L1464.2 1062.6L1472.5 1063.4L1473.7 1064.4L1480.0 1072.7L1480.8 1073.7L1489.1 1080.5L1489.6 1080.9L1496.5 1089.2L1497.3 1090.4L1505.6 1096.5L1513.9 1096.9L1522.2 1095.9L1530.4 1095.7L1538.7 1096.2L1547.0 1096.5L1555.3 1096.0L1563.6 1094.9L1571.8 1097.0L1572.4 1097.4L1580.0 1105.7L1580.1 1105.8L1588.4 1112.4L1590.4 1113.9L1595.8 1122.2L1591.6 1130.4L1588.4 1132.4L1580.1 1134.0L1571.8 1135.5L1567.4 1138.7L1565.5 1146.9L1568.6 1155.2L1571.8 1158.2L1580.1 1161.5L1588.4 1162.5L1596.7 1162.9L1605.0 1162.9L1613.2 1162.8L1621.5 1162.8L1629.8 1162.7L1638.1 1162.8L1646.3 1162.8L1654.6 1162.8L1662.9 1162.7L1671.2 1162.8L1679.5 1162.8L1687.7 1162.8L1696.0 1162.5L1704.3 1162.8L1707.9 1163.5L1712.6 1164.4L1720.9 1168.6L1723.8 1171.7L1729.1 1179.9L1729.2 1180.0L1734.8 1188.2L1737.4 1190.7L1745.7 1194.6L1754.0 1196.1L1762.2 1196.3L1770.5 1196.1L1770.5 1196.5L1770.5 1204.7L1770.5 1213.0L1770.5 1221.2L1770.5 1229.5L1770.5 1237.7L1762.2 1237.7L1754.0 1237.7L1745.7 1237.7L1737.4 1237.7L1729.1 1237.7L1720.9 1237.7L1712.6 1237.7L1704.3 1237.7L1696.0 1237.7L1687.7 1237.7L1679.5 1237.7L1671.2 1237.7L1662.9 1237.7L1654.6 1237.7L1646.3 1237.7L1638.1 1237.7L1629.8 1237.7L1621.5 1237.7L1613.2 1237.7L1605.0 1237.7L1596.7 1237.7L1588.4 1237.7L1580.1 1237.7L1571.8 1237.7L1563.6 1237.7L1555.3 1237.7L1547.0 1237.7L1538.7 1237.7L1530.4 1237.7L1529.0 1237.7L1529.0 1229.5L1529.0 1221.2L1528.9 1213.0L1529.0 1204.7L1529.3 1196.5L1529.1 1188.2L1527.5 1180.0L1523.6 1171.7L1522.2 1170.0L1515.2 1163.5L1513.9 1162.6L1505.6 1161.9L1504.1 1163.5L1497.7 1171.7L1497.3 1172.1L1489.1 1178.8L1483.4 1180.0L1480.8 1180.5L1474.9 1180.0L1472.5 1179.7L1464.2 1178.0L1455.9 1177.8L1450.5 1180.0L1447.7 1183.4L1445.8 1188.2L1447.7 1191.4L1452.4 1196.5L1455.9 1198.5L1462.5 1204.7L1463.5 1213.0L1462.3 1221.2L1462.0 1229.5L1462.4 1237.7L1455.9 1237.7L1447.7 1237.7L1439.4 1237.7L1431.1 1237.7L1422.8 1237.7L1414.5 1237.7L1406.3 1237.7L1398.0 1237.7L1389.7 1237.7L1381.4 1237.7L1373.2 1237.7L1364.9 1237.7L1356.6 1237.7L1348.3 1237.7L1340.0 1237.7L1331.8 1237.7L1323.5 1237.7L1315.2 1237.7L1306.9 1237.7L1298.7 1237.7L1290.4 1237.7L1282.1 1237.7L1273.8 1237.7L1265.5 1237.7L1257.3 1237.7L1249.0 1237.7L1240.7 1237.7L1232.4 1237.7L1224.1 1237.7L1215.9 1237.7L1207.6 1237.7L1199.3 1237.7L1191.0 1237.7L1182.8 1237.7L1174.5 1237.7L1166.2 1237.7L1157.9 1237.7L1149.6 1237.7L1141.4 1237.7L1133.1 1237.7L1124.8 1237.7L1116.5 1237.7L1108.2 1237.7L1100.0 1237.7L1091.7 1237.7L1083.4 1237.7L1075.1 1237.7L1066.9 1237.7L1058.6 1237.7L1050.3 1237.7L1042.0 1237.7L1033.7 1237.7L1025.5 1237.7L1017.2 1237.7L1008.9 1237.7L1000.6 1237.7L992.3 1237.7L984.1 1237.7L975.8 1237.7L967.5 1237.7L959.2 1237.7L951.0 1237.7L942.7 1237.7L934.4 1237.7L926.1 1237.7L917.8 1237.7L909.6 1237.7L901.3 1237.7L893.0 1237.7L884.7 1237.7L879.4 1237.7L879.7 1229.5L879.5 1221.2L878.7 1213.0L879.4 1204.7L884.7 1197.9L887.6 1196.5L893.0 1193.7L897.6 1188.2L901.3 1184.2L905.2 1180.0L909.6 1175.5L913.1 1171.7L909.6 1167.0L906.5 1163.5L901.3 1158.2L898.5 1155.2L896.6 1146.9L896.3 1138.7L896.0 1130.4L896.6 1122.2L901.3 1116.0L902.8 1113.9L909.6 1105.8L909.6 1105.7L909.6 1103.1L909.4 1097.4L908.5 1089.2L909.6 1086.7L911.8 1080.9L916.5 1072.7L917.8 1066.1L918.2 1064.4L917.8 1061.0L917.3 1056.2L916.2 1047.9L916.3 1039.7L917.8 1033.7L919.2 1031.4L926.1 1024.6L934.4 1028.6L942.7 1028.8L951.0 1025.9L959.2 1025.3L967.5 1027.1L973.1 1031.4L975.8 1034.8L979.8 1039.7L984.1 1043.4L992.3 1047.0L1000.6 1046.8L1008.9 1045.9L1017.2 1046.1L1025.5 1046.3L1033.7 1046.2L1042.0 1046.2L1050.3 1046.3L1058.6 1046.1L1066.9 1045.9L1075.1 1046.8L1083.3 1047.9L1083.4 1047.9L1083.5 1047.9L1091.7 1046.3L1096.0 1039.7L1095.9 1031.4L1095.8 1023.2L1100.0 1016.1L1101.4 1014.9L1108.2 1010.6L1112.1 1006.7L1113.6 998.4L1113.0 990.1L1112.6 981.9L1112.8 973.6L1112.1 965.4L1111.6 957.1L1112.8 948.9L1113.6 940.6L1110.9 932.4L1109.0 924.1L1109.0 915.9L1109.5 907.6L1108.2 901.7L1106.9 899.4L1100.0 894.9L1091.7 896.7L1083.4 895.7L1080.0 891.1L1079.1 882.9L1083.4 879.4L1091.7 875.7L1092.9 874.6L1100.0 867.9L1101.8 866.4L1108.2 860.1L1110.4 858.1L1112.6 849.9L1112.3 841.6L1111.8 833.3L1112.3 825.1L1115.5 816.8L1116.5 815.8L1124.8 813.4L1133.1 814.0L1141.4 812.3L1144.6 808.6L1147.2 800.3L1149.6 797.0L1157.9 795.0L1166.2 796.4L1174.5 795.4L1177.8 792.1L1179.8 783.8L1179.0 775.6L1178.7 767.3L1179.5 759.1L1179.0 750.8L1178.1 742.6ZM1331.8 931.1L1330.3 932.4L1328.4 940.6L1331.8 945.3L1340.0 947.4L1347.3 940.6L1343.8 932.4L1340.0 929.8ZM581.2 833.3L586.7 827.9L595.0 829.6L598.1 833.3L596.5 841.6L595.0 843.3L586.7 848.5L585.0 849.9L578.7 858.1L578.4 858.4L570.1 863.9L567.0 866.4L564.2 874.6L561.9 878.6L553.6 879.7L545.3 881.7L544.9 874.6L545.3 873.9L548.3 866.4L553.6 862.4L560.0 858.1L561.9 855.5L565.2 849.9L570.1 845.8L576.5 841.6L578.4 838.7ZM600.7 866.4L603.3 863.9L611.5 861.8L619.8 862.7L628.1 862.5L636.4 861.9L644.7 863.6L647.0 866.4L645.2 874.6L644.7 875.2L636.4 880.4L632.7 882.9L631.1 891.1L636.4 895.4L642.9 899.4L644.7 902.4L646.8 907.6L644.7 911.0L636.4 914.3L628.1 912.5L619.8 912.0L614.4 915.9L614.7 924.1L619.8 928.4L625.6 932.4L628.1 936.4L630.3 940.6L628.1 943.8L619.8 948.0L611.5 947.5L603.3 945.9L595.0 945.6L586.7 947.3L584.3 948.9L578.9 957.1L578.5 965.4L581.8 973.6L586.7 977.1L595.0 981.8L595.1 981.9L596.0 990.1L595.0 991.2L586.7 996.6L584.5 998.4L579.3 1006.7L578.4 1008.8L570.1 1011.8L564.6 1014.9L562.4 1023.2L570.1 1029.0L578.4 1028.5L580.1 1023.2L582.4 1014.9L586.7 1012.7L593.3 1014.9L595.0 1016.0L598.3 1023.2L595.0 1027.7L586.7 1031.0L584.3 1031.4L580.1 1039.7L578.4 1044.1L570.1 1047.8L561.9 1046.9L553.6 1046.1L545.3 1046.9L537.0 1045.5L531.5 1039.7L528.8 1035.0L524.7 1031.4L520.5 1029.3L512.2 1029.8L503.9 1028.6L496.7 1023.2L495.6 1017.3L495.3 1014.9L495.6 1013.7L497.4 1006.7L495.6 1003.0L492.2 998.4L487.4 994.8L485.1 990.1L483.5 981.9L480.3 973.6L479.1 970.5L477.1 965.4L478.9 957.1L479.1 956.9L484.6 948.9L487.4 946.8L495.5 940.6L495.6 940.2L497.6 932.4L496.9 924.1L497.1 915.9L497.5 907.6L496.0 899.4L495.6 897.7L494.5 891.1L495.6 887.0L498.3 882.9L503.9 879.9L512.2 879.1L520.5 879.6L528.8 879.8L537.0 879.7L545.2 882.9L545.3 883.1L546.6 891.1L553.6 897.5L561.9 894.2L563.8 891.1L567.0 882.9L570.1 881.2L578.4 880.8L586.7 879.9L593.7 874.6L595.0 873.2ZM537.0 945.2L531.2 948.9L529.5 957.1L537.0 963.8L545.3 961.6L548.1 957.1L546.4 948.9L545.3 947.7ZM1328.8 866.4L1331.8 863.2L1340.0 863.9L1344.2 866.4L1347.3 874.6L1340.0 881.8L1331.8 877.0L1330.1 874.6ZM288.7 899.4L288.7 896.3L297.0 896.5L305.2 896.3L313.5 895.6L321.8 896.3L326.7 899.4L330.1 906.9L330.3 907.6L330.1 911.6L329.9 915.9L330.1 917.2L331.6 924.1L338.3 929.4L343.0 932.4L346.6 938.8L347.3 940.6L346.6 944.5L346.0 948.9L346.2 957.1L346.6 957.8L354.9 962.9L363.2 957.8L363.7 957.1L369.4 948.9L371.5 946.9L379.7 944.3L388.0 945.2L393.8 948.9L395.9 957.1L388.0 964.4L386.7 965.4L379.7 973.2L379.4 973.6L379.5 981.9L379.7 984.0L380.4 990.1L379.7 996.0L379.5 998.4L379.7 1000.4L380.8 1006.7L388.0 1012.7L392.3 1014.9L396.3 1018.1L399.3 1023.2L404.6 1028.9L407.4 1031.4L412.9 1036.3L415.7 1039.7L416.2 1047.9L414.7 1056.2L414.4 1064.4L415.0 1072.7L415.2 1080.9L414.9 1089.2L413.8 1097.4L413.4 1105.7L414.1 1113.9L413.4 1122.2L412.9 1123.2L404.6 1129.9L396.3 1130.4L388.0 1129.6L379.7 1129.3L371.5 1129.7L363.2 1130.2L354.9 1129.6L346.6 1123.5L346.1 1122.2L346.0 1113.9L346.1 1105.7L340.6 1097.4L338.3 1095.9L330.1 1089.5L329.7 1089.2L327.1 1080.9L328.5 1072.7L330.1 1066.1L330.6 1064.4L330.7 1056.2L330.1 1054.6L325.0 1047.9L321.8 1046.2L313.5 1046.1L305.2 1047.9L304.6 1047.9L297.0 1048.2L289.6 1047.9L288.7 1047.9L288.7 1039.7L288.7 1031.4L288.7 1023.2L288.7 1014.9L288.7 1006.7L288.7 998.4L288.7 990.1L288.7 981.9L288.7 973.6L288.7 965.4L288.7 957.1L288.7 948.9L288.7 940.6L288.7 932.4L288.7 924.1L288.7 915.9L288.7 907.6ZM1479.5 948.9L1480.8 947.5L1489.1 945.2L1494.7 948.9L1496.7 957.1L1489.1 963.9L1480.8 961.1L1478.2 957.1ZM664.5 965.4L669.5 962.0L677.8 964.2L678.9 965.4L680.7 973.6L677.8 977.9L669.5 980.6L662.4 973.6ZM730.9 1064.4L735.7 1061.6L744.0 1063.8L744.7 1064.4L747.7 1072.7L744.0 1078.6L735.7 1080.2L729.0 1072.7ZM1596.6 1080.9L1596.7 1080.9L1605.0 1078.3L1609.9 1080.9L1613.2 1087.8L1613.6 1089.2L1613.2 1090.2L1605.4 1097.4L1605.0 1097.6L1604.7 1097.4L1596.7 1092.1L1594.6 1089.2ZM617.9 1097.4L619.8 1096.2L623.1 1097.4L628.1 1099.8L631.9 1105.7L636.4 1111.5L644.1 1113.9L644.7 1114.1L646.7 1113.9L652.9 1113.5L661.2 1112.1L669.5 1112.5L672.4 1113.9L677.8 1117.9L680.7 1122.2L686.0 1128.4L694.3 1130.3L702.6 1129.6L710.9 1128.8L719.2 1129.1L727.4 1129.9L735.7 1129.9L744.0 1125.6L746.1 1122.2L751.7 1113.9L752.3 1113.5L760.5 1112.9L768.8 1113.8L777.1 1107.6L778.4 1105.7L785.4 1097.6L787.5 1097.4L793.7 1096.8L794.5 1097.4L798.9 1105.7L799.1 1113.9L797.5 1122.2L793.7 1126.7L785.4 1130.2L785.1 1130.4L779.2 1138.7L777.1 1141.7L769.6 1146.9L768.8 1147.4L762.6 1155.2L760.5 1158.1L754.1 1163.5L752.3 1164.6L745.9 1171.7L744.0 1174.5L736.5 1180.0L735.7 1180.4L727.4 1180.6L724.1 1180.0L719.2 1179.1L710.9 1178.5L704.3 1180.0L702.6 1180.4L696.3 1188.2L696.5 1196.5L697.9 1204.7L698.2 1213.0L697.8 1221.2L697.7 1229.5L697.8 1237.7L694.3 1237.7L686.0 1237.7L678.9 1237.7L678.6 1229.5L678.9 1221.2L679.9 1213.0L679.0 1204.7L677.8 1202.9L672.0 1196.5L669.5 1194.3L664.0 1188.2L661.2 1184.0L655.4 1180.0L652.9 1178.8L644.7 1178.7L636.4 1179.5L628.1 1179.4L619.8 1179.5L611.5 1179.8L603.3 1178.9L595.4 1171.7L595.5 1163.5L595.5 1155.2L595.0 1154.5L588.2 1146.9L586.7 1145.8L580.8 1138.7L584.1 1130.4L586.7 1128.9L595.0 1123.3L596.0 1122.2L603.3 1114.7L604.1 1113.9L611.5 1105.7L611.5 1105.6ZM288.7 1146.9L288.7 1141.3L297.0 1141.2L305.2 1141.3L313.5 1142.4L321.8 1146.1L322.7 1146.9L329.7 1155.2L330.1 1155.4L338.3 1158.6L346.6 1160.8L354.2 1163.5L354.9 1163.8L363.2 1164.8L371.5 1164.0L379.7 1163.7L388.0 1163.9L396.3 1164.1L404.6 1164.0L409.6 1163.5L412.9 1163.1L421.1 1162.3L429.4 1162.5L437.7 1162.4L446.0 1161.4L454.2 1161.9L456.6 1163.5L462.5 1170.1L463.6 1171.7L470.8 1178.7L472.7 1180.0L479.1 1186.7L480.1 1188.2L487.4 1195.5L490.0 1196.5L495.6 1200.9L497.3 1204.7L497.7 1213.0L497.3 1221.2L497.1 1229.5L497.3 1237.7L495.6 1237.7L487.4 1237.7L479.1 1237.7L470.8 1237.7L462.5 1237.7L454.2 1237.7L446.0 1237.7L437.7 1237.7L429.4 1237.7L421.1 1237.7L412.9 1237.7L404.6 1237.7L396.3 1237.7L388.0 1237.7L379.7 1237.7L371.5 1237.7L363.2 1237.7L354.9 1237.7L346.6 1237.7L338.3 1237.7L330.1 1237.7L321.8 1237.7L313.5 1237.7L305.2 1237.7L297.0 1237.7L288.7 1237.7L288.7 1229.5L288.7 1221.2L288.7 1213.0L288.7 1204.7L288.7 1196.5L288.7 1188.2L288.7 1180.0L288.7 1171.7L288.7 1163.5L288.7 1155.2Z"/>
<path fill="#feba2c" fill-rule="evenodd" d="M1114.3 882.9L1116.5 881.2L1124.8 879.1L1133.1 879.1L1141.4 881.9L1142.4 882.9L1146.6 891.1L1146.8 899.4L1143.6 907.6L1141.4 909.6L1135.4 915.9L1133.1 919.2L1130.0 924.1L1124.8 930.2L1116.5 924.2L1116.5 924.1L1115.6 915.9L1116.5 907.7L1116.5 907.6L1116.5 907.3L1116.1 899.4L1114.0 891.1ZM1229.7 882.9L1232.4 879.3L1240.7 877.5L1247.1 882.9L1245.9 891.1L1240.7 895.9L1232.4 898.6L1231.1 899.4L1228.9 907.6L1228.9 915.9L1229.1 924.1L1229.1 932.4L1229.6 940.6L1230.1 948.9L1228.5 957.1L1224.1 961.8L1215.9 962.9L1207.6 962.3L1200.9 965.4L1199.3 967.2L1196.9 973.6L1197.4 981.9L1196.2 990.1L1191.0 994.8L1184.0 998.4L1182.8 999.7L1179.7 1006.7L1174.5 1013.1L1166.2 1012.7L1161.8 1006.7L1164.5 998.4L1166.2 997.1L1174.5 993.7L1177.9 990.1L1178.6 981.9L1178.4 973.6L1178.7 965.4L1179.3 957.1L1178.9 948.9L1178.8 940.6L1182.8 933.0L1183.4 932.4L1191.0 927.9L1195.3 924.1L1196.6 915.9L1196.1 907.6L1199.2 899.4L1199.3 899.2L1207.6 895.9L1215.9 896.2L1224.1 895.9L1227.6 891.1ZM944.6 1039.7L951.0 1034.8L959.2 1033.8L966.9 1039.7L967.5 1040.5L973.8 1047.9L975.8 1050.2L980.3 1056.2L980.2 1064.4L980.0 1072.7L984.1 1077.5L988.7 1080.9L992.3 1083.4L997.2 1089.2L1000.6 1093.6L1008.9 1097.4L1017.2 1096.9L1025.5 1096.1L1033.7 1096.3L1042.0 1096.3L1050.3 1096.1L1058.6 1096.9L1066.8 1097.4L1066.9 1097.4L1066.9 1097.4L1075.1 1093.9L1079.3 1089.2L1080.6 1080.9L1079.9 1072.7L1081.9 1064.4L1083.4 1063.3L1091.7 1061.0L1100.0 1061.7L1106.6 1064.4L1108.2 1065.5L1113.0 1072.7L1113.8 1080.9L1111.9 1089.2L1108.2 1093.0L1102.5 1097.4L1100.0 1099.7L1095.5 1105.7L1091.7 1110.3L1087.3 1113.9L1083.4 1116.8L1078.7 1122.2L1075.1 1126.9L1066.9 1130.3L1058.6 1129.6L1050.3 1128.7L1042.0 1128.9L1033.7 1128.9L1025.5 1128.7L1017.2 1129.5L1008.9 1130.2L1000.6 1127.4L996.6 1122.2L992.3 1116.0L989.8 1113.9L984.1 1111.2L975.8 1111.3L970.0 1113.9L967.5 1115.7L962.7 1122.2L959.2 1126.2L953.3 1130.4L951.0 1132.3L945.5 1138.7L942.7 1142.0L937.3 1146.9L934.4 1149.7L930.0 1155.2L926.1 1160.3L917.8 1160.3L911.2 1155.2L909.6 1147.7L909.4 1146.9L909.6 1146.5L912.3 1138.7L912.0 1130.4L911.7 1122.2L915.2 1113.9L916.9 1105.7L916.4 1097.4L916.2 1089.2L917.8 1085.2L921.1 1080.9L926.1 1073.1L926.5 1072.7L927.9 1064.4L927.2 1056.2L930.6 1047.9L934.4 1046.2L942.7 1042.1ZM1235.5 1047.9L1240.7 1045.1L1249.0 1044.7L1257.0 1047.9L1257.3 1048.1L1263.3 1056.2L1265.5 1058.7L1272.9 1064.4L1273.8 1065.2L1278.9 1072.7L1282.1 1077.2L1290.4 1078.9L1296.1 1072.7L1298.7 1069.1L1302.6 1064.4L1306.9 1060.5L1310.6 1056.2L1315.2 1049.0L1318.3 1047.9L1323.5 1046.5L1325.3 1047.9L1331.2 1056.2L1331.8 1057.2L1340.0 1063.2L1348.3 1062.8L1356.6 1063.4L1358.1 1064.4L1362.6 1072.7L1362.4 1080.9L1362.8 1089.2L1364.9 1092.5L1373.2 1096.8L1381.4 1096.3L1389.7 1097.2L1390.0 1097.4L1396.1 1105.7L1397.0 1113.9L1395.4 1122.2L1389.7 1128.4L1381.4 1129.1L1373.2 1128.7L1369.2 1130.4L1364.9 1134.0L1362.0 1138.7L1356.6 1144.4L1353.1 1146.9L1348.3 1151.3L1345.4 1155.2L1340.0 1161.7L1331.8 1163.0L1323.5 1162.3L1320.7 1163.5L1315.2 1167.0L1312.2 1171.7L1306.9 1177.6L1303.4 1180.0L1298.7 1184.0L1295.8 1188.2L1295.1 1196.5L1295.9 1204.7L1296.1 1213.0L1295.9 1221.2L1295.8 1229.5L1295.9 1237.7L1290.4 1237.7L1282.1 1237.7L1273.8 1237.7L1265.5 1237.7L1257.3 1237.7L1249.0 1237.7L1240.7 1237.7L1232.4 1237.7L1224.1 1237.7L1215.9 1237.7L1207.6 1237.7L1199.3 1237.7L1191.0 1237.7L1182.8 1237.7L1174.5 1237.7L1166.2 1237.7L1157.9 1237.7L1149.6 1237.7L1141.4 1237.7L1133.1 1237.7L1124.8 1237.7L1116.5 1237.7L1108.2 1237.7L1100.0 1237.7L1091.7 1237.7L1083.4 1237.7L1075.1 1237.7L1066.9 1237.7L1058.6 1237.7L1050.3 1237.7L1042.0 1237.7L1033.7 1237.7L1025.5 1237.7L1017.2 1237.7L1008.9 1237.7L1000.6 1237.7L996.3 1237.7L996.6 1229.5L996.3 1221.2L995.3 1213.0L996.2 1204.7L1000.6 1200.1L1006.5 1196.5L1008.9 1194.3L1012.9 1188.2L1008.9 1180.2L1008.4 1180.0L1000.6 1177.6L995.4 1171.7L998.0 1163.5L1000.6 1161.6L1008.9 1162.0L1010.5 1163.5L1014.0 1171.7L1017.2 1178.9L1025.5 1179.5L1033.7 1179.3L1041.9 1180.0L1042.0 1180.0L1050.3 1180.4L1051.6 1180.0L1058.6 1177.1L1062.7 1171.7L1066.9 1166.1L1069.9 1163.5L1075.1 1159.6L1079.1 1155.2L1083.4 1148.9L1086.9 1146.9L1091.7 1145.3L1100.0 1146.3L1108.2 1144.3L1112.3 1138.7L1116.5 1133.0L1119.6 1130.4L1124.8 1126.9L1128.9 1122.2L1133.1 1115.8L1136.5 1113.9L1141.4 1112.4L1149.6 1113.1L1157.9 1111.1L1162.1 1105.7L1166.2 1099.6L1169.5 1097.4L1174.5 1095.3L1182.8 1095.3L1191.0 1096.6L1199.3 1096.9L1207.6 1094.7L1212.3 1089.2L1212.7 1080.9L1212.4 1072.7L1215.9 1066.9L1218.5 1064.4L1224.1 1060.8L1228.6 1056.2L1232.4 1050.7ZM288.7 1155.2L288.7 1149.2L297.0 1148.6L305.2 1149.2L313.5 1153.3L315.6 1155.2L321.8 1161.6L325.9 1163.5L330.1 1164.8L338.3 1166.9L346.6 1171.0L347.7 1171.7L354.9 1178.0L363.2 1179.0L371.5 1178.2L379.7 1178.1L388.0 1178.2L396.3 1177.6L404.6 1178.0L408.5 1180.0L412.9 1185.9L413.8 1188.2L421.1 1196.2L422.8 1196.5L429.4 1197.5L437.7 1196.6L439.0 1196.5L446.0 1195.8L454.2 1196.3L454.8 1196.5L462.5 1202.5L463.3 1204.7L463.7 1213.0L463.2 1221.2L463.1 1229.5L463.2 1237.7L462.5 1237.7L454.2 1237.7L446.0 1237.7L437.7 1237.7L429.4 1237.7L421.1 1237.7L412.9 1237.7L404.6 1237.7L396.3 1237.7L388.0 1237.7L379.7 1237.7L371.5 1237.7L363.2 1237.7L354.9 1237.7L346.6 1237.7L338.3 1237.7L330.1 1237.7L321.8 1237.7L313.7 1237.7L314.4 1229.5L313.7 1221.2L313.5 1220.8L305.9 1213.0L305.2 1212.6L297.0 1211.9L288.7 1212.7L288.7 1204.7L288.7 1196.5L288.7 1188.2L288.7 1180.0L288.7 1171.7L288.7 1163.5ZM910.4 1188.2L917.8 1182.2L926.1 1181.5L930.6 1188.2L931.3 1196.5L930.9 1204.7L930.7 1213.0L930.9 1221.2L930.9 1229.5L930.9 1237.7L926.1 1237.7L917.8 1237.7L912.4 1237.7L912.2 1229.5L912.4 1221.2L913.0 1213.0L912.5 1204.7L909.6 1196.5L909.5 1196.5L909.6 1196.2Z"/>
</g>
<g stroke="#a4a4a4" stroke-opacity="0.3" stroke-width="2" fill="none"><line x1="424.0" y1="295.5" x2="424.0" y2="1220.0"/><line x1="623.9" y1="295.5" x2="623.9" y2="1220.0"/><line x1="823.8" y1="295.5" x2="823.8" y2="1220.0"/><line x1="1023.8" y1="295.5" x2="1023.8" y2="1220.0"/><line x1="1223.7" y1="295.5" x2="1223.7" y2="1220.0"/><line x1="1423.6" y1="295.5" x2="1423.6" y2="1220.0"/><line x1="1623.5" y1="295.5" x2="1623.5" y2="1220.0"/><line x1="295.7" y1="1156.7" x2="1756.5" y2="1156.7"/><line x1="295.7" y1="1023.6" x2="1756.5" y2="1023.6"/><line x1="295.7" y1="890.5" x2="1756.5" y2="890.5"/><line x1="295.7" y1="757.4" x2="1756.5" y2="757.4"/><line x1="295.7" y1="624.2" x2="1756.5" y2="624.2"/><line x1="295.7" y1="491.1" x2="1756.5" y2="491.1"/><line x1="295.7" y1="358.0" x2="1756.5" y2="358.0"/></g>
<g clip-path="url(#mc)" stroke="#000" stroke-width="2.1" fill="none" stroke-linejoin="round" stroke-linecap="round"><polyline points="557,297 572,325 583,330 586,348 592,361 623,379 663,404 697,426 710,426 748,448 797,475 812,474 852,488 867,493 859,503 857,532"/><polyline points="297,505 306,513 319,516 328,511 344,512 353,517 373,523 381,526 384,539 392,548 399,550 421,555 430,563 446,581 501,581 503,590 501,601 503,619 506,630 508,648 510,650 526,661 552,661 572,672 576,681 586,672 599,677 628,661 630,633 659,630 663,626 688,621 697,614 730,592 741,559 741,550 764,541 793,541 799,532 804,523 810,520 821,526 844,536 857,532 890,531 908,543 926,539 941,542 943,550 959,562 977,552 997,542 1017,536 1037,546 1052,537 1050,521 1086,517 1096,521 1109,517 1103,497 1107,492 1123,481 1129,470 1140,463 1154,461 1167,468 1178,475 1176,492 1185,495 1194,497 1194,510 1189,519 1187,548 1191,568 1198,577 1207,579 1229,566 1243,559 1267,555 1276,543 1291,535 1305,528 1320,526 1340,529 1373,530 1402,532 1411,541 1418,537 1433,530"/><polyline points="1433,530 1447,559 1420,561 1391,556 1382,548 1358,566 1327,564 1296,567 1265,572 1234,579 1207,592 1196,597 1180,608 1169,621 1180,630 1191,643 1198,661 1194,674 1198,679 1191,688 1180,697 1163,712 1160,719 1155,721 1156,728 1165,734 1163,750 1149,758 1125,761 1096,755 1083,757 1081,761 1088,772 1097,775 1103,785 1109,801 1097,812 1092,814 1074,817 1057,821 1054,831 1050,840 1052,846 1043,855 1039,862 1041,871 1043,894 1023,914 1012,916 1003,906 992,904 986,906 968,902 963,908 948,916 930,922 928,925 941,932 915,943 892,941 888,936 872,943 868,952 850,961 848,963 842,985 845,990 845,1007 839,1021 846,1026 835,1035 759,1054 724,1053 704,1057 697,1065 661,1057 588,1063 481,1034"/><polyline points="510,650 503,670 499,671 497,697 488,712 472,721 484,737 468,738 457,750 459,772 457,777 461,785 481,789 486,790 479,794 475,799 461,814 461,823 479,872 477,890 477,916 479,925 537,932 541,939 546,956 547,963 543,967 481,1034"/><polyline points="481,1034 510,1063 512,1072 523,1087 532,1105 550,1121 581,1130 595,1141 608,1141 610,1163 612,1192 608,1207 630,1208 637,1207 646,1216 641,1220"/><polyline points="1351,714 1345,728 1342,733 1354,739 1350,750 1354,757 1374,758 1374,763 1358,770 1356,781 1367,790 1362,805 1358,812 1371,823 1378,825 1380,839 1398,839 1402,835 1400,859 1422,861 1447,872 1440,881 1413,888 1407,893 1393,901 1391,910 1398,927 1391,945 1400,952 1385,963 1376,967 1362,983 1358,990 1349,999 1354,1010 1340,1021 1316,1027 1307,1054 1287,1087 1249,1105 1240,1116 1236,1132 1223,1143 1216,1152 1216,1161 1194,1166 1176,1166 1149,1176 1140,1176 1133,1165 1132,1161 1120,1155 1113,1156 1096,1174 1090,1185 1079,1198 1066,1209 1059,1218"/><polyline points="1351,714 1378,707 1429,714 1447,719 1469,723 1496,713 1509,710 1523,708 1534,708 1540,701 1543,696 1552,694 1558,690 1560,683"/><polyline points="1543,648 1560,683 1607,659"/><polyline points="1447,559 1460,575 1473,579 1487,595 1491,608 1489,617 1493,626 1496,634 1525,632 1527,639 1543,648 1560,652 1585,659 1607,659 1616,661 1625,658 1627,663 1625,674 1636,697 1643,714 1651,719 1671,723 1687,734 1689,741 1674,752 1671,759 1676,772 1676,790 1687,801 1696,805 1720,808 1716,814 1716,821 1714,824 1718,825 1731,841 1718,854 1709,852 1696,859 1685,868 1676,861 1671,850 1660,852 1649,854 1654,870 1656,876 1671,892 1669,905 1674,914 1671,923 1676,927 1674,936 1685,939 1696,927 1705,936 1716,954 1727,959 1740,959 1749,963 1756,966"/><polyline points="943,541 943,532 946,521 957,510 970,497 979,490 981,479 970,468 961,452 961,441 969,435 963,426 952,425 937,424 930,415 915,408 917,406 919,393 923,388 937,383 959,384 979,388 992,386 999,377 1001,368 1010,364 1012,361 1021,350 997,347 1041,344 1043,335 1039,319 1046,306 1052,304 1070,315 1097,304 1116,326 1114,333 1129,344 1156,341 1174,337 1198,341 1203,348 1223,337 1240,328 1251,330 1249,319 1265,319 1280,313 1300,304 1291,300 1265,298"/><polyline points="1096,304 1131,301 1140,308 1116,326"/><polyline points="963,297 957,304 986,318 999,317 995,297"/><polyline points="1041,364 1052,353 1059,350 1090,344 1096,345 1096,348 1123,355 1120,364 1132,370"/><polyline points="1041,364 1039,373 1043,386 1057,388 1074,386 1096,386 1105,384 1129,386 1138,397 1154,395 1169,388 1185,385 1194,393 1205,395 1209,406 1223,401 1231,401 1240,410 1243,404 1266,399 1297,400 1319,397 1334,395 1350,393 1352,384 1348,373 1354,357 1380,350 1407,335 1413,326 1429,328 1440,324 1458,317 1465,321 1469,337 1487,337 1496,333 1505,328 1512,334 1529,319 1534,306 1540,299 1543,297"/><polyline points="1334,395 1331,410 1345,426 1338,430 1342,448 1351,455 1362,448 1378,447 1409,457 1413,466 1409,475 1416,490 1416,503 1420,510 1416,519 1433,530"/></g>
<rect x="295.7" y="295.5" width="1460.8" height="924.5" fill="none" stroke="#000" stroke-width="3.3"/>
<text transform="translate(271.5 1169.5) scale(1 1.106)" font-size="41.67" text-anchor="end">28°N</text>
<text transform="translate(271.5 1036.4) scale(1 1.106)" font-size="41.67" text-anchor="end">30°N</text>
<text transform="translate(271.5 903.3) scale(1 1.106)" font-size="41.67" text-anchor="end">32°N</text>
<text transform="translate(271.5 770.2) scale(1 1.106)" font-size="41.67" text-anchor="end">34°N</text>
<text transform="translate(271.5 637.0) scale(1 1.106)" font-size="41.67" text-anchor="end">36°N</text>
<text transform="translate(271.5 503.9) scale(1 1.106)" font-size="41.67" text-anchor="end">38°N</text>
<text transform="translate(271.5 370.8) scale(1 1.106)" font-size="41.67" text-anchor="end">40°N</text>
<text transform="translate(424.5 1274.7) scale(1 1.106)" font-size="41.67" text-anchor="middle">60°E</text>
<text transform="translate(624.4 1274.7) scale(1 1.106)" font-size="41.67" text-anchor="middle">63°E</text>
<text transform="translate(824.3 1274.7) scale(1 1.106)" font-size="41.67" text-anchor="middle">66°E</text>
<text transform="translate(1024.3 1274.7) scale(1 1.106)" font-size="41.67" text-anchor="middle">69°E</text>
<text transform="translate(1224.2 1274.7) scale(1 1.106)" font-size="41.67" text-anchor="middle">72°E</text>
<text transform="translate(1424.1 1274.7) scale(1 1.106)" font-size="41.67" text-anchor="middle">75°E</text>
<text transform="translate(1624.0 1274.7) scale(1 1.106)" font-size="41.67" text-anchor="middle">78°E</text>
<text transform="translate(693.6 213.5) scale(1 1.106)" font-size="50.00" text-anchor="start">Temp(°C) @ 20250929_15</text>
<text transform="translate(620.4 270.3) scale(1 1.106)" font-size="50.00" text-anchor="start">Simulation Time: 20250927_12</text>
<polygon points="1847.6,233.8 1876.4,180.5 1905.2,233.8" fill="#f0f921"/><polygon points="1847.6,1282.8 1876.4,1334.5 1905.2,1282.8" fill="#0d0887"/><rect x="1847.6" y="1178.30" width="57.6" height="105.40" fill="#2a0593"/><rect x="1847.6" y="1073.30" width="57.6" height="105.40" fill="#5601a4"/><rect x="1847.6" y="968.30" width="57.6" height="105.40" fill="#7e03a8"/><rect x="1847.6" y="863.30" width="57.6" height="105.40" fill="#a11b9b"/><rect x="1847.6" y="758.30" width="57.6" height="105.40" fill="#bf3984"/><rect x="1847.6" y="653.30" width="57.6" height="105.40" fill="#d6556d"/><rect x="1847.6" y="548.30" width="57.6" height="105.40" fill="#ea7457"/><rect x="1847.6" y="443.30" width="57.6" height="105.40" fill="#f89540"/><rect x="1847.6" y="338.30" width="57.6" height="105.40" fill="#feba2c"/><rect x="1847.6" y="233.30" width="57.6" height="105.40" fill="#f7e425"/><polygon points="1847.6,1283.3 1847.6,233.3 1876.4,180.5 1905.2,233.3 1905.2,1283.3 1876.4,1334.5" fill="none" stroke="#000" stroke-width="3.3" stroke-linejoin="miter"/><line x1="1905.2" y1="1178.3" x2="1920.7" y2="1178.3" stroke="#000" stroke-width="3.3"/><text transform="translate(1934.0 1193.5) scale(1 1.106)" font-size="41.67" text-anchor="start">0</text><line x1="1905.2" y1="968.3" x2="1920.7" y2="968.3" stroke="#000" stroke-width="3.3"/><text transform="translate(1934.0 983.5) scale(1 1.106)" font-size="41.67" text-anchor="start">10</text><line x1="1905.2" y1="758.3" x2="1920.7" y2="758.3" stroke="#000" stroke-width="3.3"/><text transform="translate(1934.0 773.5) scale(1 1.106)" font-size="41.67" text-anchor="start">20</text><line x1="1905.2" y1="548.3" x2="1920.7" y2="548.3" stroke="#000" stroke-width="3.3"/><text transform="translate(1934.0 563.5) scale(1 1.106)" font-size="41.67" text-anchor="start">30</text><line x1="1905.2" y1="338.3" x2="1920.7" y2="338.3" stroke="#000" stroke-width="3.3"/><text transform="translate(1934.0 353.5) scale(1 1.106)" font-size="41.67" text-anchor="start">40</text>
</svg></body></html>
